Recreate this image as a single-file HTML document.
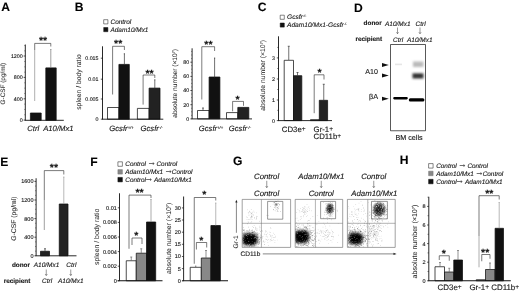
<!DOCTYPE html>
<html><head><meta charset="utf-8"><title>Figure</title>
<style>html,body{margin:0;padding:0;background:#fff;overflow:hidden}svg{display:block;filter:blur(0.45px)}text{stroke:#222;stroke-width:0.12px;text-rendering:geometricPrecision}text[transform]{stroke-width:0.05px;fill:#2a2a2a}</style></head>
<body>
<svg width="520" height="293" viewBox="0 0 520 293" stroke-linejoin="round" font-family='"Liberation Sans", sans-serif'>
<rect width="520" height="293" fill="#fff"/>
<text x="1.3" y="10.7" font-size="12.1" text-anchor="start" font-weight="bold" font-style="normal" fill="#000">A</text>
<text x="5.4" y="83.7" font-size="6.4" text-anchor="middle" font-weight="normal" font-style="normal" fill="#111" transform="rotate(-90 5.4 83.7)">G-CSF (pg/ml)</text>
<line x1="25.3" y1="44.5" x2="25.3" y2="120.3" stroke="#111" stroke-width="0.9"/>
<line x1="23.6" y1="120.1" x2="25.3" y2="120.1" stroke="#111" stroke-width="0.7"/>
<text x="22.7" y="122.01" font-size="5.3" text-anchor="end" font-weight="normal" font-style="normal" fill="#111">0</text>
<line x1="23.6" y1="98.8" x2="25.3" y2="98.8" stroke="#111" stroke-width="0.7"/>
<text x="22.7" y="100.71" font-size="5.3" text-anchor="end" font-weight="normal" font-style="normal" fill="#111">400</text>
<line x1="23.6" y1="77.4" x2="25.3" y2="77.4" stroke="#111" stroke-width="0.7"/>
<text x="22.7" y="79.31" font-size="5.3" text-anchor="end" font-weight="normal" font-style="normal" fill="#111">800</text>
<line x1="23.6" y1="56" x2="25.3" y2="56" stroke="#111" stroke-width="0.7"/>
<text x="22.7" y="57.91" font-size="5.3" text-anchor="end" font-weight="normal" font-style="normal" fill="#111">1200</text>
<line x1="24.2" y1="114.77" x2="25.3" y2="114.77" stroke="#333" stroke-width="0.5"/>
<line x1="24.2" y1="109.45" x2="25.3" y2="109.45" stroke="#333" stroke-width="0.5"/>
<line x1="24.2" y1="104.12" x2="25.3" y2="104.12" stroke="#333" stroke-width="0.5"/>
<line x1="24.2" y1="93.47" x2="25.3" y2="93.47" stroke="#333" stroke-width="0.5"/>
<line x1="24.2" y1="88.15" x2="25.3" y2="88.15" stroke="#333" stroke-width="0.5"/>
<line x1="24.2" y1="82.82" x2="25.3" y2="82.82" stroke="#333" stroke-width="0.5"/>
<line x1="24.2" y1="72.17" x2="25.3" y2="72.17" stroke="#333" stroke-width="0.5"/>
<line x1="24.2" y1="66.85" x2="25.3" y2="66.85" stroke="#333" stroke-width="0.5"/>
<line x1="24.2" y1="61.52" x2="25.3" y2="61.52" stroke="#333" stroke-width="0.5"/>
<line x1="24.2" y1="50.87" x2="25.3" y2="50.87" stroke="#333" stroke-width="0.5"/>
<line x1="24.2" y1="45.55" x2="25.3" y2="45.55" stroke="#333" stroke-width="0.5"/>
<rect x="30.4" y="113" width="10.800000000000004" height="7.299999999999997" fill="#111" stroke="#111" stroke-width="0.75"/>
<rect x="45.8" y="67.9" width="10.400000000000006" height="52.39999999999999" fill="#111" stroke="#111" stroke-width="0.75"/>
<line x1="50.8" y1="49.5" x2="50.8" y2="67.6" stroke="#777" stroke-width="0.7"/>
<line x1="50.199999999999996" y1="49.5" x2="51.4" y2="49.5" stroke="#777" stroke-width="0.7"/>
<polyline points="34.7,50 34.7,43.4 50.8,43.4 50.8,46.5" fill="none" stroke="#222" stroke-width="0.6"/>
<line x1="34.7" y1="50" x2="34.7" y2="101" stroke="#999" stroke-width="0.8"/>
<text x="43" y="43.55" font-size="10.5" text-anchor="middle" font-weight="bold" font-style="normal" fill="#111">**</text>
<line x1="24.8" y1="120.3" x2="63.8" y2="120.3" stroke="#111" stroke-width="0.9"/>
<text x="33.2" y="130.6" font-size="7.7" text-anchor="middle" font-weight="normal" font-style="italic" fill="#111">Ctrl</text>
<text x="58.4" y="130.6" font-size="7.7" text-anchor="middle" font-weight="normal" font-style="italic" fill="#111">A10/Mx1</text>
<text x="74.8" y="11.4" font-size="12.1" text-anchor="start" font-weight="bold" font-style="normal" fill="#000">B</text>
<rect x="103.7" y="19.7" width="4.2" height="4.2" fill="#fff" stroke="#111" stroke-width="0.5"/>
<text x="110.5" y="24" font-size="6.45" text-anchor="start" font-weight="normal" font-style="italic" fill="#111">Control</text>
<rect x="103.7" y="27.5" width="4.2" height="4.2" fill="#111" stroke="#111" stroke-width="0.5"/>
<text x="110.5" y="32" font-size="6.45" text-anchor="start" font-weight="normal" font-style="italic" fill="#111">Adam10/Mx1</text>
<text x="81.4" y="82" font-size="6.8" text-anchor="middle" font-weight="normal" font-style="normal" fill="#111" transform="rotate(-90 81.4 82)">spleen / body ratio</text>
<line x1="102.5" y1="46.3" x2="102.5" y2="119.2" stroke="#111" stroke-width="0.9"/>
<line x1="100.8" y1="119.2" x2="102.5" y2="119.2" stroke="#111" stroke-width="0.7"/>
<text x="98.5" y="121.11" font-size="5.3" text-anchor="end" font-weight="normal" font-style="normal" fill="#111">0</text>
<line x1="100.8" y1="99" x2="102.5" y2="99" stroke="#111" stroke-width="0.7"/>
<text x="98.5" y="100.91" font-size="5.3" text-anchor="end" font-weight="normal" font-style="normal" fill="#111">0.005</text>
<line x1="100.8" y1="79.2" x2="102.5" y2="79.2" stroke="#111" stroke-width="0.7"/>
<text x="98.5" y="81.11" font-size="5.3" text-anchor="end" font-weight="normal" font-style="normal" fill="#111">0.01</text>
<line x1="100.8" y1="58.2" x2="102.5" y2="58.2" stroke="#111" stroke-width="0.7"/>
<text x="98.5" y="60.11" font-size="5.3" text-anchor="end" font-weight="normal" font-style="normal" fill="#111">0.015</text>
<rect x="107.5" y="107.5" width="11.400000000000006" height="11.700000000000003" fill="#fff" stroke="#111" stroke-width="0.75"/>
<rect x="118.9" y="64.4" width="10.400000000000006" height="54.8" fill="#111" stroke="#111" stroke-width="0.75"/>
<line x1="124.4" y1="53.75" x2="124.4" y2="64.5" stroke="#333" stroke-width="0.7"/>
<line x1="123.80000000000001" y1="53.75" x2="125.0" y2="53.75" stroke="#333" stroke-width="0.7"/>
<polyline points="112.6,94.5 112.6,46.3 124.4,46.3 124.4,50" fill="none" stroke="#222" stroke-width="0.6"/>
<text x="118.2" y="47.25" font-size="10.5" text-anchor="middle" font-weight="bold" font-style="normal" fill="#111">**</text>
<rect x="137.4" y="108.4" width="11.699999999999989" height="10.799999999999997" fill="#fff" stroke="#111" stroke-width="0.75"/>
<rect x="149.1" y="88.1" width="10.900000000000006" height="31.10000000000001" fill="#222" stroke="#111" stroke-width="0.75"/>
<line x1="154.8" y1="79.8" x2="154.8" y2="88.25" stroke="#333" stroke-width="0.7"/>
<line x1="154.20000000000002" y1="79.8" x2="155.4" y2="79.8" stroke="#333" stroke-width="0.7"/>
<polyline points="143.1,104.6 143.1,75 154.8,75 154.8,78" fill="none" stroke="#222" stroke-width="0.6"/>
<text x="149.5" y="76.55" font-size="10.5" text-anchor="middle" font-weight="bold" font-style="normal" fill="#111">**</text>
<line x1="102" y1="119.2" x2="163.3" y2="119.2" stroke="#111" stroke-width="0.9"/>
<text x="109.3" y="131.3" font-size="7.7" font-style="italic" text-anchor="start" fill="#111">Gcsfr<tspan font-size="4.16" dy="-2.77">+/+</tspan></text>
<text x="140.5" y="131.3" font-size="7.7" font-style="italic" text-anchor="start" fill="#111">Gcsfr<tspan font-size="4.16" dy="-2.77">-/-</tspan></text>
<text x="177.3" y="83.3" font-size="6.6" text-anchor="middle" fill="#111" transform="rotate(-90 177.3 83.3)">absolute number (×10<tspan font-size="3.8" dy="-2">7</tspan><tspan dy="2">)</tspan></text>
<line x1="192.1" y1="48.3" x2="192.1" y2="118.9" stroke="#111" stroke-width="0.9"/>
<line x1="190.4" y1="118.9" x2="192.1" y2="118.9" stroke="#111" stroke-width="0.7"/>
<text x="189.2" y="120.81" font-size="5.3" text-anchor="end" font-weight="normal" font-style="normal" fill="#111">0</text>
<line x1="190.4" y1="104.7" x2="192.1" y2="104.7" stroke="#111" stroke-width="0.7"/>
<text x="189.2" y="106.61" font-size="5.3" text-anchor="end" font-weight="normal" font-style="normal" fill="#111">20</text>
<line x1="190.4" y1="90.5" x2="192.1" y2="90.5" stroke="#111" stroke-width="0.7"/>
<text x="189.2" y="92.41" font-size="5.3" text-anchor="end" font-weight="normal" font-style="normal" fill="#111">40</text>
<line x1="190.4" y1="76.4" x2="192.1" y2="76.4" stroke="#111" stroke-width="0.7"/>
<text x="189.2" y="78.31" font-size="5.3" text-anchor="end" font-weight="normal" font-style="normal" fill="#111">60</text>
<line x1="190.4" y1="62.2" x2="192.1" y2="62.2" stroke="#111" stroke-width="0.7"/>
<text x="189.2" y="64.11" font-size="5.3" text-anchor="end" font-weight="normal" font-style="normal" fill="#111">80</text>
<line x1="191.0" y1="115.35" x2="192.1" y2="115.35" stroke="#333" stroke-width="0.5"/>
<line x1="191.0" y1="111.8" x2="192.1" y2="111.8" stroke="#333" stroke-width="0.5"/>
<line x1="191.0" y1="108.25" x2="192.1" y2="108.25" stroke="#333" stroke-width="0.5"/>
<line x1="191.0" y1="101.15" x2="192.1" y2="101.15" stroke="#333" stroke-width="0.5"/>
<line x1="191.0" y1="97.6" x2="192.1" y2="97.6" stroke="#333" stroke-width="0.5"/>
<line x1="191.0" y1="94.05" x2="192.1" y2="94.05" stroke="#333" stroke-width="0.5"/>
<line x1="191.0" y1="86.95" x2="192.1" y2="86.95" stroke="#333" stroke-width="0.5"/>
<line x1="191.0" y1="83.4" x2="192.1" y2="83.4" stroke="#333" stroke-width="0.5"/>
<line x1="191.0" y1="79.85" x2="192.1" y2="79.85" stroke="#333" stroke-width="0.5"/>
<line x1="191.0" y1="72.75" x2="192.1" y2="72.75" stroke="#333" stroke-width="0.5"/>
<line x1="191.0" y1="69.2" x2="192.1" y2="69.2" stroke="#333" stroke-width="0.5"/>
<line x1="191.0" y1="65.65" x2="192.1" y2="65.65" stroke="#333" stroke-width="0.5"/>
<line x1="191.0" y1="58.55" x2="192.1" y2="58.55" stroke="#333" stroke-width="0.5"/>
<line x1="191.0" y1="55.0" x2="192.1" y2="55.0" stroke="#333" stroke-width="0.5"/>
<line x1="191.0" y1="51.45" x2="192.1" y2="51.45" stroke="#333" stroke-width="0.5"/>
<rect x="197.5" y="110.5" width="11.599999999999994" height="8.400000000000006" fill="#fff" stroke="#111" stroke-width="0.75"/>
<line x1="203" y1="108" x2="203" y2="110.5" stroke="#333" stroke-width="0.7"/>
<line x1="202.0" y1="108" x2="204.0" y2="108" stroke="#333" stroke-width="0.7"/>
<rect x="209.1" y="77" width="10.800000000000011" height="41.900000000000006" fill="#111" stroke="#111" stroke-width="0.75"/>
<line x1="214.6" y1="58" x2="214.6" y2="77.5" stroke="#333" stroke-width="0.7"/>
<line x1="214.0" y1="58" x2="215.2" y2="58" stroke="#333" stroke-width="0.7"/>
<polyline points="201.8,99.5 201.8,46.7 214.6,46.7 214.6,51" fill="none" stroke="#222" stroke-width="0.6"/>
<text x="208.4" y="48.25" font-size="10.5" text-anchor="middle" font-weight="bold" font-style="normal" fill="#111">**</text>
<rect x="226.5" y="112.6" width="11.300000000000011" height="6.300000000000011" fill="#fff" stroke="#111" stroke-width="0.75"/>
<rect x="237.8" y="107.4" width="11.0" height="11.5" fill="#222" stroke="#111" stroke-width="0.75"/>
<polyline points="232.6,111.3 232.6,101.4 243.5,101.4 243.5,105.8" fill="none" stroke="#222" stroke-width="0.6"/>
<text x="237.5" y="103.05" font-size="10.5" text-anchor="middle" font-weight="bold" font-style="normal" fill="#111">*</text>
<line x1="191.6" y1="118.9" x2="252" y2="118.9" stroke="#111" stroke-width="0.9"/>
<text x="198.75" y="131.3" font-size="7.7" font-style="italic" text-anchor="start" fill="#111">Gcsfr<tspan font-size="4.16" dy="-2.77">+/+</tspan></text>
<text x="228.75" y="131.3" font-size="7.7" font-style="italic" text-anchor="start" fill="#111">Gcsfr<tspan font-size="4.16" dy="-2.77">-/-</tspan></text>
<text x="257.8" y="11.3" font-size="12.1" text-anchor="start" font-weight="bold" font-style="normal" fill="#000">C</text>
<rect x="280.2" y="15.2" width="4.1" height="4.1" fill="#fff" stroke="#111" stroke-width="0.5"/>
<text x="287" y="19.4" font-size="6.6" font-style="italic" text-anchor="start" fill="#111">Gcsfr<tspan font-size="3.56" dy="-2.38">-/-</tspan></text>
<rect x="280.2" y="23" width="4.1" height="4.1" fill="#111" stroke="#111" stroke-width="0.5"/>
<text x="287" y="27.4" font-size="6.6" font-style="italic" fill="#111">Adam10/Mx1-Gcsfr<tspan font-size="3.4" dy="-2.5">-/-</tspan></text>
<text x="265.2" y="75.3" font-size="6.8" text-anchor="middle" fill="#111" transform="rotate(-90 265.2 75.3)">absolute number (×10<tspan font-size="3.8" dy="-2">7</tspan><tspan dy="2">)</tspan></text>
<line x1="278.5" y1="36.3" x2="278.5" y2="120.6" stroke="#111" stroke-width="0.9"/>
<line x1="276.8" y1="120.6" x2="278.5" y2="120.6" stroke="#111" stroke-width="0.7"/>
<text x="274.9" y="122.51" font-size="5.3" text-anchor="end" font-weight="normal" font-style="normal" fill="#111">0</text>
<line x1="276.8" y1="100" x2="278.5" y2="100" stroke="#111" stroke-width="0.7"/>
<text x="274.9" y="101.91" font-size="5.3" text-anchor="end" font-weight="normal" font-style="normal" fill="#111">1</text>
<line x1="276.8" y1="79" x2="278.5" y2="79" stroke="#111" stroke-width="0.7"/>
<text x="274.9" y="80.91" font-size="5.3" text-anchor="end" font-weight="normal" font-style="normal" fill="#111">2</text>
<line x1="276.8" y1="57.9" x2="278.5" y2="57.9" stroke="#111" stroke-width="0.7"/>
<text x="274.9" y="59.81" font-size="5.3" text-anchor="end" font-weight="normal" font-style="normal" fill="#111">3</text>
<line x1="277.2" y1="110.3" x2="278.5" y2="110.3" stroke="#111" stroke-width="0.5"/>
<line x1="277.2" y1="89.5" x2="278.5" y2="89.5" stroke="#111" stroke-width="0.5"/>
<line x1="277.2" y1="68.5" x2="278.5" y2="68.5" stroke="#111" stroke-width="0.5"/>
<line x1="277.2" y1="47.4" x2="278.5" y2="47.4" stroke="#111" stroke-width="0.5"/>
<rect x="284.2" y="60.3" width="9.300000000000011" height="60.3" fill="#fff" stroke="#111" stroke-width="0.75"/>
<line x1="288.75" y1="46.25" x2="288.75" y2="60" stroke="#333" stroke-width="0.7"/>
<line x1="287.75" y1="46.25" x2="289.75" y2="46.25" stroke="#333" stroke-width="0.7"/>
<rect x="293.5" y="75.7" width="8.300000000000011" height="44.89999999999999" fill="#222" stroke="#111" stroke-width="0.75"/>
<line x1="297.5" y1="72.5" x2="297.5" y2="75.5" stroke="#333" stroke-width="0.7"/>
<line x1="296.5" y1="72.5" x2="298.5" y2="72.5" stroke="#333" stroke-width="0.7"/>
<rect x="310.5" y="119.6" width="8.800000000000011" height="1.0" fill="#fff" stroke="#111" stroke-width="0.75"/>
<rect x="319.3" y="100.3" width="8.300000000000011" height="20.299999999999997" fill="#222" stroke="#111" stroke-width="0.75"/>
<line x1="323.75" y1="84.25" x2="323.75" y2="100.5" stroke="#333" stroke-width="0.7"/>
<line x1="322.75" y1="84.25" x2="324.75" y2="84.25" stroke="#333" stroke-width="0.7"/>
<polyline points="314.2,113.2 314.2,74.8 324,74.8 324,79.5" fill="none" stroke="#222" stroke-width="0.6"/>
<text x="319.6" y="76.05" font-size="10.5" text-anchor="middle" font-weight="bold" font-style="normal" fill="#111">*</text>
<line x1="278" y1="120.6" x2="332" y2="120.6" stroke="#111" stroke-width="0.9"/>
<text x="281.8" y="132" font-size="7.8" text-anchor="start" font-weight="normal" font-style="normal" fill="#111">CD3e<tspan font-size="6.6" dy="-1.3">+</tspan></text>
<text x="313.6" y="132" font-size="7.8" text-anchor="start" font-weight="normal" font-style="normal" fill="#111">Gr-1<tspan font-size="6.6" dy="-1.3">+</tspan></text>
<text x="313.6" y="138.8" font-size="7.8" text-anchor="start" font-weight="normal" font-style="normal" fill="#111">CD11b<tspan font-size="6.6" dy="-1.3">+</tspan></text>
<text x="354" y="11.5" font-size="12.1" text-anchor="start" font-weight="bold" font-style="normal" fill="#000">D</text>
<text x="363.6" y="25.4" font-size="6.4" text-anchor="start" font-weight="bold" font-style="normal" fill="#111">donor</text>
<text x="355.4" y="41.3" font-size="6.4" text-anchor="start" font-weight="bold" font-style="normal" fill="#111">recipient</text>
<text x="385" y="25.5" font-size="6.5" text-anchor="start" font-weight="normal" font-style="italic" fill="#111">A10/Mx1</text>
<text x="415.5" y="25.5" font-size="6.5" text-anchor="start" font-weight="normal" font-style="italic" fill="#111">Ctrl</text>
<line x1="397.5" y1="27.5" x2="397.5" y2="33.7" stroke="#333" stroke-width="0.5"/>
<polyline points="396.4,32.300000000000004 397.5,33.7 398.6,32.300000000000004" fill="none" stroke="#333" stroke-width="0.5"/>
<line x1="420" y1="27.5" x2="420" y2="33.7" stroke="#333" stroke-width="0.5"/>
<polyline points="418.9,32.300000000000004 420,33.7 421.1,32.300000000000004" fill="none" stroke="#333" stroke-width="0.5"/>
<text x="393" y="41.5" font-size="6.5" text-anchor="start" font-weight="normal" font-style="italic" fill="#111">Ctrl</text>
<text x="407" y="41.5" font-size="6.5" text-anchor="start" font-weight="normal" font-style="italic" fill="#111">A10/Mx1</text>
<rect x="390.5" y="44.5" width="35" height="86.25" fill="#fff" stroke="#111" stroke-width="0.7"/>
<polygon points="382,62.900000000000006 388.8,64.9 382,66.9" fill="#111"/>
<polygon points="382,73.5 388.8,75.5 382,77.5" fill="#111"/>
<polygon points="382,96.7 388.8,98.7 382,100.7" fill="#111"/>
<text x="365.3" y="73.8" font-size="7.1" text-anchor="start" font-weight="normal" font-style="normal" fill="#111">A10</text>
<text x="369" y="99.3" font-size="7.3" text-anchor="start" font-weight="normal" font-style="normal" fill="#111">βA</text>
<text x="395.5" y="140" font-size="7.2" text-anchor="start" font-weight="normal" font-style="normal" fill="#111">BM cells</text>
<defs><filter id="b1" x="-20%" y="-50%" width="140%" height="200%"><feGaussianBlur stdDeviation="0.9"/></filter><filter id="b2" x="-20%" y="-80%" width="140%" height="260%"><feGaussianBlur stdDeviation="0.5"/></filter></defs>
<rect x="395" y="63.6" width="7" height="1.6" fill="#e6e6e6" filter="url(#b2)"/>
<rect x="413" y="61.5" width="10.5" height="5.5" fill="#bbb" filter="url(#b1)"/>
<rect x="412.5" y="73.3" width="11" height="5.2" fill="#333" filter="url(#b1)"/>
<rect x="393.2" y="97.1" width="14.6" height="2.3" rx="1.1" fill="#000" filter="url(#b2)"/>
<rect x="408.8" y="98.2" width="15.6" height="3.2" rx="1.5" fill="#000" filter="url(#b2)"/>
<text x="0.2" y="165.6" font-size="12.1" text-anchor="start" font-weight="bold" font-style="normal" fill="#000">E</text>
<text x="15.7" y="218.6" font-size="6.8" text-anchor="middle" font-weight="normal" font-style="normal" fill="#111" transform="rotate(-90 15.7 218.6)">G-CSF (pg/ml)</text>
<line x1="36.1" y1="178.25" x2="36.1" y2="255.8" stroke="#111" stroke-width="0.9"/>
<line x1="34.4" y1="255.8" x2="36.1" y2="255.8" stroke="#111" stroke-width="0.7"/>
<text x="33.5" y="257.78" font-size="5.5" text-anchor="end" font-weight="normal" font-style="normal" fill="#111">0</text>
<line x1="34.4" y1="237.2" x2="36.1" y2="237.2" stroke="#111" stroke-width="0.7"/>
<text x="33.5" y="239.18" font-size="5.5" text-anchor="end" font-weight="normal" font-style="normal" fill="#111">400</text>
<line x1="34.4" y1="218.6" x2="36.1" y2="218.6" stroke="#111" stroke-width="0.7"/>
<text x="33.5" y="220.58" font-size="5.5" text-anchor="end" font-weight="normal" font-style="normal" fill="#111">800</text>
<line x1="34.4" y1="200" x2="36.1" y2="200" stroke="#111" stroke-width="0.7"/>
<text x="33.5" y="201.98" font-size="5.5" text-anchor="end" font-weight="normal" font-style="normal" fill="#111">1200</text>
<line x1="34.4" y1="181.4" x2="36.1" y2="181.4" stroke="#111" stroke-width="0.7"/>
<text x="33.5" y="183.38" font-size="5.5" text-anchor="end" font-weight="normal" font-style="normal" fill="#111">1600</text>
<line x1="35.0" y1="251.15" x2="36.1" y2="251.15" stroke="#333" stroke-width="0.5"/>
<line x1="35.0" y1="246.5" x2="36.1" y2="246.5" stroke="#333" stroke-width="0.5"/>
<line x1="35.0" y1="241.85" x2="36.1" y2="241.85" stroke="#333" stroke-width="0.5"/>
<line x1="35.0" y1="232.55" x2="36.1" y2="232.55" stroke="#333" stroke-width="0.5"/>
<line x1="35.0" y1="227.9" x2="36.1" y2="227.9" stroke="#333" stroke-width="0.5"/>
<line x1="35.0" y1="223.25" x2="36.1" y2="223.25" stroke="#333" stroke-width="0.5"/>
<line x1="35.0" y1="213.95" x2="36.1" y2="213.95" stroke="#333" stroke-width="0.5"/>
<line x1="35.0" y1="209.3" x2="36.1" y2="209.3" stroke="#333" stroke-width="0.5"/>
<line x1="35.0" y1="204.65" x2="36.1" y2="204.65" stroke="#333" stroke-width="0.5"/>
<line x1="35.0" y1="195.35" x2="36.1" y2="195.35" stroke="#333" stroke-width="0.5"/>
<line x1="35.0" y1="190.7" x2="36.1" y2="190.7" stroke="#333" stroke-width="0.5"/>
<line x1="35.0" y1="186.05" x2="36.1" y2="186.05" stroke="#333" stroke-width="0.5"/>
<rect x="40.5" y="251.25" width="9.0" height="4.550000000000011" fill="#222" stroke="#111" stroke-width="0.75"/>
<line x1="45" y1="248.75" x2="45" y2="251.25" stroke="#333" stroke-width="0.7"/>
<line x1="44.0" y1="248.75" x2="46.0" y2="248.75" stroke="#333" stroke-width="0.7"/>
<rect x="59.25" y="204" width="8.75" height="51.80000000000001" fill="#222" stroke="#111" stroke-width="0.75"/>
<line x1="63.8" y1="177" x2="63.8" y2="204" stroke="#999" stroke-width="0.7"/>
<line x1="63.199999999999996" y1="177" x2="64.39999999999999" y2="177" stroke="#999" stroke-width="0.7"/>
<polyline points="44.3,200 44.3,170.6 63.8,170.6 63.8,174.5" fill="none" stroke="#222" stroke-width="0.6"/>
<line x1="44.3" y1="200" x2="44.3" y2="230" stroke="#888" stroke-width="0.8"/>
<text x="53.9" y="170.95" font-size="10.5" text-anchor="middle" font-weight="bold" font-style="normal" fill="#111">**</text>
<line x1="35.6" y1="255.8" x2="76.5" y2="255.8" stroke="#111" stroke-width="0.9"/>
<text x="11.9" y="267.2" font-size="6.4" text-anchor="start" font-weight="bold" font-style="normal" fill="#111">donor</text>
<text x="3.7" y="283" font-size="6.4" text-anchor="start" font-weight="bold" font-style="normal" fill="#111">recipient</text>
<text x="33.75" y="267.3" font-size="6.5" text-anchor="start" font-weight="normal" font-style="italic" fill="#111">A10/Mx1</text>
<text x="66.25" y="267.3" font-size="6.5" text-anchor="start" font-weight="normal" font-style="italic" fill="#111">Ctrl</text>
<line x1="46.25" y1="269.5" x2="46.25" y2="275.5" stroke="#333" stroke-width="0.5"/>
<polyline points="45.15,274.1 46.25,275.5 47.35,274.1" fill="none" stroke="#333" stroke-width="0.5"/>
<line x1="70.75" y1="269.5" x2="70.75" y2="275.5" stroke="#333" stroke-width="0.5"/>
<polyline points="69.65,274.1 70.75,275.5 71.85,274.1" fill="none" stroke="#333" stroke-width="0.5"/>
<text x="42" y="283.1" font-size="6.5" text-anchor="start" font-weight="normal" font-style="italic" fill="#111">Ctrl</text>
<text x="58" y="283.1" font-size="6.5" text-anchor="start" font-weight="normal" font-style="italic" fill="#111">A10/Mx1</text>
<text x="90.3" y="165.6" font-size="12.1" text-anchor="start" font-weight="bold" font-style="normal" fill="#000">F</text>
<rect x="117.89999999999999" y="161.79999999999998" width="4.5" height="4.5" fill="#fff" stroke="#111" stroke-width="0.5"/>
<rect x="117.89999999999999" y="169.6" width="4.5" height="4.5" fill="#888" stroke="#777" stroke-width="0.5"/>
<rect x="117.89999999999999" y="177.4" width="4.5" height="4.5" fill="#111" stroke="#111" stroke-width="0.5"/>
<text y="166.2" font-size="6.4" font-style="italic" fill="#111"><tspan x="125.3" y="166.2">Control</tspan><tspan x="147.2" dy="-1.1" stroke-width="0.25" fill="#444" stroke="#444" font-size="8.8" font-style="normal">→</tspan><tspan x="156.5" y="166.2">Control</tspan></text>
<text y="174" font-size="6.4" font-style="italic" fill="#111"><tspan x="125.3" y="174">Adam10/Mx1</tspan><tspan x="164.2" dy="-1.1" stroke-width="0.25" fill="#444" stroke="#444" font-size="8.8" font-style="normal">→</tspan><tspan x="171.8" y="174">Control</tspan></text>
<text y="181.8" font-size="6.4" font-style="italic" fill="#111"><tspan x="125.3" y="181.8">Control</tspan><tspan x="144.4" dy="-1.1" stroke-width="0.25" fill="#444" stroke="#444" font-size="8.8" font-style="normal">→</tspan><tspan x="154.1" y="181.8">Adam10/Mx1</tspan></text>
<text x="98.7" y="236.8" font-size="6.9" text-anchor="middle" font-weight="normal" font-style="normal" fill="#111" transform="rotate(-90 98.7 236.8)">spleen / body ratio</text>
<line x1="119.5" y1="193.25" x2="119.5" y2="280.8" stroke="#111" stroke-width="0.9"/>
<line x1="117.8" y1="280.8" x2="119.5" y2="280.8" stroke="#111" stroke-width="0.7"/>
<text x="116.8" y="282.78" font-size="5.5" text-anchor="end" font-weight="normal" font-style="normal" fill="#111">0</text>
<line x1="117.8" y1="266.2" x2="119.5" y2="266.2" stroke="#111" stroke-width="0.7"/>
<text x="116.8" y="268.18" font-size="5.5" text-anchor="end" font-weight="normal" font-style="normal" fill="#111">0.002</text>
<line x1="117.8" y1="251.6" x2="119.5" y2="251.6" stroke="#111" stroke-width="0.7"/>
<text x="116.8" y="253.58" font-size="5.5" text-anchor="end" font-weight="normal" font-style="normal" fill="#111">0.004</text>
<line x1="117.8" y1="237" x2="119.5" y2="237" stroke="#111" stroke-width="0.7"/>
<text x="116.8" y="238.98" font-size="5.5" text-anchor="end" font-weight="normal" font-style="normal" fill="#111">0.006</text>
<line x1="117.8" y1="222.4" x2="119.5" y2="222.4" stroke="#111" stroke-width="0.7"/>
<text x="116.8" y="224.38" font-size="5.5" text-anchor="end" font-weight="normal" font-style="normal" fill="#111">0.008</text>
<line x1="117.8" y1="207.8" x2="119.5" y2="207.8" stroke="#111" stroke-width="0.7"/>
<text x="116.8" y="209.78" font-size="5.5" text-anchor="end" font-weight="normal" font-style="normal" fill="#111">0.01</text>
<rect x="126.25" y="260.75" width="10.0" height="20.05000000000001" fill="#fff" stroke="#111" stroke-width="0.75"/>
<line x1="131.25" y1="257" x2="131.25" y2="260.75" stroke="#666" stroke-width="0.7"/>
<line x1="130.25" y1="257" x2="132.25" y2="257" stroke="#666" stroke-width="0.7"/>
<rect x="136.25" y="253.2" width="10.25" height="27.600000000000023" fill="#888" stroke="#111" stroke-width="0.75"/>
<line x1="141.25" y1="248.75" x2="141.25" y2="253" stroke="#666" stroke-width="0.7"/>
<line x1="140.25" y1="248.75" x2="142.25" y2="248.75" stroke="#666" stroke-width="0.7"/>
<rect x="146.5" y="222" width="9.199999999999989" height="58.80000000000001" fill="#111" stroke="#111" stroke-width="0.75"/>
<line x1="151" y1="199.5" x2="151" y2="222" stroke="#888" stroke-width="0.7"/>
<line x1="150.4" y1="199.5" x2="151.6" y2="199.5" stroke="#888" stroke-width="0.7"/>
<polyline points="129,248.75 129,195.1 151,195.1 151,198" fill="none" stroke="#222" stroke-width="0.6"/>
<text x="139.5" y="196.25" font-size="10.5" text-anchor="middle" font-weight="bold" font-style="normal" fill="#111">**</text>
<polyline points="132,245 132,238 142,238 142,244" fill="none" stroke="#222" stroke-width="0.6"/>
<text x="136.25" y="239.0" font-size="10.5" text-anchor="middle" font-weight="bold" font-style="normal" fill="#111">*</text>
<line x1="117.6" y1="280.8" x2="162.5" y2="280.8" stroke="#111" stroke-width="1.1"/>
<text x="170.6" y="238.4" font-size="6.85" text-anchor="middle" fill="#111" transform="rotate(-90 170.6 238.4)">absolute number (×10<tspan font-size="3.9" dy="-2">7</tspan><tspan dy="2">)</tspan></text>
<line x1="183.6" y1="196.5" x2="183.6" y2="280.8" stroke="#111" stroke-width="0.9"/>
<line x1="181.9" y1="280.8" x2="183.6" y2="280.8" stroke="#111" stroke-width="0.7"/>
<text x="180.8" y="282.78" font-size="5.5" text-anchor="end" font-weight="normal" font-style="normal" fill="#111">0</text>
<line x1="181.9" y1="268.6" x2="183.6" y2="268.6" stroke="#111" stroke-width="0.7"/>
<text x="180.8" y="270.58" font-size="5.5" text-anchor="end" font-weight="normal" font-style="normal" fill="#111">5</text>
<line x1="181.9" y1="256.5" x2="183.6" y2="256.5" stroke="#111" stroke-width="0.7"/>
<text x="180.8" y="258.48" font-size="5.5" text-anchor="end" font-weight="normal" font-style="normal" fill="#111">10</text>
<line x1="181.9" y1="244.3" x2="183.6" y2="244.3" stroke="#111" stroke-width="0.7"/>
<text x="180.8" y="246.28" font-size="5.5" text-anchor="end" font-weight="normal" font-style="normal" fill="#111">15</text>
<line x1="181.9" y1="232.2" x2="183.6" y2="232.2" stroke="#111" stroke-width="0.7"/>
<text x="180.8" y="234.18" font-size="5.5" text-anchor="end" font-weight="normal" font-style="normal" fill="#111">20</text>
<line x1="181.9" y1="220" x2="183.6" y2="220" stroke="#111" stroke-width="0.7"/>
<text x="180.8" y="221.98" font-size="5.5" text-anchor="end" font-weight="normal" font-style="normal" fill="#111">25</text>
<line x1="181.9" y1="207.9" x2="183.6" y2="207.9" stroke="#111" stroke-width="0.7"/>
<text x="180.8" y="209.88" font-size="5.5" text-anchor="end" font-weight="normal" font-style="normal" fill="#111">30</text>
<rect x="190.2" y="267.3" width="11.100000000000023" height="13.5" fill="#fff" stroke="#111" stroke-width="0.75"/>
<line x1="195.7" y1="266" x2="195.7" y2="267.3" stroke="#666" stroke-width="0.7"/>
<line x1="195.1" y1="266" x2="196.29999999999998" y2="266" stroke="#666" stroke-width="0.7"/>
<rect x="201.3" y="258" width="9.599999999999994" height="22.80000000000001" fill="#888" stroke="#111" stroke-width="0.75"/>
<line x1="206" y1="250.5" x2="206" y2="258" stroke="#666" stroke-width="0.7"/>
<line x1="205.0" y1="250.5" x2="207.0" y2="250.5" stroke="#666" stroke-width="0.7"/>
<rect x="210.9" y="225.5" width="9.5" height="55.30000000000001" fill="#111" stroke="#111" stroke-width="0.75"/>
<line x1="215.75" y1="203" x2="215.75" y2="225.5" stroke="#999" stroke-width="0.7"/>
<line x1="215.15" y1="203" x2="216.35" y2="203" stroke="#999" stroke-width="0.7"/>
<polyline points="194.25,263.75 194.25,197.5 215.75,197.5 215.75,200.5" fill="none" stroke="#222" stroke-width="0.6"/>
<text x="204.3" y="198.0" font-size="10.5" text-anchor="middle" font-weight="bold" font-style="normal" fill="#111">*</text>
<polyline points="196.4,249.5 196.4,242.5 206.7,242.5 206.7,247.5" fill="none" stroke="#222" stroke-width="0.6"/>
<text x="201.25" y="244.0" font-size="10.5" text-anchor="middle" font-weight="bold" font-style="normal" fill="#111">*</text>
<line x1="182.3" y1="280.7" x2="228" y2="280.7" stroke="#111" stroke-width="1.1"/>
<text x="233" y="165.2" font-size="12.1" text-anchor="start" font-weight="bold" font-style="normal" fill="#000">G</text>
<line x1="236.4" y1="232.8" x2="236.4" y2="201" stroke="#222" stroke-width="0.55"/>
<polygon points="235.3,202.6 236.4,199.7 237.5,202.6" fill="#222"/>
<text x="237.8" y="241.8" font-size="6.6" text-anchor="middle" font-weight="normal" font-style="normal" fill="#111" transform="rotate(-90 237.8 241.8)">Gr-1</text>
<text x="240.5" y="256.3" font-size="6.55" text-anchor="start" font-weight="normal" font-style="normal" fill="#111">CD11b</text>
<line x1="262.8" y1="253.9" x2="394" y2="253.9" stroke="#222" stroke-width="0.55"/>
<polygon points="393.5,252.8 396.6,253.9 393.5,255" fill="#222"/>
<defs>
<filter id="bb" x="-40%" y="-40%" width="180%" height="180%"><feGaussianBlur stdDeviation="1.6" result="b"/><feTurbulence type="fractalNoise" baseFrequency="0.85" numOctaves="2" seed="3" result="n"/><feColorMatrix in="n" type="matrix" values="0 0 0 0 0  0 0 0 0 0  0 0 0 0 0  0 0 0 -2.2 2.2" result="a"/><feComposite in="b" in2="a" operator="in"/></filter>
<filter id="mo" x="-20%" y="-20%" width="140%" height="140%"><feTurbulence type="fractalNoise" baseFrequency="0.8" numOctaves="2" seed="8" result="n"/><feColorMatrix in="n" type="matrix" values="0 0 0 0 0  0 0 0 0 0  0 0 0 0 0  0 0 0 -2.6 2.3" result="a"/><feComposite in="SourceGraphic" in2="a" operator="in"/></filter>
<radialGradient id="blob"><stop offset="0" stop-color="#000" stop-opacity="1"/><stop offset="0.45" stop-color="#000" stop-opacity="0.95"/><stop offset="0.75" stop-color="#000" stop-opacity="0.45"/><stop offset="1" stop-color="#000" stop-opacity="0"/></radialGradient>
<radialGradient id="soft"><stop offset="0" stop-color="#000" stop-opacity="0.95"/><stop offset="0.5" stop-color="#000" stop-opacity="0.6"/><stop offset="1" stop-color="#000" stop-opacity="0"/></radialGradient>
<radialGradient id="faint2"><stop offset="0" stop-color="#000" stop-opacity="0.6"/><stop offset="1" stop-color="#000" stop-opacity="0"/></radialGradient>
<radialGradient id="mott"><stop offset="0" stop-color="#000" stop-opacity="0.85"/><stop offset="0.6" stop-color="#000" stop-opacity="0.6"/><stop offset="1" stop-color="#000" stop-opacity="0"/></radialGradient>
</defs>
<clipPath id="cp1"><rect x="242.2" y="199.4" width="48.400000000000034" height="48.0"/></clipPath>
<g clip-path="url(#cp1)">
<circle cx="248.4" cy="241.6" r="0.35" fill="#000" fill-opacity="0.5"/>
<circle cx="248.6" cy="237.9" r="0.35" fill="#000" fill-opacity="0.5"/>
<circle cx="244.7" cy="238.3" r="0.35" fill="#000" fill-opacity="0.5"/>
<circle cx="255.9" cy="241.2" r="0.35" fill="#000" fill-opacity="0.5"/>
<circle cx="255.5" cy="240.4" r="0.35" fill="#000" fill-opacity="0.5"/>
<circle cx="252.0" cy="240.1" r="0.35" fill="#000" fill-opacity="0.5"/>
<circle cx="252.6" cy="241.5" r="0.35" fill="#000" fill-opacity="0.5"/>
<circle cx="244.9" cy="237.2" r="0.35" fill="#000" fill-opacity="0.5"/>
<circle cx="251.5" cy="239.1" r="0.35" fill="#000" fill-opacity="0.5"/>
<circle cx="252.7" cy="236.4" r="0.35" fill="#000" fill-opacity="0.5"/>
<circle cx="251.5" cy="241.1" r="0.35" fill="#000" fill-opacity="0.5"/>
<circle cx="252.9" cy="244.7" r="0.35" fill="#000" fill-opacity="0.5"/>
<circle cx="246.4" cy="236.0" r="0.35" fill="#000" fill-opacity="0.5"/>
<circle cx="247.9" cy="238.8" r="0.35" fill="#000" fill-opacity="0.5"/>
<circle cx="253.3" cy="240.4" r="0.35" fill="#000" fill-opacity="0.5"/>
<circle cx="247.3" cy="235.0" r="0.35" fill="#000" fill-opacity="0.5"/>
<circle cx="246.9" cy="244.8" r="0.35" fill="#000" fill-opacity="0.5"/>
<circle cx="245.4" cy="240.4" r="0.35" fill="#000" fill-opacity="0.5"/>
<circle cx="252.1" cy="232.6" r="0.35" fill="#000" fill-opacity="0.5"/>
<circle cx="250.1" cy="245.2" r="0.35" fill="#000" fill-opacity="0.5"/>
<circle cx="249.2" cy="235.6" r="0.35" fill="#000" fill-opacity="0.5"/>
<circle cx="252.5" cy="239.0" r="0.35" fill="#000" fill-opacity="0.5"/>
<circle cx="253.5" cy="243.6" r="0.35" fill="#000" fill-opacity="0.5"/>
<circle cx="257.7" cy="240.9" r="0.35" fill="#000" fill-opacity="0.5"/>
<circle cx="250.5" cy="233.5" r="0.35" fill="#000" fill-opacity="0.5"/>
<circle cx="253.2" cy="236.5" r="0.35" fill="#000" fill-opacity="0.5"/>
<circle cx="247.3" cy="233.6" r="0.35" fill="#000" fill-opacity="0.5"/>
<circle cx="244.5" cy="236.9" r="0.35" fill="#000" fill-opacity="0.5"/>
<circle cx="256.9" cy="230.2" r="0.35" fill="#000" fill-opacity="0.5"/>
<circle cx="257.7" cy="241.9" r="0.35" fill="#000" fill-opacity="0.5"/>
<circle cx="251.8" cy="236.0" r="0.35" fill="#000" fill-opacity="0.5"/>
<circle cx="243.6" cy="243.7" r="0.35" fill="#000" fill-opacity="0.5"/>
<circle cx="255.9" cy="240.0" r="0.35" fill="#000" fill-opacity="0.5"/>
<circle cx="251.2" cy="241.3" r="0.35" fill="#000" fill-opacity="0.5"/>
<circle cx="258.6" cy="242.1" r="0.35" fill="#000" fill-opacity="0.5"/>
<circle cx="252.7" cy="241.8" r="0.35" fill="#000" fill-opacity="0.5"/>
<circle cx="255.1" cy="241.7" r="0.35" fill="#000" fill-opacity="0.5"/>
<circle cx="254.4" cy="231.1" r="0.35" fill="#000" fill-opacity="0.5"/>
<circle cx="248.8" cy="243.9" r="0.35" fill="#000" fill-opacity="0.5"/>
<circle cx="252.8" cy="238.6" r="0.35" fill="#000" fill-opacity="0.5"/>
<circle cx="251.6" cy="242.2" r="0.35" fill="#000" fill-opacity="0.5"/>
<circle cx="250.5" cy="244.5" r="0.35" fill="#000" fill-opacity="0.5"/>
<circle cx="246.2" cy="237.4" r="0.35" fill="#000" fill-opacity="0.5"/>
<circle cx="255.5" cy="239.4" r="0.35" fill="#000" fill-opacity="0.5"/>
<circle cx="245.0" cy="243.6" r="0.35" fill="#000" fill-opacity="0.5"/>
<circle cx="257.9" cy="237.3" r="0.35" fill="#000" fill-opacity="0.5"/>
<circle cx="249.0" cy="238.0" r="0.35" fill="#000" fill-opacity="0.5"/>
<circle cx="257.5" cy="234.7" r="0.35" fill="#000" fill-opacity="0.5"/>
<circle cx="256.7" cy="233.6" r="0.35" fill="#000" fill-opacity="0.5"/>
<circle cx="245.5" cy="242.1" r="0.35" fill="#000" fill-opacity="0.5"/>
<circle cx="256.0" cy="243.2" r="0.35" fill="#000" fill-opacity="0.5"/>
<circle cx="251.7" cy="239.9" r="0.35" fill="#000" fill-opacity="0.5"/>
<circle cx="250.6" cy="241.9" r="0.35" fill="#000" fill-opacity="0.5"/>
<circle cx="248.8" cy="240.5" r="0.35" fill="#000" fill-opacity="0.5"/>
<circle cx="252.9" cy="239.3" r="0.35" fill="#000" fill-opacity="0.5"/>
<circle cx="254.0" cy="241.8" r="0.35" fill="#000" fill-opacity="0.5"/>
<circle cx="260.9" cy="240.8" r="0.35" fill="#000" fill-opacity="0.5"/>
<circle cx="247.4" cy="237.6" r="0.35" fill="#000" fill-opacity="0.5"/>
<circle cx="249.7" cy="243.5" r="0.35" fill="#000" fill-opacity="0.5"/>
<circle cx="247.9" cy="241.0" r="0.35" fill="#000" fill-opacity="0.5"/>
<circle cx="259.9" cy="227.8" r="0.35" fill="#000" fill-opacity="0.5"/>
<circle cx="243.6" cy="240.4" r="0.35" fill="#000" fill-opacity="0.5"/>
<circle cx="252.0" cy="240.4" r="0.35" fill="#000" fill-opacity="0.5"/>
<circle cx="247.4" cy="242.2" r="0.35" fill="#000" fill-opacity="0.5"/>
<circle cx="251.4" cy="237.0" r="0.35" fill="#000" fill-opacity="0.5"/>
<circle cx="263.2" cy="240.9" r="0.35" fill="#000" fill-opacity="0.5"/>
<circle cx="246.8" cy="238.9" r="0.35" fill="#000" fill-opacity="0.5"/>
<circle cx="248.6" cy="239.0" r="0.35" fill="#000" fill-opacity="0.5"/>
<circle cx="255.3" cy="234.0" r="0.35" fill="#000" fill-opacity="0.5"/>
<circle cx="249.4" cy="243.6" r="0.35" fill="#000" fill-opacity="0.5"/>
<circle cx="254.5" cy="246.0" r="0.35" fill="#000" fill-opacity="0.5"/>
<circle cx="247.9" cy="242.1" r="0.35" fill="#000" fill-opacity="0.5"/>
<circle cx="255.8" cy="227.2" r="0.35" fill="#000" fill-opacity="0.5"/>
<circle cx="255.8" cy="232.8" r="0.35" fill="#000" fill-opacity="0.5"/>
<circle cx="253.6" cy="232.6" r="0.35" fill="#000" fill-opacity="0.5"/>
<circle cx="250.8" cy="244.7" r="0.35" fill="#000" fill-opacity="0.5"/>
<circle cx="249.0" cy="240.2" r="0.35" fill="#000" fill-opacity="0.5"/>
<circle cx="254.2" cy="239.9" r="0.35" fill="#000" fill-opacity="0.5"/>
<circle cx="249.3" cy="246.2" r="0.35" fill="#000" fill-opacity="0.5"/>
<circle cx="255.6" cy="238.0" r="0.35" fill="#000" fill-opacity="0.5"/>
<circle cx="264.9" cy="234.1" r="0.35" fill="#000" fill-opacity="0.5"/>
<circle cx="254.8" cy="238.1" r="0.35" fill="#000" fill-opacity="0.5"/>
<circle cx="250.5" cy="242.5" r="0.35" fill="#000" fill-opacity="0.5"/>
<circle cx="251.0" cy="242.2" r="0.35" fill="#000" fill-opacity="0.5"/>
<circle cx="253.2" cy="235.0" r="0.35" fill="#000" fill-opacity="0.5"/>
<circle cx="244.2" cy="232.7" r="0.35" fill="#000" fill-opacity="0.5"/>
<circle cx="256.8" cy="242.7" r="0.35" fill="#000" fill-opacity="0.5"/>
<circle cx="257.9" cy="235.1" r="0.35" fill="#000" fill-opacity="0.5"/>
<circle cx="249.8" cy="234.2" r="0.35" fill="#000" fill-opacity="0.5"/>
<circle cx="254.0" cy="246.5" r="0.35" fill="#000" fill-opacity="0.5"/>
<circle cx="244.9" cy="246.3" r="0.35" fill="#000" fill-opacity="0.5"/>
<circle cx="255.2" cy="238.5" r="0.35" fill="#000" fill-opacity="0.5"/>
<circle cx="249.3" cy="236.6" r="0.35" fill="#000" fill-opacity="0.5"/>
<circle cx="252.0" cy="241.1" r="0.35" fill="#000" fill-opacity="0.5"/>
<circle cx="258.0" cy="234.7" r="0.35" fill="#000" fill-opacity="0.5"/>
<circle cx="256.0" cy="246.0" r="0.35" fill="#000" fill-opacity="0.5"/>
<circle cx="257.8" cy="238.5" r="0.35" fill="#000" fill-opacity="0.5"/>
<circle cx="245.7" cy="243.9" r="0.35" fill="#000" fill-opacity="0.5"/>
<circle cx="250.4" cy="239.9" r="0.35" fill="#000" fill-opacity="0.5"/>
<circle cx="257.6" cy="238.1" r="0.35" fill="#000" fill-opacity="0.5"/>
<circle cx="251.5" cy="236.5" r="0.35" fill="#000" fill-opacity="0.5"/>
<circle cx="249.7" cy="243.0" r="0.35" fill="#000" fill-opacity="0.5"/>
<circle cx="250.2" cy="245.3" r="0.35" fill="#000" fill-opacity="0.5"/>
<circle cx="249.5" cy="244.0" r="0.35" fill="#000" fill-opacity="0.5"/>
<circle cx="258.0" cy="246.5" r="0.35" fill="#000" fill-opacity="0.5"/>
<circle cx="246.1" cy="243.3" r="0.35" fill="#000" fill-opacity="0.5"/>
<circle cx="243.0" cy="239.2" r="0.35" fill="#000" fill-opacity="0.5"/>
<circle cx="248.7" cy="239.2" r="0.35" fill="#000" fill-opacity="0.5"/>
<circle cx="246.5" cy="240.4" r="0.35" fill="#000" fill-opacity="0.5"/>
<circle cx="259.7" cy="239.5" r="0.35" fill="#000" fill-opacity="0.5"/>
<circle cx="252.7" cy="243.8" r="0.35" fill="#000" fill-opacity="0.5"/>
<circle cx="248.7" cy="233.6" r="0.35" fill="#000" fill-opacity="0.5"/>
<circle cx="246.7" cy="244.1" r="0.35" fill="#000" fill-opacity="0.5"/>
<circle cx="255.3" cy="242.9" r="0.35" fill="#000" fill-opacity="0.5"/>
<circle cx="249.8" cy="242.9" r="0.35" fill="#000" fill-opacity="0.5"/>
<circle cx="250.7" cy="234.0" r="0.35" fill="#000" fill-opacity="0.5"/>
<circle cx="254.9" cy="236.8" r="0.35" fill="#000" fill-opacity="0.5"/>
<circle cx="244.8" cy="235.8" r="0.35" fill="#000" fill-opacity="0.5"/>
<circle cx="243.3" cy="240.9" r="0.35" fill="#000" fill-opacity="0.5"/>
<circle cx="246.3" cy="230.6" r="0.35" fill="#000" fill-opacity="0.5"/>
<circle cx="253.8" cy="238.1" r="0.35" fill="#000" fill-opacity="0.5"/>
<circle cx="251.4" cy="237.2" r="0.35" fill="#000" fill-opacity="0.5"/>
<circle cx="254.1" cy="242.7" r="0.35" fill="#000" fill-opacity="0.5"/>
<circle cx="253.5" cy="240.8" r="0.35" fill="#000" fill-opacity="0.5"/>
<circle cx="257.1" cy="242.3" r="0.35" fill="#000" fill-opacity="0.5"/>
<circle cx="252.3" cy="229.9" r="0.35" fill="#000" fill-opacity="0.5"/>
<circle cx="254.7" cy="245.2" r="0.35" fill="#000" fill-opacity="0.5"/>
<circle cx="248.2" cy="237.2" r="0.35" fill="#000" fill-opacity="0.5"/>
<circle cx="260.5" cy="231.4" r="0.35" fill="#000" fill-opacity="0.5"/>
<circle cx="244.7" cy="242.4" r="0.35" fill="#000" fill-opacity="0.5"/>
<circle cx="260.2" cy="238.8" r="0.35" fill="#000" fill-opacity="0.5"/>
<circle cx="252.9" cy="243.4" r="0.35" fill="#000" fill-opacity="0.5"/>
<circle cx="244.8" cy="238.9" r="0.35" fill="#000" fill-opacity="0.5"/>
<circle cx="251.4" cy="243.0" r="0.35" fill="#000" fill-opacity="0.5"/>
<circle cx="249.6" cy="238.4" r="0.35" fill="#000" fill-opacity="0.5"/>
<circle cx="244.2" cy="237.7" r="0.35" fill="#000" fill-opacity="0.5"/>
<circle cx="254.7" cy="239.8" r="0.35" fill="#000" fill-opacity="0.5"/>
<circle cx="245.1" cy="235.5" r="0.35" fill="#000" fill-opacity="0.5"/>
<circle cx="264.5" cy="244.4" r="0.35" fill="#000" fill-opacity="0.5"/>
<circle cx="253.3" cy="227.6" r="0.35" fill="#000" fill-opacity="0.5"/>
<circle cx="253.2" cy="241.5" r="0.35" fill="#000" fill-opacity="0.5"/>
<circle cx="259.1" cy="241.2" r="0.35" fill="#000" fill-opacity="0.5"/>
<circle cx="249.4" cy="241.7" r="0.35" fill="#000" fill-opacity="0.5"/>
<circle cx="251.6" cy="236.1" r="0.35" fill="#000" fill-opacity="0.5"/>
<circle cx="251.4" cy="240.1" r="0.35" fill="#000" fill-opacity="0.5"/>
<circle cx="247.6" cy="234.9" r="0.35" fill="#000" fill-opacity="0.5"/>
<circle cx="261.5" cy="244.0" r="0.35" fill="#000" fill-opacity="0.5"/>
<circle cx="243.2" cy="233.2" r="0.35" fill="#000" fill-opacity="0.5"/>
<circle cx="259.2" cy="243.8" r="0.35" fill="#000" fill-opacity="0.5"/>
<circle cx="259.8" cy="242.9" r="0.35" fill="#000" fill-opacity="0.5"/>
<circle cx="245.0" cy="240.5" r="0.35" fill="#000" fill-opacity="0.5"/>
<circle cx="249.5" cy="241.7" r="0.35" fill="#000" fill-opacity="0.5"/>
<circle cx="245.8" cy="238.7" r="0.35" fill="#000" fill-opacity="0.5"/>
<circle cx="252.3" cy="241.0" r="0.35" fill="#000" fill-opacity="0.5"/>
<circle cx="253.3" cy="240.2" r="0.35" fill="#000" fill-opacity="0.5"/>
<circle cx="248.0" cy="242.9" r="0.35" fill="#000" fill-opacity="0.5"/>
<circle cx="250.1" cy="235.6" r="0.35" fill="#000" fill-opacity="0.5"/>
<circle cx="246.4" cy="239.3" r="0.35" fill="#000" fill-opacity="0.5"/>
<circle cx="249.2" cy="240.0" r="0.35" fill="#000" fill-opacity="0.5"/>
<circle cx="249.8" cy="240.1" r="0.35" fill="#000" fill-opacity="0.5"/>
<circle cx="249.1" cy="233.6" r="0.35" fill="#000" fill-opacity="0.5"/>
<circle cx="252.1" cy="244.0" r="0.35" fill="#000" fill-opacity="0.5"/>
<circle cx="252.2" cy="238.4" r="0.35" fill="#000" fill-opacity="0.5"/>
<circle cx="252.3" cy="235.0" r="0.35" fill="#000" fill-opacity="0.5"/>
<circle cx="244.7" cy="242.6" r="0.35" fill="#000" fill-opacity="0.5"/>
<circle cx="243.8" cy="227.5" r="0.35" fill="#000" fill-opacity="0.5"/>
<circle cx="244.1" cy="246.4" r="0.35" fill="#000" fill-opacity="0.5"/>
<circle cx="247.7" cy="233.1" r="0.35" fill="#000" fill-opacity="0.5"/>
<circle cx="245.6" cy="241.6" r="0.35" fill="#000" fill-opacity="0.5"/>
<circle cx="252.5" cy="240.1" r="0.35" fill="#000" fill-opacity="0.5"/>
<circle cx="258.0" cy="242.5" r="0.35" fill="#000" fill-opacity="0.5"/>
<circle cx="249.7" cy="242.0" r="0.35" fill="#000" fill-opacity="0.5"/>
<circle cx="258.9" cy="243.7" r="0.35" fill="#000" fill-opacity="0.5"/>
<circle cx="255.4" cy="234.4" r="0.35" fill="#000" fill-opacity="0.5"/>
<circle cx="249.0" cy="242.6" r="0.35" fill="#000" fill-opacity="0.5"/>
<circle cx="248.2" cy="244.1" r="0.35" fill="#000" fill-opacity="0.5"/>
<circle cx="253.1" cy="243.4" r="0.35" fill="#000" fill-opacity="0.5"/>
<circle cx="256.6" cy="238.3" r="0.35" fill="#000" fill-opacity="0.5"/>
<circle cx="247.9" cy="243.2" r="0.35" fill="#000" fill-opacity="0.5"/>
<circle cx="255.2" cy="239.3" r="0.35" fill="#000" fill-opacity="0.5"/>
<circle cx="243.4" cy="240.1" r="0.35" fill="#000" fill-opacity="0.5"/>
<circle cx="251.8" cy="244.4" r="0.35" fill="#000" fill-opacity="0.5"/>
<circle cx="254.1" cy="239.4" r="0.35" fill="#000" fill-opacity="0.5"/>
<circle cx="254.5" cy="241.7" r="0.35" fill="#000" fill-opacity="0.5"/>
<circle cx="250.9" cy="239.5" r="0.35" fill="#000" fill-opacity="0.5"/>
<circle cx="248.5" cy="242.4" r="0.35" fill="#000" fill-opacity="0.5"/>
<circle cx="244.0" cy="236.5" r="0.35" fill="#000" fill-opacity="0.5"/>
<circle cx="249.8" cy="232.7" r="0.35" fill="#000" fill-opacity="0.5"/>
<circle cx="247.4" cy="230.3" r="0.35" fill="#000" fill-opacity="0.5"/>
<circle cx="246.0" cy="241.9" r="0.35" fill="#000" fill-opacity="0.5"/>
<circle cx="252.9" cy="239.1" r="0.35" fill="#000" fill-opacity="0.5"/>
<circle cx="248.5" cy="232.9" r="0.35" fill="#000" fill-opacity="0.5"/>
<circle cx="259.9" cy="241.6" r="0.35" fill="#000" fill-opacity="0.5"/>
<circle cx="255.8" cy="235.3" r="0.35" fill="#000" fill-opacity="0.5"/>
<circle cx="248.8" cy="231.1" r="0.35" fill="#000" fill-opacity="0.5"/>
<circle cx="254.1" cy="243.5" r="0.35" fill="#000" fill-opacity="0.5"/>
<circle cx="253.3" cy="231.4" r="0.35" fill="#000" fill-opacity="0.5"/>
<circle cx="246.3" cy="233.0" r="0.35" fill="#000" fill-opacity="0.5"/>
<circle cx="250.0" cy="240.4" r="0.35" fill="#000" fill-opacity="0.5"/>
<circle cx="253.3" cy="242.5" r="0.35" fill="#000" fill-opacity="0.5"/>
<circle cx="258.1" cy="244.5" r="0.35" fill="#000" fill-opacity="0.5"/>
<circle cx="244.0" cy="234.5" r="0.35" fill="#000" fill-opacity="0.5"/>
<circle cx="249.4" cy="239.3" r="0.35" fill="#000" fill-opacity="0.5"/>
<circle cx="252.5" cy="232.2" r="0.35" fill="#000" fill-opacity="0.5"/>
<circle cx="243.0" cy="239.2" r="0.35" fill="#000" fill-opacity="0.5"/>
<circle cx="248.7" cy="237.9" r="0.35" fill="#000" fill-opacity="0.5"/>
<circle cx="249.5" cy="235.9" r="0.35" fill="#000" fill-opacity="0.5"/>
<circle cx="253.7" cy="240.9" r="0.35" fill="#000" fill-opacity="0.5"/>
<circle cx="249.3" cy="236.3" r="0.35" fill="#000" fill-opacity="0.5"/>
<circle cx="248.8" cy="227.1" r="0.35" fill="#000" fill-opacity="0.5"/>
<circle cx="244.4" cy="239.5" r="0.35" fill="#000" fill-opacity="0.5"/>
<circle cx="250.6" cy="233.1" r="0.35" fill="#000" fill-opacity="0.5"/>
<circle cx="248.4" cy="237.9" r="0.35" fill="#000" fill-opacity="0.5"/>
<circle cx="252.3" cy="242.1" r="0.35" fill="#000" fill-opacity="0.5"/>
<circle cx="249.6" cy="235.5" r="0.35" fill="#000" fill-opacity="0.5"/>
<circle cx="249.0" cy="239.0" r="0.35" fill="#000" fill-opacity="0.5"/>
<circle cx="253.8" cy="240.6" r="0.35" fill="#000" fill-opacity="0.5"/>
<circle cx="245.8" cy="233.2" r="0.35" fill="#000" fill-opacity="0.5"/>
<circle cx="247.7" cy="236.0" r="0.35" fill="#000" fill-opacity="0.5"/>
<circle cx="243.7" cy="238.8" r="0.35" fill="#000" fill-opacity="0.5"/>
<circle cx="247.1" cy="239.8" r="0.35" fill="#000" fill-opacity="0.5"/>
<circle cx="252.7" cy="237.4" r="0.35" fill="#000" fill-opacity="0.5"/>
<circle cx="262.6" cy="237.9" r="0.35" fill="#000" fill-opacity="0.5"/>
<circle cx="255.9" cy="239.8" r="0.35" fill="#000" fill-opacity="0.5"/>
<circle cx="255.9" cy="228.6" r="0.35" fill="#000" fill-opacity="0.5"/>
<circle cx="245.7" cy="240.4" r="0.35" fill="#000" fill-opacity="0.5"/>
<circle cx="251.6" cy="245.1" r="0.35" fill="#000" fill-opacity="0.5"/>
<circle cx="254.0" cy="243.6" r="0.35" fill="#000" fill-opacity="0.5"/>
<circle cx="252.6" cy="238.6" r="0.35" fill="#000" fill-opacity="0.5"/>
<circle cx="252.6" cy="234.4" r="0.35" fill="#000" fill-opacity="0.5"/>
<circle cx="256.3" cy="234.7" r="0.35" fill="#000" fill-opacity="0.5"/>
<circle cx="248.6" cy="239.4" r="0.35" fill="#000" fill-opacity="0.5"/>
<circle cx="256.2" cy="239.4" r="0.35" fill="#000" fill-opacity="0.5"/>
<circle cx="245.4" cy="240.5" r="0.35" fill="#000" fill-opacity="0.5"/>
<circle cx="253.0" cy="242.5" r="0.35" fill="#000" fill-opacity="0.5"/>
<circle cx="259.0" cy="239.4" r="0.35" fill="#000" fill-opacity="0.5"/>
<circle cx="251.3" cy="237.4" r="0.35" fill="#000" fill-opacity="0.5"/>
<circle cx="257.6" cy="236.1" r="0.35" fill="#000" fill-opacity="0.5"/>
<circle cx="253.5" cy="237.1" r="0.35" fill="#000" fill-opacity="0.5"/>
<circle cx="246.0" cy="242.5" r="0.35" fill="#000" fill-opacity="0.5"/>
<circle cx="257.1" cy="239.3" r="0.35" fill="#000" fill-opacity="0.5"/>
<circle cx="246.1" cy="243.0" r="0.35" fill="#000" fill-opacity="0.5"/>
<circle cx="249.5" cy="240.7" r="0.35" fill="#000" fill-opacity="0.5"/>
<circle cx="258.2" cy="244.4" r="0.35" fill="#000" fill-opacity="0.5"/>
<circle cx="249.8" cy="242.8" r="0.35" fill="#000" fill-opacity="0.5"/>
<circle cx="246.2" cy="239.1" r="0.35" fill="#000" fill-opacity="0.5"/>
<circle cx="257.3" cy="233.8" r="0.35" fill="#000" fill-opacity="0.5"/>
<circle cx="256.3" cy="237.2" r="0.35" fill="#000" fill-opacity="0.5"/>
<circle cx="249.5" cy="237.9" r="0.35" fill="#000" fill-opacity="0.5"/>
<circle cx="249.1" cy="234.4" r="0.35" fill="#000" fill-opacity="0.5"/>
<circle cx="249.9" cy="232.8" r="0.35" fill="#000" fill-opacity="0.5"/>
<circle cx="249.4" cy="240.7" r="0.35" fill="#000" fill-opacity="0.5"/>
<circle cx="252.4" cy="238.3" r="0.35" fill="#000" fill-opacity="0.5"/>
<circle cx="244.8" cy="240.0" r="0.35" fill="#000" fill-opacity="0.5"/>
<circle cx="247.1" cy="246.3" r="0.35" fill="#000" fill-opacity="0.5"/>
<circle cx="254.0" cy="238.8" r="0.35" fill="#000" fill-opacity="0.5"/>
<circle cx="247.2" cy="236.1" r="0.35" fill="#000" fill-opacity="0.5"/>
<circle cx="244.6" cy="237.7" r="0.35" fill="#000" fill-opacity="0.5"/>
<circle cx="251.4" cy="241.6" r="0.35" fill="#000" fill-opacity="0.5"/>
<circle cx="245.9" cy="239.4" r="0.35" fill="#000" fill-opacity="0.5"/>
<circle cx="265.2" cy="230.9" r="0.35" fill="#000" fill-opacity="0.5"/>
<circle cx="246.9" cy="240.1" r="0.35" fill="#000" fill-opacity="0.5"/>
<circle cx="250.6" cy="241.1" r="0.35" fill="#000" fill-opacity="0.5"/>
<circle cx="248.5" cy="240.9" r="0.35" fill="#000" fill-opacity="0.5"/>
<circle cx="250.1" cy="242.8" r="0.35" fill="#000" fill-opacity="0.5"/>
<circle cx="249.8" cy="234.7" r="0.35" fill="#000" fill-opacity="0.5"/>
<circle cx="244.1" cy="242.1" r="0.35" fill="#000" fill-opacity="0.5"/>
<circle cx="246.2" cy="242.2" r="0.35" fill="#000" fill-opacity="0.5"/>
<circle cx="253.9" cy="240.7" r="0.35" fill="#000" fill-opacity="0.5"/>
<circle cx="252.6" cy="238.8" r="0.35" fill="#000" fill-opacity="0.5"/>
<circle cx="252.3" cy="236.9" r="0.35" fill="#000" fill-opacity="0.5"/>
<circle cx="249.3" cy="242.7" r="0.35" fill="#000" fill-opacity="0.5"/>
<circle cx="245.0" cy="242.2" r="0.35" fill="#000" fill-opacity="0.5"/>
<circle cx="260.0" cy="236.8" r="0.35" fill="#000" fill-opacity="0.5"/>
<circle cx="250.6" cy="238.6" r="0.35" fill="#000" fill-opacity="0.5"/>
<circle cx="258.3" cy="240.7" r="0.35" fill="#000" fill-opacity="0.5"/>
<circle cx="254.7" cy="236.2" r="0.35" fill="#000" fill-opacity="0.5"/>
<circle cx="249.7" cy="239.3" r="0.35" fill="#000" fill-opacity="0.5"/>
<circle cx="254.7" cy="231.4" r="0.35" fill="#000" fill-opacity="0.5"/>
<circle cx="253.9" cy="238.7" r="0.35" fill="#000" fill-opacity="0.5"/>
<circle cx="252.3" cy="240.9" r="0.35" fill="#000" fill-opacity="0.5"/>
<circle cx="258.0" cy="236.7" r="0.35" fill="#000" fill-opacity="0.5"/>
<circle cx="244.2" cy="233.2" r="0.35" fill="#000" fill-opacity="0.5"/>
<circle cx="243.1" cy="240.8" r="0.35" fill="#000" fill-opacity="0.5"/>
<circle cx="259.1" cy="241.2" r="0.35" fill="#000" fill-opacity="0.5"/>
<circle cx="246.9" cy="236.3" r="0.35" fill="#000" fill-opacity="0.5"/>
<circle cx="252.7" cy="241.8" r="0.35" fill="#000" fill-opacity="0.5"/>
<circle cx="244.2" cy="234.0" r="0.35" fill="#000" fill-opacity="0.5"/>
<circle cx="251.4" cy="240.4" r="0.35" fill="#000" fill-opacity="0.5"/>
<circle cx="246.8" cy="241.4" r="0.35" fill="#000" fill-opacity="0.5"/>
<circle cx="249.2" cy="238.9" r="0.35" fill="#000" fill-opacity="0.5"/>
<circle cx="247.9" cy="244.0" r="0.35" fill="#000" fill-opacity="0.5"/>
<circle cx="257.4" cy="237.6" r="0.35" fill="#000" fill-opacity="0.5"/>
<circle cx="254.5" cy="235.9" r="0.35" fill="#000" fill-opacity="0.5"/>
<circle cx="250.2" cy="242.7" r="0.35" fill="#000" fill-opacity="0.5"/>
<circle cx="258.1" cy="237.6" r="0.35" fill="#000" fill-opacity="0.5"/>
<circle cx="249.4" cy="240.2" r="0.35" fill="#000" fill-opacity="0.5"/>
<circle cx="246.1" cy="241.0" r="0.35" fill="#000" fill-opacity="0.5"/>
<circle cx="243.6" cy="230.4" r="0.35" fill="#000" fill-opacity="0.5"/>
<circle cx="250.0" cy="240.5" r="0.35" fill="#000" fill-opacity="0.5"/>
<circle cx="246.8" cy="243.3" r="0.35" fill="#000" fill-opacity="0.5"/>
<circle cx="248.3" cy="236.6" r="0.35" fill="#000" fill-opacity="0.5"/>
<circle cx="252.4" cy="232.2" r="0.35" fill="#000" fill-opacity="0.5"/>
<circle cx="246.1" cy="239.2" r="0.35" fill="#000" fill-opacity="0.5"/>
<circle cx="254.5" cy="238.6" r="0.35" fill="#000" fill-opacity="0.5"/>
<circle cx="251.5" cy="236.4" r="0.35" fill="#000" fill-opacity="0.5"/>
<circle cx="251.5" cy="246.8" r="0.35" fill="#000" fill-opacity="0.5"/>
<circle cx="246.3" cy="239.4" r="0.35" fill="#000" fill-opacity="0.5"/>
<circle cx="250.8" cy="243.9" r="0.35" fill="#000" fill-opacity="0.5"/>
<circle cx="243.0" cy="229.8" r="0.35" fill="#000" fill-opacity="0.5"/>
<circle cx="253.1" cy="242.9" r="0.35" fill="#000" fill-opacity="0.5"/>
<circle cx="250.9" cy="240.4" r="0.35" fill="#000" fill-opacity="0.5"/>
<circle cx="254.9" cy="241.0" r="0.35" fill="#000" fill-opacity="0.5"/>
<circle cx="259.0" cy="233.7" r="0.35" fill="#000" fill-opacity="0.5"/>
<circle cx="247.7" cy="223.8" r="0.35" fill="#000" fill-opacity="0.5"/>
<circle cx="254.3" cy="237.6" r="0.35" fill="#000" fill-opacity="0.5"/>
<circle cx="249.8" cy="238.2" r="0.35" fill="#000" fill-opacity="0.5"/>
<circle cx="247.1" cy="235.5" r="0.35" fill="#000" fill-opacity="0.5"/>
<circle cx="246.3" cy="242.2" r="0.35" fill="#000" fill-opacity="0.5"/>
<circle cx="250.0" cy="239.6" r="0.35" fill="#000" fill-opacity="0.5"/>
<circle cx="248.8" cy="243.4" r="0.35" fill="#000" fill-opacity="0.5"/>
<circle cx="252.5" cy="238.7" r="0.35" fill="#000" fill-opacity="0.5"/>
<circle cx="253.5" cy="238.6" r="0.35" fill="#000" fill-opacity="0.5"/>
<circle cx="243.5" cy="245.8" r="0.35" fill="#000" fill-opacity="0.5"/>
<circle cx="252.4" cy="235.0" r="0.35" fill="#000" fill-opacity="0.5"/>
<circle cx="255.7" cy="240.9" r="0.35" fill="#000" fill-opacity="0.5"/>
<circle cx="251.6" cy="243.3" r="0.35" fill="#000" fill-opacity="0.5"/>
<circle cx="250.9" cy="238.6" r="0.35" fill="#000" fill-opacity="0.5"/>
<circle cx="250.0" cy="238.0" r="0.35" fill="#000" fill-opacity="0.5"/>
<circle cx="251.7" cy="239.7" r="0.35" fill="#000" fill-opacity="0.5"/>
<circle cx="253.5" cy="237.6" r="0.35" fill="#000" fill-opacity="0.5"/>
<circle cx="249.6" cy="229.7" r="0.35" fill="#000" fill-opacity="0.5"/>
<circle cx="247.5" cy="242.3" r="0.35" fill="#000" fill-opacity="0.5"/>
<circle cx="257.2" cy="237.7" r="0.35" fill="#000" fill-opacity="0.5"/>
<circle cx="249.1" cy="246.4" r="0.35" fill="#000" fill-opacity="0.5"/>
<circle cx="248.0" cy="242.6" r="0.35" fill="#000" fill-opacity="0.5"/>
<circle cx="259.0" cy="239.5" r="0.35" fill="#000" fill-opacity="0.5"/>
<circle cx="256.5" cy="236.1" r="0.35" fill="#000" fill-opacity="0.5"/>
<circle cx="250.9" cy="239.0" r="0.35" fill="#000" fill-opacity="0.5"/>
<circle cx="250.4" cy="244.4" r="0.35" fill="#000" fill-opacity="0.5"/>
<circle cx="262.9" cy="236.3" r="0.35" fill="#000" fill-opacity="0.5"/>
<circle cx="246.6" cy="241.5" r="0.35" fill="#000" fill-opacity="0.5"/>
<circle cx="244.0" cy="241.5" r="0.35" fill="#000" fill-opacity="0.5"/>
<circle cx="252.9" cy="238.1" r="0.35" fill="#000" fill-opacity="0.5"/>
<circle cx="252.7" cy="232.3" r="0.35" fill="#000" fill-opacity="0.5"/>
<circle cx="254.0" cy="232.3" r="0.35" fill="#000" fill-opacity="0.5"/>
<circle cx="246.0" cy="236.8" r="0.35" fill="#000" fill-opacity="0.5"/>
<circle cx="247.6" cy="243.2" r="0.35" fill="#000" fill-opacity="0.5"/>
<circle cx="250.2" cy="237.5" r="0.35" fill="#000" fill-opacity="0.5"/>
<circle cx="252.8" cy="246.4" r="0.35" fill="#000" fill-opacity="0.5"/>
<circle cx="249.8" cy="240.9" r="0.35" fill="#000" fill-opacity="0.5"/>
<circle cx="256.6" cy="240.5" r="0.35" fill="#000" fill-opacity="0.5"/>
<circle cx="261.9" cy="230.4" r="0.35" fill="#000" fill-opacity="0.5"/>
<circle cx="249.6" cy="241.2" r="0.35" fill="#000" fill-opacity="0.5"/>
<circle cx="255.1" cy="242.3" r="0.35" fill="#000" fill-opacity="0.5"/>
<circle cx="248.3" cy="234.6" r="0.35" fill="#000" fill-opacity="0.5"/>
<circle cx="250.4" cy="244.0" r="0.35" fill="#000" fill-opacity="0.5"/>
<circle cx="243.8" cy="234.7" r="0.35" fill="#000" fill-opacity="0.5"/>
<circle cx="249.7" cy="230.6" r="0.35" fill="#000" fill-opacity="0.5"/>
<circle cx="248.4" cy="237.3" r="0.35" fill="#000" fill-opacity="0.5"/>
<circle cx="252.3" cy="236.1" r="0.35" fill="#000" fill-opacity="0.5"/>
<circle cx="244.9" cy="237.5" r="0.35" fill="#000" fill-opacity="0.5"/>
<circle cx="249.5" cy="236.3" r="0.35" fill="#000" fill-opacity="0.5"/>
<circle cx="249.9" cy="242.7" r="0.35" fill="#000" fill-opacity="0.5"/>
<circle cx="243.3" cy="232.9" r="0.35" fill="#000" fill-opacity="0.35"/>
<circle cx="243.8" cy="236.0" r="0.35" fill="#000" fill-opacity="0.35"/>
<circle cx="254.1" cy="225.3" r="0.35" fill="#000" fill-opacity="0.35"/>
<circle cx="253.6" cy="236.1" r="0.35" fill="#000" fill-opacity="0.35"/>
<circle cx="259.7" cy="221.2" r="0.35" fill="#000" fill-opacity="0.35"/>
<circle cx="256.5" cy="238.0" r="0.35" fill="#000" fill-opacity="0.35"/>
<circle cx="253.7" cy="239.9" r="0.35" fill="#000" fill-opacity="0.35"/>
<circle cx="260.6" cy="234.5" r="0.35" fill="#000" fill-opacity="0.35"/>
<circle cx="257.0" cy="233.0" r="0.35" fill="#000" fill-opacity="0.35"/>
<circle cx="255.8" cy="229.7" r="0.35" fill="#000" fill-opacity="0.35"/>
<circle cx="253.5" cy="235.0" r="0.35" fill="#000" fill-opacity="0.35"/>
<circle cx="251.4" cy="243.9" r="0.35" fill="#000" fill-opacity="0.35"/>
<circle cx="253.3" cy="240.5" r="0.35" fill="#000" fill-opacity="0.35"/>
<circle cx="246.6" cy="231.8" r="0.35" fill="#000" fill-opacity="0.35"/>
<circle cx="257.1" cy="236.8" r="0.35" fill="#000" fill-opacity="0.35"/>
<circle cx="247.5" cy="231.6" r="0.35" fill="#000" fill-opacity="0.35"/>
<circle cx="247.7" cy="241.4" r="0.35" fill="#000" fill-opacity="0.35"/>
<circle cx="252.7" cy="226.5" r="0.35" fill="#000" fill-opacity="0.35"/>
<circle cx="253.3" cy="237.8" r="0.35" fill="#000" fill-opacity="0.35"/>
<circle cx="247.5" cy="233.6" r="0.35" fill="#000" fill-opacity="0.35"/>
<circle cx="244.1" cy="239.8" r="0.35" fill="#000" fill-opacity="0.35"/>
<circle cx="245.7" cy="246.0" r="0.35" fill="#000" fill-opacity="0.35"/>
<circle cx="244.5" cy="242.9" r="0.35" fill="#000" fill-opacity="0.35"/>
<circle cx="268.1" cy="215.7" r="0.35" fill="#000" fill-opacity="0.35"/>
<circle cx="246.2" cy="240.4" r="0.35" fill="#000" fill-opacity="0.35"/>
<circle cx="249.0" cy="230.9" r="0.35" fill="#000" fill-opacity="0.35"/>
<circle cx="267.6" cy="236.9" r="0.35" fill="#000" fill-opacity="0.35"/>
<circle cx="245.0" cy="237.5" r="0.35" fill="#000" fill-opacity="0.35"/>
<circle cx="260.2" cy="237.3" r="0.35" fill="#000" fill-opacity="0.35"/>
<circle cx="259.6" cy="242.3" r="0.35" fill="#000" fill-opacity="0.35"/>
<circle cx="243.1" cy="243.3" r="0.35" fill="#000" fill-opacity="0.35"/>
<circle cx="253.9" cy="241.5" r="0.35" fill="#000" fill-opacity="0.35"/>
<circle cx="257.2" cy="242.2" r="0.35" fill="#000" fill-opacity="0.35"/>
<circle cx="257.1" cy="216.4" r="0.35" fill="#000" fill-opacity="0.35"/>
<circle cx="251.2" cy="240.3" r="0.35" fill="#000" fill-opacity="0.35"/>
<circle cx="270.9" cy="228.6" r="0.35" fill="#000" fill-opacity="0.35"/>
<circle cx="247.1" cy="236.6" r="0.35" fill="#000" fill-opacity="0.35"/>
<circle cx="257.1" cy="232.7" r="0.35" fill="#000" fill-opacity="0.35"/>
<circle cx="259.3" cy="229.9" r="0.35" fill="#000" fill-opacity="0.35"/>
<circle cx="252.0" cy="232.0" r="0.35" fill="#000" fill-opacity="0.35"/>
<circle cx="251.1" cy="230.7" r="0.35" fill="#000" fill-opacity="0.35"/>
<circle cx="252.3" cy="231.8" r="0.35" fill="#000" fill-opacity="0.35"/>
<circle cx="251.5" cy="244.3" r="0.35" fill="#000" fill-opacity="0.35"/>
<circle cx="254.2" cy="240.6" r="0.35" fill="#000" fill-opacity="0.35"/>
<circle cx="247.0" cy="219.2" r="0.35" fill="#000" fill-opacity="0.35"/>
<circle cx="260.1" cy="239.0" r="0.35" fill="#000" fill-opacity="0.35"/>
<circle cx="249.9" cy="234.0" r="0.35" fill="#000" fill-opacity="0.35"/>
<circle cx="252.0" cy="232.9" r="0.35" fill="#000" fill-opacity="0.35"/>
<circle cx="244.9" cy="231.3" r="0.35" fill="#000" fill-opacity="0.35"/>
<circle cx="261.1" cy="237.9" r="0.35" fill="#000" fill-opacity="0.35"/>
<circle cx="243.8" cy="236.7" r="0.35" fill="#000" fill-opacity="0.35"/>
<circle cx="251.0" cy="222.3" r="0.35" fill="#000" fill-opacity="0.35"/>
<circle cx="244.8" cy="237.6" r="0.35" fill="#000" fill-opacity="0.35"/>
<circle cx="245.9" cy="236.9" r="0.35" fill="#000" fill-opacity="0.35"/>
<circle cx="255.9" cy="242.5" r="0.35" fill="#000" fill-opacity="0.35"/>
<circle cx="257.3" cy="241.1" r="0.35" fill="#000" fill-opacity="0.35"/>
<circle cx="247.4" cy="236.2" r="0.35" fill="#000" fill-opacity="0.35"/>
<circle cx="247.6" cy="233.8" r="0.35" fill="#000" fill-opacity="0.35"/>
<circle cx="248.3" cy="222.3" r="0.35" fill="#000" fill-opacity="0.35"/>
<circle cx="247.1" cy="236.1" r="0.35" fill="#000" fill-opacity="0.35"/>
<circle cx="254.1" cy="235.0" r="0.35" fill="#000" fill-opacity="0.35"/>
<circle cx="266.9" cy="215.2" r="0.35" fill="#000" fill-opacity="0.35"/>
<circle cx="248.1" cy="221.5" r="0.35" fill="#000" fill-opacity="0.35"/>
<circle cx="254.1" cy="233.9" r="0.35" fill="#000" fill-opacity="0.35"/>
<circle cx="254.4" cy="218.1" r="0.35" fill="#000" fill-opacity="0.35"/>
<circle cx="256.8" cy="239.3" r="0.35" fill="#000" fill-opacity="0.35"/>
<circle cx="250.0" cy="231.5" r="0.35" fill="#000" fill-opacity="0.35"/>
<circle cx="255.1" cy="232.4" r="0.35" fill="#000" fill-opacity="0.35"/>
<circle cx="251.6" cy="232.2" r="0.35" fill="#000" fill-opacity="0.35"/>
<circle cx="251.5" cy="242.4" r="0.35" fill="#000" fill-opacity="0.35"/>
<circle cx="254.9" cy="237.5" r="0.35" fill="#000" fill-opacity="0.35"/>
<circle cx="257.4" cy="242.9" r="0.35" fill="#000" fill-opacity="0.35"/>
<circle cx="244.7" cy="230.5" r="0.35" fill="#000" fill-opacity="0.35"/>
<circle cx="257.1" cy="228.9" r="0.35" fill="#000" fill-opacity="0.35"/>
<circle cx="244.1" cy="230.4" r="0.35" fill="#000" fill-opacity="0.35"/>
<circle cx="251.7" cy="230.2" r="0.35" fill="#000" fill-opacity="0.35"/>
<circle cx="260.6" cy="235.7" r="0.35" fill="#000" fill-opacity="0.35"/>
<circle cx="245.0" cy="238.1" r="0.35" fill="#000" fill-opacity="0.35"/>
<circle cx="249.7" cy="233.8" r="0.35" fill="#000" fill-opacity="0.35"/>
<circle cx="252.5" cy="230.7" r="0.35" fill="#000" fill-opacity="0.35"/>
<circle cx="249.6" cy="236.7" r="0.35" fill="#000" fill-opacity="0.35"/>
<circle cx="254.4" cy="237.3" r="0.35" fill="#000" fill-opacity="0.35"/>
<circle cx="243.3" cy="230.6" r="0.35" fill="#000" fill-opacity="0.35"/>
<circle cx="253.8" cy="240.6" r="0.35" fill="#000" fill-opacity="0.35"/>
<circle cx="248.8" cy="234.9" r="0.35" fill="#000" fill-opacity="0.35"/>
<circle cx="257.5" cy="236.4" r="0.35" fill="#000" fill-opacity="0.35"/>
<circle cx="255.9" cy="241.0" r="0.35" fill="#000" fill-opacity="0.35"/>
<circle cx="251.6" cy="246.9" r="0.35" fill="#000" fill-opacity="0.35"/>
<circle cx="245.1" cy="233.4" r="0.35" fill="#000" fill-opacity="0.35"/>
<circle cx="243.1" cy="229.8" r="0.35" fill="#000" fill-opacity="0.35"/>
<circle cx="250.0" cy="240.9" r="0.35" fill="#000" fill-opacity="0.35"/>
<circle cx="259.5" cy="242.8" r="0.35" fill="#000" fill-opacity="0.35"/>
<circle cx="259.7" cy="226.1" r="0.35" fill="#000" fill-opacity="0.35"/>
<circle cx="244.5" cy="240.0" r="0.35" fill="#000" fill-opacity="0.35"/>
<circle cx="261.6" cy="237.1" r="0.35" fill="#000" fill-opacity="0.35"/>
<circle cx="242.7" cy="233.4" r="0.35" fill="#000" fill-opacity="0.35"/>
<circle cx="244.4" cy="229.3" r="0.35" fill="#000" fill-opacity="0.35"/>
<circle cx="262.2" cy="231.2" r="0.35" fill="#000" fill-opacity="0.35"/>
<circle cx="259.6" cy="239.0" r="0.35" fill="#000" fill-opacity="0.35"/>
<circle cx="244.8" cy="239.6" r="0.35" fill="#000" fill-opacity="0.35"/>
<circle cx="263.2" cy="241.3" r="0.35" fill="#000" fill-opacity="0.35"/>
<circle cx="260.2" cy="237.1" r="0.35" fill="#000" fill-opacity="0.35"/>
<circle cx="254.1" cy="234.7" r="0.35" fill="#000" fill-opacity="0.35"/>
<circle cx="253.3" cy="246.8" r="0.35" fill="#000" fill-opacity="0.35"/>
<rect x="242.3" y="233.4" width="15.0" height="11.8" rx="4.5" fill="#000" filter="url(#bb)"/>
<circle cx="252.0" cy="214.5" r="0.35" fill="#000" fill-opacity="0.3"/>
<circle cx="250.6" cy="218.0" r="0.35" fill="#000" fill-opacity="0.3"/>
<circle cx="256.6" cy="217.6" r="0.35" fill="#000" fill-opacity="0.3"/>
<circle cx="252.2" cy="212.0" r="0.35" fill="#000" fill-opacity="0.3"/>
<circle cx="256.4" cy="216.2" r="0.35" fill="#000" fill-opacity="0.3"/>
<circle cx="251.3" cy="213.1" r="0.35" fill="#000" fill-opacity="0.3"/>
<circle cx="251.3" cy="213.2" r="0.35" fill="#000" fill-opacity="0.3"/>
<circle cx="251.6" cy="217.2" r="0.35" fill="#000" fill-opacity="0.3"/>
<circle cx="251.5" cy="216.7" r="0.35" fill="#000" fill-opacity="0.3"/>
<circle cx="249.2" cy="219.7" r="0.35" fill="#000" fill-opacity="0.3"/>
<circle cx="249.7" cy="211.3" r="0.35" fill="#000" fill-opacity="0.3"/>
<circle cx="250.9" cy="214.0" r="0.35" fill="#000" fill-opacity="0.3"/>
<circle cx="248.8" cy="215.1" r="0.35" fill="#000" fill-opacity="0.3"/>
<circle cx="252.2" cy="212.9" r="0.35" fill="#000" fill-opacity="0.3"/>
<circle cx="251.0" cy="219.7" r="0.35" fill="#000" fill-opacity="0.3"/>
<circle cx="253.2" cy="215.6" r="0.35" fill="#000" fill-opacity="0.3"/>
<circle cx="251.7" cy="215.7" r="0.35" fill="#000" fill-opacity="0.3"/>
<circle cx="251.3" cy="217.9" r="0.35" fill="#000" fill-opacity="0.3"/>
<circle cx="251.2" cy="209.7" r="0.35" fill="#000" fill-opacity="0.3"/>
<circle cx="251.3" cy="213.7" r="0.35" fill="#000" fill-opacity="0.3"/>
<circle cx="253.1" cy="214.4" r="0.35" fill="#000" fill-opacity="0.3"/>
<circle cx="251.8" cy="221.7" r="0.35" fill="#000" fill-opacity="0.3"/>
<circle cx="248.7" cy="213.1" r="0.35" fill="#000" fill-opacity="0.3"/>
<circle cx="247.7" cy="209.8" r="0.35" fill="#000" fill-opacity="0.3"/>
<circle cx="246.5" cy="216.9" r="0.35" fill="#000" fill-opacity="0.3"/>
<circle cx="249.7" cy="211.1" r="0.35" fill="#000" fill-opacity="0.3"/>
<circle cx="247.5" cy="217.6" r="0.35" fill="#000" fill-opacity="0.3"/>
<circle cx="249.4" cy="215.0" r="0.35" fill="#000" fill-opacity="0.3"/>
<circle cx="252.3" cy="219.5" r="0.35" fill="#000" fill-opacity="0.3"/>
<circle cx="256.4" cy="218.7" r="0.35" fill="#000" fill-opacity="0.3"/>
<circle cx="251.8" cy="216.5" r="0.35" fill="#000" fill-opacity="0.3"/>
<circle cx="256.1" cy="219.7" r="0.35" fill="#000" fill-opacity="0.3"/>
<circle cx="250.6" cy="217.2" r="0.35" fill="#000" fill-opacity="0.3"/>
<circle cx="252.1" cy="216.1" r="0.35" fill="#000" fill-opacity="0.3"/>
<circle cx="250.1" cy="212.6" r="0.35" fill="#000" fill-opacity="0.3"/>
<circle cx="250.0" cy="212.0" r="0.35" fill="#000" fill-opacity="0.3"/>
<circle cx="254.6" cy="217.4" r="0.35" fill="#000" fill-opacity="0.3"/>
<circle cx="248.3" cy="219.6" r="0.35" fill="#000" fill-opacity="0.3"/>
<circle cx="253.7" cy="211.0" r="0.35" fill="#000" fill-opacity="0.3"/>
<circle cx="256.2" cy="218.1" r="0.35" fill="#000" fill-opacity="0.3"/>
<circle cx="256.8" cy="212.8" r="0.35" fill="#000" fill-opacity="0.3"/>
<circle cx="252.8" cy="217.1" r="0.35" fill="#000" fill-opacity="0.3"/>
<circle cx="251.9" cy="216.4" r="0.35" fill="#000" fill-opacity="0.3"/>
<circle cx="254.1" cy="212.1" r="0.35" fill="#000" fill-opacity="0.3"/>
<circle cx="248.2" cy="212.4" r="0.35" fill="#000" fill-opacity="0.3"/>
<circle cx="266.7" cy="234.9" r="0.35" fill="#000" fill-opacity="0.3"/>
<circle cx="271.3" cy="237.9" r="0.35" fill="#000" fill-opacity="0.3"/>
<circle cx="269.7" cy="234.6" r="0.35" fill="#000" fill-opacity="0.3"/>
<circle cx="267.3" cy="240.3" r="0.35" fill="#000" fill-opacity="0.3"/>
<circle cx="273.3" cy="237.4" r="0.35" fill="#000" fill-opacity="0.3"/>
<circle cx="267.9" cy="242.4" r="0.35" fill="#000" fill-opacity="0.3"/>
<circle cx="266.5" cy="239.3" r="0.35" fill="#000" fill-opacity="0.3"/>
<circle cx="275.3" cy="236.1" r="0.35" fill="#000" fill-opacity="0.3"/>
<circle cx="273.6" cy="233.1" r="0.35" fill="#000" fill-opacity="0.3"/>
<circle cx="274.6" cy="237.7" r="0.35" fill="#000" fill-opacity="0.3"/>
<circle cx="261.6" cy="239.3" r="0.35" fill="#000" fill-opacity="0.3"/>
<circle cx="265.0" cy="241.5" r="0.35" fill="#000" fill-opacity="0.3"/>
<circle cx="266.1" cy="236.4" r="0.35" fill="#000" fill-opacity="0.3"/>
<circle cx="270.9" cy="235.8" r="0.35" fill="#000" fill-opacity="0.3"/>
<circle cx="270.8" cy="235.1" r="0.35" fill="#000" fill-opacity="0.3"/>
<circle cx="272.9" cy="237.0" r="0.35" fill="#000" fill-opacity="0.3"/>
<circle cx="270.6" cy="227.4" r="0.35" fill="#000" fill-opacity="0.3"/>
<circle cx="275.3" cy="237.1" r="0.35" fill="#000" fill-opacity="0.3"/>
<circle cx="260.6" cy="237.3" r="0.35" fill="#000" fill-opacity="0.3"/>
<circle cx="271.8" cy="240.7" r="0.35" fill="#000" fill-opacity="0.3"/>
<circle cx="264.1" cy="242.4" r="0.35" fill="#000" fill-opacity="0.3"/>
<circle cx="268.7" cy="245.4" r="0.35" fill="#000" fill-opacity="0.3"/>
<circle cx="268.8" cy="239.4" r="0.35" fill="#000" fill-opacity="0.3"/>
<circle cx="267.7" cy="233.1" r="0.35" fill="#000" fill-opacity="0.3"/>
<circle cx="275.0" cy="240.2" r="0.35" fill="#000" fill-opacity="0.3"/>
<circle cx="277.2" cy="240.0" r="0.35" fill="#000" fill-opacity="0.3"/>
<circle cx="266.6" cy="231.2" r="0.35" fill="#000" fill-opacity="0.3"/>
<circle cx="266.2" cy="234.6" r="0.35" fill="#000" fill-opacity="0.3"/>
<circle cx="265.4" cy="239.0" r="0.35" fill="#000" fill-opacity="0.3"/>
<circle cx="271.1" cy="236.1" r="0.35" fill="#000" fill-opacity="0.3"/>
<circle cx="270.4" cy="236.5" r="0.35" fill="#000" fill-opacity="0.3"/>
<circle cx="270.6" cy="239.6" r="0.35" fill="#000" fill-opacity="0.3"/>
<circle cx="274.3" cy="234.6" r="0.35" fill="#000" fill-opacity="0.3"/>
<circle cx="262.0" cy="242.0" r="0.35" fill="#000" fill-opacity="0.3"/>
<circle cx="270.1" cy="240.9" r="0.35" fill="#000" fill-opacity="0.3"/>
<circle cx="261.3" cy="235.8" r="0.35" fill="#000" fill-opacity="0.3"/>
<circle cx="269.6" cy="232.0" r="0.35" fill="#000" fill-opacity="0.3"/>
<circle cx="266.9" cy="239.5" r="0.35" fill="#000" fill-opacity="0.3"/>
<circle cx="274.9" cy="242.6" r="0.35" fill="#000" fill-opacity="0.3"/>
<circle cx="265.2" cy="232.1" r="0.35" fill="#000" fill-opacity="0.3"/>
<circle cx="272.1" cy="240.3" r="0.35" fill="#000" fill-opacity="0.3"/>
<circle cx="270.5" cy="232.4" r="0.35" fill="#000" fill-opacity="0.3"/>
<circle cx="273.4" cy="239.8" r="0.35" fill="#000" fill-opacity="0.3"/>
<circle cx="272.3" cy="235.3" r="0.35" fill="#000" fill-opacity="0.3"/>
<circle cx="271.0" cy="239.8" r="0.35" fill="#000" fill-opacity="0.3"/>
<circle cx="276.9" cy="207.5" r="0.35" fill="#000" fill-opacity="0.45"/>
<circle cx="276.2" cy="209.2" r="0.35" fill="#000" fill-opacity="0.45"/>
<circle cx="275.0" cy="205.3" r="0.35" fill="#000" fill-opacity="0.45"/>
<circle cx="275.6" cy="207.9" r="0.35" fill="#000" fill-opacity="0.45"/>
<circle cx="279.4" cy="204.6" r="0.35" fill="#000" fill-opacity="0.45"/>
<circle cx="280.3" cy="211.7" r="0.35" fill="#000" fill-opacity="0.45"/>
<circle cx="277.8" cy="207.9" r="0.35" fill="#000" fill-opacity="0.45"/>
<circle cx="279.7" cy="204.9" r="0.35" fill="#000" fill-opacity="0.45"/>
<circle cx="276.0" cy="201.3" r="0.35" fill="#000" fill-opacity="0.45"/>
<circle cx="277.1" cy="211.0" r="0.35" fill="#000" fill-opacity="0.45"/>
<circle cx="277.3" cy="207.3" r="0.35" fill="#000" fill-opacity="0.45"/>
<circle cx="275.8" cy="206.3" r="0.35" fill="#000" fill-opacity="0.45"/>
<circle cx="273.3" cy="209.8" r="0.35" fill="#000" fill-opacity="0.45"/>
<circle cx="275.4" cy="201.2" r="0.35" fill="#000" fill-opacity="0.45"/>
<circle cx="274.7" cy="202.3" r="0.35" fill="#000" fill-opacity="0.45"/>
<circle cx="277.9" cy="209.8" r="0.35" fill="#000" fill-opacity="0.45"/>
<circle cx="273.5" cy="209.3" r="0.35" fill="#000" fill-opacity="0.45"/>
<circle cx="278.0" cy="203.3" r="0.35" fill="#000" fill-opacity="0.45"/>
<circle cx="273.2" cy="202.6" r="0.35" fill="#000" fill-opacity="0.45"/>
<circle cx="274.9" cy="207.0" r="0.35" fill="#000" fill-opacity="0.45"/>
<circle cx="278.0" cy="200.8" r="0.35" fill="#000" fill-opacity="0.45"/>
<circle cx="274.8" cy="202.2" r="0.35" fill="#000" fill-opacity="0.45"/>
<circle cx="275.1" cy="210.8" r="0.35" fill="#000" fill-opacity="0.45"/>
<circle cx="277.9" cy="208.0" r="0.35" fill="#000" fill-opacity="0.45"/>
<circle cx="275.2" cy="203.4" r="0.35" fill="#000" fill-opacity="0.45"/>
<circle cx="274.2" cy="207.6" r="0.35" fill="#000" fill-opacity="0.45"/>
<circle cx="274.7" cy="202.8" r="0.35" fill="#000" fill-opacity="0.45"/>
<circle cx="277.4" cy="210.9" r="0.35" fill="#000" fill-opacity="0.45"/>
<circle cx="276.5" cy="201.7" r="0.35" fill="#000" fill-opacity="0.45"/>
<circle cx="270.8" cy="206.3" r="0.35" fill="#000" fill-opacity="0.45"/>
<circle cx="278.6" cy="206.8" r="0.35" fill="#000" fill-opacity="0.45"/>
<circle cx="278.1" cy="211.5" r="0.35" fill="#000" fill-opacity="0.45"/>
<circle cx="278.5" cy="203.8" r="0.35" fill="#000" fill-opacity="0.45"/>
<circle cx="278.3" cy="208.7" r="0.35" fill="#000" fill-opacity="0.45"/>
<circle cx="273.1" cy="204.0" r="0.35" fill="#000" fill-opacity="0.45"/>
<ellipse cx="276.2" cy="204.6" rx="2.2" ry="2.2" fill="url(#faint2)" filter="url(#mo)"/>
</g>
<rect x="242.2" y="199.4" width="48.400000000000034" height="48.0" fill="none" stroke="#555" stroke-width="0.55"/>
<line x1="261.4" y1="199.4" x2="261.4" y2="247.4" stroke="#666" stroke-width="0.5"/>
<line x1="242.2" y1="223.3" x2="290.6" y2="223.3" stroke="#666" stroke-width="0.5"/>
<rect x="267.6" y="201.4" width="15.199999999999989" height="17.799999999999983" fill="none" stroke="#444" stroke-width="0.55"/>
<text x="266.6" y="178.6" font-size="7.8" text-anchor="middle" font-weight="normal" font-style="italic" fill="#111">Control</text>
<line x1="266.75" y1="180.8" x2="266.75" y2="187.6" stroke="#333" stroke-width="0.5"/>
<polyline points="265.65,186.2 266.75,187.6 267.85,186.2" fill="none" stroke="#333" stroke-width="0.5"/>
<text x="266.6" y="195.9" font-size="7.8" text-anchor="middle" font-weight="normal" font-style="italic" fill="#111">Control</text>
<clipPath id="cp2"><rect x="295.2" y="199.4" width="47.5" height="48.0"/></clipPath>
<g clip-path="url(#cp2)">
<circle cx="305.0" cy="231.4" r="0.35" fill="#000" fill-opacity="0.5"/>
<circle cx="303.8" cy="244.1" r="0.35" fill="#000" fill-opacity="0.5"/>
<circle cx="313.6" cy="246.7" r="0.35" fill="#000" fill-opacity="0.5"/>
<circle cx="300.4" cy="238.0" r="0.35" fill="#000" fill-opacity="0.5"/>
<circle cx="300.7" cy="241.7" r="0.35" fill="#000" fill-opacity="0.5"/>
<circle cx="307.6" cy="237.1" r="0.35" fill="#000" fill-opacity="0.5"/>
<circle cx="298.9" cy="239.8" r="0.35" fill="#000" fill-opacity="0.5"/>
<circle cx="303.1" cy="244.8" r="0.35" fill="#000" fill-opacity="0.5"/>
<circle cx="308.2" cy="234.4" r="0.35" fill="#000" fill-opacity="0.5"/>
<circle cx="303.6" cy="245.5" r="0.35" fill="#000" fill-opacity="0.5"/>
<circle cx="298.5" cy="238.9" r="0.35" fill="#000" fill-opacity="0.5"/>
<circle cx="308.5" cy="243.0" r="0.35" fill="#000" fill-opacity="0.5"/>
<circle cx="304.6" cy="230.1" r="0.35" fill="#000" fill-opacity="0.5"/>
<circle cx="296.6" cy="242.4" r="0.35" fill="#000" fill-opacity="0.5"/>
<circle cx="306.1" cy="228.3" r="0.35" fill="#000" fill-opacity="0.5"/>
<circle cx="296.9" cy="237.5" r="0.35" fill="#000" fill-opacity="0.5"/>
<circle cx="298.7" cy="235.9" r="0.35" fill="#000" fill-opacity="0.5"/>
<circle cx="304.3" cy="232.7" r="0.35" fill="#000" fill-opacity="0.5"/>
<circle cx="304.3" cy="233.5" r="0.35" fill="#000" fill-opacity="0.5"/>
<circle cx="298.4" cy="239.4" r="0.35" fill="#000" fill-opacity="0.5"/>
<circle cx="298.3" cy="238.1" r="0.35" fill="#000" fill-opacity="0.5"/>
<circle cx="310.9" cy="236.8" r="0.35" fill="#000" fill-opacity="0.5"/>
<circle cx="300.8" cy="240.4" r="0.35" fill="#000" fill-opacity="0.5"/>
<circle cx="299.5" cy="242.1" r="0.35" fill="#000" fill-opacity="0.5"/>
<circle cx="298.6" cy="232.7" r="0.35" fill="#000" fill-opacity="0.5"/>
<circle cx="311.9" cy="232.4" r="0.35" fill="#000" fill-opacity="0.5"/>
<circle cx="311.8" cy="240.0" r="0.35" fill="#000" fill-opacity="0.5"/>
<circle cx="310.0" cy="231.8" r="0.35" fill="#000" fill-opacity="0.5"/>
<circle cx="308.6" cy="244.0" r="0.35" fill="#000" fill-opacity="0.5"/>
<circle cx="300.9" cy="236.1" r="0.35" fill="#000" fill-opacity="0.5"/>
<circle cx="315.8" cy="237.6" r="0.35" fill="#000" fill-opacity="0.5"/>
<circle cx="299.1" cy="233.6" r="0.35" fill="#000" fill-opacity="0.5"/>
<circle cx="304.2" cy="238.4" r="0.35" fill="#000" fill-opacity="0.5"/>
<circle cx="302.6" cy="245.3" r="0.35" fill="#000" fill-opacity="0.5"/>
<circle cx="299.7" cy="239.1" r="0.35" fill="#000" fill-opacity="0.5"/>
<circle cx="310.1" cy="231.7" r="0.35" fill="#000" fill-opacity="0.5"/>
<circle cx="307.6" cy="245.9" r="0.35" fill="#000" fill-opacity="0.5"/>
<circle cx="304.2" cy="227.4" r="0.35" fill="#000" fill-opacity="0.5"/>
<circle cx="304.5" cy="244.0" r="0.35" fill="#000" fill-opacity="0.5"/>
<circle cx="297.3" cy="235.4" r="0.35" fill="#000" fill-opacity="0.5"/>
<circle cx="301.9" cy="239.4" r="0.35" fill="#000" fill-opacity="0.5"/>
<circle cx="299.6" cy="236.8" r="0.35" fill="#000" fill-opacity="0.5"/>
<circle cx="298.4" cy="237.3" r="0.35" fill="#000" fill-opacity="0.5"/>
<circle cx="312.7" cy="237.1" r="0.35" fill="#000" fill-opacity="0.5"/>
<circle cx="296.0" cy="228.4" r="0.35" fill="#000" fill-opacity="0.5"/>
<circle cx="297.3" cy="240.4" r="0.35" fill="#000" fill-opacity="0.5"/>
<circle cx="303.8" cy="236.2" r="0.35" fill="#000" fill-opacity="0.5"/>
<circle cx="296.2" cy="231.3" r="0.35" fill="#000" fill-opacity="0.5"/>
<circle cx="309.4" cy="237.9" r="0.35" fill="#000" fill-opacity="0.5"/>
<circle cx="296.1" cy="226.1" r="0.35" fill="#000" fill-opacity="0.5"/>
<circle cx="302.8" cy="235.9" r="0.35" fill="#000" fill-opacity="0.5"/>
<circle cx="300.0" cy="229.8" r="0.35" fill="#000" fill-opacity="0.5"/>
<circle cx="297.2" cy="240.9" r="0.35" fill="#000" fill-opacity="0.5"/>
<circle cx="303.1" cy="241.9" r="0.35" fill="#000" fill-opacity="0.5"/>
<circle cx="303.8" cy="233.0" r="0.35" fill="#000" fill-opacity="0.5"/>
<circle cx="304.4" cy="232.2" r="0.35" fill="#000" fill-opacity="0.5"/>
<circle cx="297.0" cy="236.6" r="0.35" fill="#000" fill-opacity="0.5"/>
<circle cx="295.8" cy="229.4" r="0.35" fill="#000" fill-opacity="0.5"/>
<circle cx="299.1" cy="240.5" r="0.35" fill="#000" fill-opacity="0.5"/>
<circle cx="299.3" cy="243.0" r="0.35" fill="#000" fill-opacity="0.5"/>
<circle cx="310.6" cy="238.7" r="0.35" fill="#000" fill-opacity="0.5"/>
<circle cx="307.1" cy="232.6" r="0.35" fill="#000" fill-opacity="0.5"/>
<circle cx="306.3" cy="238.0" r="0.35" fill="#000" fill-opacity="0.5"/>
<circle cx="305.4" cy="236.8" r="0.35" fill="#000" fill-opacity="0.5"/>
<circle cx="308.6" cy="233.5" r="0.35" fill="#000" fill-opacity="0.5"/>
<circle cx="296.0" cy="229.3" r="0.35" fill="#000" fill-opacity="0.5"/>
<circle cx="308.3" cy="233.0" r="0.35" fill="#000" fill-opacity="0.5"/>
<circle cx="299.0" cy="230.3" r="0.35" fill="#000" fill-opacity="0.5"/>
<circle cx="299.9" cy="233.6" r="0.35" fill="#000" fill-opacity="0.5"/>
<circle cx="298.4" cy="231.9" r="0.35" fill="#000" fill-opacity="0.5"/>
<circle cx="301.8" cy="234.4" r="0.35" fill="#000" fill-opacity="0.5"/>
<circle cx="302.3" cy="237.9" r="0.35" fill="#000" fill-opacity="0.5"/>
<circle cx="303.6" cy="225.8" r="0.35" fill="#000" fill-opacity="0.5"/>
<circle cx="298.5" cy="232.7" r="0.35" fill="#000" fill-opacity="0.5"/>
<circle cx="306.1" cy="228.8" r="0.35" fill="#000" fill-opacity="0.5"/>
<circle cx="297.5" cy="235.2" r="0.35" fill="#000" fill-opacity="0.5"/>
<circle cx="299.7" cy="241.7" r="0.35" fill="#000" fill-opacity="0.5"/>
<circle cx="299.0" cy="241.5" r="0.35" fill="#000" fill-opacity="0.5"/>
<circle cx="308.7" cy="238.9" r="0.35" fill="#000" fill-opacity="0.5"/>
<circle cx="304.4" cy="237.3" r="0.35" fill="#000" fill-opacity="0.5"/>
<circle cx="304.4" cy="230.6" r="0.35" fill="#000" fill-opacity="0.5"/>
<circle cx="307.1" cy="234.0" r="0.35" fill="#000" fill-opacity="0.5"/>
<circle cx="307.3" cy="237.1" r="0.35" fill="#000" fill-opacity="0.5"/>
<circle cx="308.1" cy="236.0" r="0.35" fill="#000" fill-opacity="0.5"/>
<circle cx="299.3" cy="237.9" r="0.35" fill="#000" fill-opacity="0.5"/>
<circle cx="299.1" cy="234.0" r="0.35" fill="#000" fill-opacity="0.5"/>
<circle cx="302.2" cy="237.4" r="0.35" fill="#000" fill-opacity="0.5"/>
<circle cx="310.4" cy="236.9" r="0.35" fill="#000" fill-opacity="0.5"/>
<circle cx="312.5" cy="245.7" r="0.35" fill="#000" fill-opacity="0.5"/>
<circle cx="311.6" cy="242.0" r="0.35" fill="#000" fill-opacity="0.5"/>
<circle cx="302.4" cy="237.4" r="0.35" fill="#000" fill-opacity="0.5"/>
<circle cx="300.8" cy="233.0" r="0.35" fill="#000" fill-opacity="0.5"/>
<circle cx="301.2" cy="233.5" r="0.35" fill="#000" fill-opacity="0.5"/>
<circle cx="311.1" cy="239.4" r="0.35" fill="#000" fill-opacity="0.5"/>
<circle cx="299.0" cy="227.1" r="0.35" fill="#000" fill-opacity="0.5"/>
<circle cx="301.3" cy="234.6" r="0.35" fill="#000" fill-opacity="0.5"/>
<circle cx="301.4" cy="236.0" r="0.35" fill="#000" fill-opacity="0.5"/>
<circle cx="310.0" cy="237.4" r="0.35" fill="#000" fill-opacity="0.5"/>
<circle cx="302.6" cy="234.8" r="0.35" fill="#000" fill-opacity="0.5"/>
<circle cx="298.1" cy="244.2" r="0.35" fill="#000" fill-opacity="0.5"/>
<circle cx="307.4" cy="245.3" r="0.35" fill="#000" fill-opacity="0.5"/>
<circle cx="299.6" cy="236.9" r="0.35" fill="#000" fill-opacity="0.5"/>
<circle cx="296.5" cy="241.5" r="0.35" fill="#000" fill-opacity="0.5"/>
<circle cx="308.0" cy="243.8" r="0.35" fill="#000" fill-opacity="0.5"/>
<circle cx="296.1" cy="242.1" r="0.35" fill="#000" fill-opacity="0.5"/>
<circle cx="297.5" cy="232.9" r="0.35" fill="#000" fill-opacity="0.5"/>
<circle cx="311.2" cy="233.7" r="0.35" fill="#000" fill-opacity="0.5"/>
<circle cx="297.2" cy="235.0" r="0.35" fill="#000" fill-opacity="0.5"/>
<circle cx="316.1" cy="241.7" r="0.35" fill="#000" fill-opacity="0.5"/>
<circle cx="298.5" cy="227.7" r="0.35" fill="#000" fill-opacity="0.5"/>
<circle cx="297.7" cy="242.6" r="0.35" fill="#000" fill-opacity="0.5"/>
<circle cx="312.4" cy="235.4" r="0.35" fill="#000" fill-opacity="0.5"/>
<circle cx="297.6" cy="234.2" r="0.35" fill="#000" fill-opacity="0.5"/>
<circle cx="303.3" cy="232.9" r="0.35" fill="#000" fill-opacity="0.5"/>
<circle cx="306.1" cy="236.7" r="0.35" fill="#000" fill-opacity="0.5"/>
<circle cx="306.5" cy="227.1" r="0.35" fill="#000" fill-opacity="0.5"/>
<circle cx="312.2" cy="239.2" r="0.35" fill="#000" fill-opacity="0.5"/>
<circle cx="306.0" cy="227.4" r="0.35" fill="#000" fill-opacity="0.5"/>
<circle cx="297.4" cy="235.0" r="0.35" fill="#000" fill-opacity="0.5"/>
<circle cx="307.8" cy="229.4" r="0.35" fill="#000" fill-opacity="0.5"/>
<circle cx="296.5" cy="226.6" r="0.35" fill="#000" fill-opacity="0.5"/>
<circle cx="300.2" cy="238.4" r="0.35" fill="#000" fill-opacity="0.5"/>
<circle cx="304.6" cy="244.6" r="0.35" fill="#000" fill-opacity="0.5"/>
<circle cx="305.5" cy="235.2" r="0.35" fill="#000" fill-opacity="0.5"/>
<circle cx="297.7" cy="237.4" r="0.35" fill="#000" fill-opacity="0.5"/>
<circle cx="301.3" cy="245.0" r="0.35" fill="#000" fill-opacity="0.5"/>
<circle cx="303.3" cy="231.3" r="0.35" fill="#000" fill-opacity="0.5"/>
<circle cx="310.6" cy="241.4" r="0.35" fill="#000" fill-opacity="0.5"/>
<circle cx="302.2" cy="233.1" r="0.35" fill="#000" fill-opacity="0.5"/>
<circle cx="306.9" cy="232.7" r="0.35" fill="#000" fill-opacity="0.5"/>
<circle cx="303.0" cy="239.7" r="0.35" fill="#000" fill-opacity="0.5"/>
<circle cx="305.4" cy="243.7" r="0.35" fill="#000" fill-opacity="0.5"/>
<circle cx="296.7" cy="241.6" r="0.35" fill="#000" fill-opacity="0.5"/>
<circle cx="295.9" cy="240.2" r="0.35" fill="#000" fill-opacity="0.5"/>
<circle cx="302.6" cy="237.9" r="0.35" fill="#000" fill-opacity="0.5"/>
<circle cx="307.2" cy="236.6" r="0.35" fill="#000" fill-opacity="0.5"/>
<circle cx="308.1" cy="241.1" r="0.35" fill="#000" fill-opacity="0.5"/>
<circle cx="302.4" cy="233.9" r="0.35" fill="#000" fill-opacity="0.5"/>
<circle cx="297.2" cy="234.1" r="0.35" fill="#000" fill-opacity="0.5"/>
<circle cx="300.4" cy="236.6" r="0.35" fill="#000" fill-opacity="0.5"/>
<circle cx="318.9" cy="239.9" r="0.35" fill="#000" fill-opacity="0.5"/>
<circle cx="306.1" cy="232.4" r="0.35" fill="#000" fill-opacity="0.5"/>
<circle cx="297.5" cy="235.1" r="0.35" fill="#000" fill-opacity="0.5"/>
<circle cx="302.7" cy="231.5" r="0.35" fill="#000" fill-opacity="0.5"/>
<circle cx="310.9" cy="233.9" r="0.35" fill="#000" fill-opacity="0.5"/>
<circle cx="307.9" cy="225.0" r="0.35" fill="#000" fill-opacity="0.5"/>
<circle cx="301.6" cy="238.1" r="0.35" fill="#000" fill-opacity="0.5"/>
<circle cx="302.7" cy="239.7" r="0.35" fill="#000" fill-opacity="0.5"/>
<circle cx="303.2" cy="237.5" r="0.35" fill="#000" fill-opacity="0.5"/>
<circle cx="303.4" cy="235.7" r="0.35" fill="#000" fill-opacity="0.5"/>
<circle cx="296.8" cy="233.8" r="0.35" fill="#000" fill-opacity="0.5"/>
<circle cx="312.3" cy="245.4" r="0.35" fill="#000" fill-opacity="0.5"/>
<circle cx="301.3" cy="243.1" r="0.35" fill="#000" fill-opacity="0.5"/>
<circle cx="298.8" cy="232.3" r="0.35" fill="#000" fill-opacity="0.5"/>
<circle cx="298.4" cy="237.6" r="0.35" fill="#000" fill-opacity="0.5"/>
<circle cx="319.1" cy="233.4" r="0.35" fill="#000" fill-opacity="0.5"/>
<circle cx="301.9" cy="238.1" r="0.35" fill="#000" fill-opacity="0.5"/>
<circle cx="301.4" cy="241.4" r="0.35" fill="#000" fill-opacity="0.5"/>
<circle cx="311.9" cy="230.5" r="0.35" fill="#000" fill-opacity="0.5"/>
<circle cx="302.5" cy="235.4" r="0.35" fill="#000" fill-opacity="0.5"/>
<circle cx="303.7" cy="229.0" r="0.35" fill="#000" fill-opacity="0.5"/>
<circle cx="304.6" cy="237.7" r="0.35" fill="#000" fill-opacity="0.5"/>
<circle cx="302.0" cy="224.9" r="0.35" fill="#000" fill-opacity="0.5"/>
<circle cx="299.4" cy="232.9" r="0.35" fill="#000" fill-opacity="0.5"/>
<circle cx="305.6" cy="239.4" r="0.35" fill="#000" fill-opacity="0.5"/>
<circle cx="301.5" cy="239.3" r="0.35" fill="#000" fill-opacity="0.5"/>
<circle cx="298.1" cy="237.1" r="0.35" fill="#000" fill-opacity="0.5"/>
<circle cx="301.8" cy="239.5" r="0.35" fill="#000" fill-opacity="0.5"/>
<circle cx="301.2" cy="236.0" r="0.35" fill="#000" fill-opacity="0.5"/>
<circle cx="300.8" cy="233.5" r="0.35" fill="#000" fill-opacity="0.5"/>
<circle cx="314.6" cy="239.3" r="0.35" fill="#000" fill-opacity="0.5"/>
<circle cx="309.7" cy="228.9" r="0.35" fill="#000" fill-opacity="0.5"/>
<circle cx="305.6" cy="240.9" r="0.35" fill="#000" fill-opacity="0.5"/>
<circle cx="312.5" cy="243.3" r="0.35" fill="#000" fill-opacity="0.5"/>
<circle cx="306.1" cy="230.8" r="0.35" fill="#000" fill-opacity="0.5"/>
<circle cx="296.6" cy="238.0" r="0.35" fill="#000" fill-opacity="0.5"/>
<circle cx="304.5" cy="231.6" r="0.35" fill="#000" fill-opacity="0.5"/>
<circle cx="299.4" cy="234.7" r="0.35" fill="#000" fill-opacity="0.5"/>
<circle cx="302.0" cy="238.4" r="0.35" fill="#000" fill-opacity="0.5"/>
<circle cx="299.9" cy="230.5" r="0.35" fill="#000" fill-opacity="0.5"/>
<circle cx="308.8" cy="244.7" r="0.35" fill="#000" fill-opacity="0.5"/>
<circle cx="301.0" cy="241.8" r="0.35" fill="#000" fill-opacity="0.5"/>
<circle cx="304.2" cy="240.0" r="0.35" fill="#000" fill-opacity="0.5"/>
<circle cx="304.4" cy="232.9" r="0.35" fill="#000" fill-opacity="0.5"/>
<circle cx="304.9" cy="241.8" r="0.35" fill="#000" fill-opacity="0.5"/>
<circle cx="296.4" cy="246.5" r="0.35" fill="#000" fill-opacity="0.5"/>
<circle cx="313.7" cy="245.8" r="0.35" fill="#000" fill-opacity="0.5"/>
<circle cx="313.1" cy="240.4" r="0.35" fill="#000" fill-opacity="0.5"/>
<circle cx="299.6" cy="233.7" r="0.35" fill="#000" fill-opacity="0.5"/>
<circle cx="296.9" cy="237.3" r="0.35" fill="#000" fill-opacity="0.5"/>
<circle cx="301.4" cy="240.1" r="0.35" fill="#000" fill-opacity="0.5"/>
<circle cx="314.8" cy="236.6" r="0.35" fill="#000" fill-opacity="0.5"/>
<circle cx="305.5" cy="239.1" r="0.35" fill="#000" fill-opacity="0.5"/>
<circle cx="303.2" cy="235.7" r="0.35" fill="#000" fill-opacity="0.5"/>
<circle cx="300.9" cy="232.6" r="0.35" fill="#000" fill-opacity="0.5"/>
<circle cx="302.6" cy="236.6" r="0.35" fill="#000" fill-opacity="0.5"/>
<circle cx="303.5" cy="232.4" r="0.35" fill="#000" fill-opacity="0.5"/>
<circle cx="301.8" cy="236.9" r="0.35" fill="#000" fill-opacity="0.5"/>
<circle cx="305.1" cy="231.4" r="0.35" fill="#000" fill-opacity="0.5"/>
<circle cx="304.0" cy="241.6" r="0.35" fill="#000" fill-opacity="0.5"/>
<circle cx="305.1" cy="234.9" r="0.35" fill="#000" fill-opacity="0.5"/>
<circle cx="298.8" cy="235.5" r="0.35" fill="#000" fill-opacity="0.5"/>
<circle cx="305.8" cy="244.5" r="0.35" fill="#000" fill-opacity="0.5"/>
<circle cx="300.7" cy="233.5" r="0.35" fill="#000" fill-opacity="0.5"/>
<circle cx="303.8" cy="237.7" r="0.35" fill="#000" fill-opacity="0.5"/>
<circle cx="296.3" cy="233.0" r="0.35" fill="#000" fill-opacity="0.5"/>
<circle cx="301.0" cy="240.1" r="0.35" fill="#000" fill-opacity="0.5"/>
<circle cx="304.5" cy="230.6" r="0.35" fill="#000" fill-opacity="0.5"/>
<circle cx="302.2" cy="238.5" r="0.35" fill="#000" fill-opacity="0.5"/>
<circle cx="301.0" cy="231.6" r="0.35" fill="#000" fill-opacity="0.5"/>
<circle cx="301.3" cy="235.0" r="0.35" fill="#000" fill-opacity="0.5"/>
<circle cx="303.5" cy="232.5" r="0.35" fill="#000" fill-opacity="0.5"/>
<circle cx="307.9" cy="228.3" r="0.35" fill="#000" fill-opacity="0.5"/>
<circle cx="300.6" cy="236.7" r="0.35" fill="#000" fill-opacity="0.5"/>
<circle cx="307.2" cy="233.7" r="0.35" fill="#000" fill-opacity="0.5"/>
<circle cx="304.8" cy="233.9" r="0.35" fill="#000" fill-opacity="0.5"/>
<circle cx="305.9" cy="245.4" r="0.35" fill="#000" fill-opacity="0.5"/>
<circle cx="299.3" cy="238.9" r="0.35" fill="#000" fill-opacity="0.5"/>
<circle cx="296.2" cy="241.6" r="0.35" fill="#000" fill-opacity="0.5"/>
<circle cx="308.6" cy="236.9" r="0.35" fill="#000" fill-opacity="0.5"/>
<circle cx="308.3" cy="242.1" r="0.35" fill="#000" fill-opacity="0.5"/>
<circle cx="306.3" cy="227.5" r="0.35" fill="#000" fill-opacity="0.5"/>
<circle cx="297.7" cy="243.8" r="0.35" fill="#000" fill-opacity="0.5"/>
<circle cx="312.5" cy="240.5" r="0.35" fill="#000" fill-opacity="0.5"/>
<circle cx="308.1" cy="235.0" r="0.35" fill="#000" fill-opacity="0.5"/>
<circle cx="300.4" cy="236.5" r="0.35" fill="#000" fill-opacity="0.5"/>
<circle cx="305.6" cy="236.0" r="0.35" fill="#000" fill-opacity="0.5"/>
<circle cx="302.7" cy="238.8" r="0.35" fill="#000" fill-opacity="0.5"/>
<circle cx="301.6" cy="245.9" r="0.35" fill="#000" fill-opacity="0.5"/>
<circle cx="304.2" cy="237.1" r="0.35" fill="#000" fill-opacity="0.5"/>
<circle cx="300.4" cy="233.6" r="0.35" fill="#000" fill-opacity="0.5"/>
<circle cx="309.4" cy="237.5" r="0.35" fill="#000" fill-opacity="0.5"/>
<circle cx="300.8" cy="234.5" r="0.35" fill="#000" fill-opacity="0.5"/>
<circle cx="307.9" cy="230.9" r="0.35" fill="#000" fill-opacity="0.5"/>
<circle cx="304.5" cy="237.4" r="0.35" fill="#000" fill-opacity="0.5"/>
<circle cx="301.1" cy="239.2" r="0.35" fill="#000" fill-opacity="0.5"/>
<circle cx="299.0" cy="238.2" r="0.35" fill="#000" fill-opacity="0.5"/>
<circle cx="306.2" cy="241.9" r="0.35" fill="#000" fill-opacity="0.5"/>
<circle cx="301.5" cy="233.7" r="0.35" fill="#000" fill-opacity="0.5"/>
<circle cx="307.9" cy="226.2" r="0.35" fill="#000" fill-opacity="0.5"/>
<circle cx="297.0" cy="240.1" r="0.35" fill="#000" fill-opacity="0.5"/>
<circle cx="305.4" cy="231.5" r="0.35" fill="#000" fill-opacity="0.5"/>
<circle cx="302.5" cy="232.2" r="0.35" fill="#000" fill-opacity="0.5"/>
<circle cx="301.9" cy="241.2" r="0.35" fill="#000" fill-opacity="0.5"/>
<circle cx="305.9" cy="226.3" r="0.35" fill="#000" fill-opacity="0.5"/>
<circle cx="306.1" cy="227.8" r="0.35" fill="#000" fill-opacity="0.5"/>
<circle cx="308.2" cy="238.7" r="0.35" fill="#000" fill-opacity="0.5"/>
<circle cx="314.7" cy="233.6" r="0.35" fill="#000" fill-opacity="0.5"/>
<circle cx="301.6" cy="241.9" r="0.35" fill="#000" fill-opacity="0.5"/>
<circle cx="297.9" cy="233.2" r="0.35" fill="#000" fill-opacity="0.5"/>
<circle cx="299.4" cy="236.3" r="0.35" fill="#000" fill-opacity="0.5"/>
<circle cx="304.8" cy="237.1" r="0.35" fill="#000" fill-opacity="0.5"/>
<circle cx="311.5" cy="235.1" r="0.35" fill="#000" fill-opacity="0.5"/>
<circle cx="309.2" cy="234.0" r="0.35" fill="#000" fill-opacity="0.5"/>
<circle cx="306.0" cy="227.0" r="0.35" fill="#000" fill-opacity="0.5"/>
<circle cx="302.7" cy="235.8" r="0.35" fill="#000" fill-opacity="0.5"/>
<circle cx="298.7" cy="233.6" r="0.35" fill="#000" fill-opacity="0.5"/>
<circle cx="299.6" cy="233.1" r="0.35" fill="#000" fill-opacity="0.5"/>
<circle cx="298.4" cy="234.1" r="0.35" fill="#000" fill-opacity="0.5"/>
<circle cx="306.2" cy="235.4" r="0.35" fill="#000" fill-opacity="0.5"/>
<circle cx="298.7" cy="243.5" r="0.35" fill="#000" fill-opacity="0.5"/>
<circle cx="307.3" cy="241.3" r="0.35" fill="#000" fill-opacity="0.5"/>
<circle cx="308.3" cy="235.1" r="0.35" fill="#000" fill-opacity="0.5"/>
<circle cx="300.8" cy="242.3" r="0.35" fill="#000" fill-opacity="0.5"/>
<circle cx="298.4" cy="236.1" r="0.35" fill="#000" fill-opacity="0.5"/>
<circle cx="303.8" cy="238.6" r="0.35" fill="#000" fill-opacity="0.5"/>
<circle cx="300.0" cy="241.6" r="0.35" fill="#000" fill-opacity="0.5"/>
<circle cx="300.6" cy="240.3" r="0.35" fill="#000" fill-opacity="0.5"/>
<circle cx="307.8" cy="240.0" r="0.35" fill="#000" fill-opacity="0.5"/>
<circle cx="305.9" cy="230.9" r="0.35" fill="#000" fill-opacity="0.5"/>
<circle cx="304.4" cy="244.2" r="0.35" fill="#000" fill-opacity="0.5"/>
<circle cx="296.6" cy="233.0" r="0.35" fill="#000" fill-opacity="0.5"/>
<circle cx="300.0" cy="240.2" r="0.35" fill="#000" fill-opacity="0.5"/>
<circle cx="302.8" cy="242.6" r="0.35" fill="#000" fill-opacity="0.5"/>
<circle cx="295.9" cy="241.1" r="0.35" fill="#000" fill-opacity="0.5"/>
<circle cx="307.0" cy="237.0" r="0.35" fill="#000" fill-opacity="0.5"/>
<circle cx="304.4" cy="233.9" r="0.35" fill="#000" fill-opacity="0.5"/>
<circle cx="298.8" cy="245.0" r="0.35" fill="#000" fill-opacity="0.5"/>
<circle cx="302.8" cy="238.3" r="0.35" fill="#000" fill-opacity="0.5"/>
<circle cx="305.9" cy="232.8" r="0.35" fill="#000" fill-opacity="0.5"/>
<circle cx="306.9" cy="238.6" r="0.35" fill="#000" fill-opacity="0.5"/>
<circle cx="304.8" cy="239.0" r="0.35" fill="#000" fill-opacity="0.5"/>
<circle cx="310.8" cy="234.6" r="0.35" fill="#000" fill-opacity="0.5"/>
<circle cx="304.6" cy="240.4" r="0.35" fill="#000" fill-opacity="0.5"/>
<circle cx="296.4" cy="242.7" r="0.35" fill="#000" fill-opacity="0.5"/>
<circle cx="304.6" cy="231.3" r="0.35" fill="#000" fill-opacity="0.5"/>
<circle cx="300.9" cy="228.5" r="0.35" fill="#000" fill-opacity="0.5"/>
<circle cx="302.0" cy="231.0" r="0.35" fill="#000" fill-opacity="0.5"/>
<circle cx="303.6" cy="229.0" r="0.35" fill="#000" fill-opacity="0.5"/>
<circle cx="304.2" cy="235.4" r="0.35" fill="#000" fill-opacity="0.5"/>
<circle cx="302.0" cy="236.4" r="0.35" fill="#000" fill-opacity="0.5"/>
<circle cx="302.4" cy="230.1" r="0.35" fill="#000" fill-opacity="0.5"/>
<circle cx="296.2" cy="234.4" r="0.35" fill="#000" fill-opacity="0.5"/>
<circle cx="304.1" cy="226.8" r="0.35" fill="#000" fill-opacity="0.5"/>
<circle cx="297.2" cy="233.6" r="0.35" fill="#000" fill-opacity="0.5"/>
<circle cx="300.8" cy="232.6" r="0.35" fill="#000" fill-opacity="0.5"/>
<circle cx="295.9" cy="240.7" r="0.35" fill="#000" fill-opacity="0.5"/>
<circle cx="297.8" cy="239.6" r="0.35" fill="#000" fill-opacity="0.5"/>
<circle cx="304.2" cy="227.2" r="0.35" fill="#000" fill-opacity="0.5"/>
<circle cx="303.6" cy="240.6" r="0.35" fill="#000" fill-opacity="0.5"/>
<circle cx="306.3" cy="241.9" r="0.35" fill="#000" fill-opacity="0.5"/>
<circle cx="299.4" cy="235.6" r="0.35" fill="#000" fill-opacity="0.5"/>
<circle cx="306.1" cy="234.6" r="0.35" fill="#000" fill-opacity="0.5"/>
<circle cx="307.7" cy="228.8" r="0.35" fill="#000" fill-opacity="0.5"/>
<circle cx="305.4" cy="235.8" r="0.35" fill="#000" fill-opacity="0.5"/>
<circle cx="303.4" cy="236.8" r="0.35" fill="#000" fill-opacity="0.5"/>
<circle cx="310.4" cy="232.6" r="0.35" fill="#000" fill-opacity="0.5"/>
<circle cx="299.3" cy="232.1" r="0.35" fill="#000" fill-opacity="0.5"/>
<circle cx="296.7" cy="241.9" r="0.35" fill="#000" fill-opacity="0.5"/>
<circle cx="298.4" cy="231.2" r="0.35" fill="#000" fill-opacity="0.5"/>
<circle cx="306.2" cy="239.5" r="0.35" fill="#000" fill-opacity="0.5"/>
<circle cx="308.1" cy="235.4" r="0.35" fill="#000" fill-opacity="0.5"/>
<circle cx="306.9" cy="236.6" r="0.35" fill="#000" fill-opacity="0.5"/>
<circle cx="304.0" cy="240.5" r="0.35" fill="#000" fill-opacity="0.5"/>
<circle cx="312.3" cy="235.4" r="0.35" fill="#000" fill-opacity="0.5"/>
<circle cx="298.8" cy="236.5" r="0.35" fill="#000" fill-opacity="0.5"/>
<circle cx="308.6" cy="232.0" r="0.35" fill="#000" fill-opacity="0.5"/>
<circle cx="309.2" cy="223.0" r="0.35" fill="#000" fill-opacity="0.5"/>
<circle cx="306.2" cy="233.3" r="0.35" fill="#000" fill-opacity="0.5"/>
<circle cx="304.3" cy="240.1" r="0.35" fill="#000" fill-opacity="0.5"/>
<circle cx="303.0" cy="239.6" r="0.35" fill="#000" fill-opacity="0.5"/>
<circle cx="296.2" cy="231.7" r="0.35" fill="#000" fill-opacity="0.5"/>
<circle cx="300.5" cy="235.6" r="0.35" fill="#000" fill-opacity="0.5"/>
<circle cx="298.5" cy="243.9" r="0.35" fill="#000" fill-opacity="0.5"/>
<circle cx="306.5" cy="236.8" r="0.35" fill="#000" fill-opacity="0.5"/>
<circle cx="305.8" cy="231.1" r="0.35" fill="#000" fill-opacity="0.5"/>
<circle cx="299.7" cy="233.8" r="0.35" fill="#000" fill-opacity="0.5"/>
<circle cx="300.8" cy="243.9" r="0.35" fill="#000" fill-opacity="0.5"/>
<circle cx="296.3" cy="234.4" r="0.35" fill="#000" fill-opacity="0.5"/>
<circle cx="304.0" cy="238.7" r="0.35" fill="#000" fill-opacity="0.5"/>
<circle cx="301.8" cy="234.3" r="0.35" fill="#000" fill-opacity="0.5"/>
<circle cx="304.5" cy="238.5" r="0.35" fill="#000" fill-opacity="0.5"/>
<circle cx="302.5" cy="237.0" r="0.35" fill="#000" fill-opacity="0.5"/>
<circle cx="302.3" cy="232.3" r="0.35" fill="#000" fill-opacity="0.5"/>
<circle cx="300.4" cy="232.1" r="0.35" fill="#000" fill-opacity="0.5"/>
<circle cx="303.8" cy="240.1" r="0.35" fill="#000" fill-opacity="0.5"/>
<circle cx="311.8" cy="243.0" r="0.35" fill="#000" fill-opacity="0.5"/>
<circle cx="296.9" cy="234.4" r="0.35" fill="#000" fill-opacity="0.5"/>
<circle cx="296.2" cy="238.2" r="0.35" fill="#000" fill-opacity="0.5"/>
<circle cx="313.1" cy="240.2" r="0.35" fill="#000" fill-opacity="0.5"/>
<circle cx="301.6" cy="238.2" r="0.35" fill="#000" fill-opacity="0.5"/>
<circle cx="311.9" cy="232.6" r="0.35" fill="#000" fill-opacity="0.5"/>
<circle cx="296.7" cy="246.5" r="0.35" fill="#000" fill-opacity="0.5"/>
<circle cx="303.6" cy="232.8" r="0.35" fill="#000" fill-opacity="0.5"/>
<circle cx="301.9" cy="241.7" r="0.35" fill="#000" fill-opacity="0.5"/>
<circle cx="300.8" cy="233.2" r="0.35" fill="#000" fill-opacity="0.5"/>
<circle cx="297.3" cy="246.2" r="0.35" fill="#000" fill-opacity="0.5"/>
<circle cx="301.7" cy="239.8" r="0.35" fill="#000" fill-opacity="0.5"/>
<circle cx="299.3" cy="239.2" r="0.35" fill="#000" fill-opacity="0.5"/>
<circle cx="306.3" cy="236.0" r="0.35" fill="#000" fill-opacity="0.5"/>
<circle cx="298.9" cy="235.8" r="0.35" fill="#000" fill-opacity="0.5"/>
<circle cx="296.0" cy="235.7" r="0.35" fill="#000" fill-opacity="0.5"/>
<circle cx="299.8" cy="237.8" r="0.35" fill="#000" fill-opacity="0.5"/>
<circle cx="309.3" cy="243.2" r="0.35" fill="#000" fill-opacity="0.5"/>
<circle cx="299.0" cy="239.7" r="0.35" fill="#000" fill-opacity="0.5"/>
<circle cx="303.3" cy="240.5" r="0.35" fill="#000" fill-opacity="0.5"/>
<circle cx="301.7" cy="238.0" r="0.35" fill="#000" fill-opacity="0.5"/>
<circle cx="298.9" cy="232.8" r="0.35" fill="#000" fill-opacity="0.5"/>
<circle cx="306.7" cy="243.2" r="0.35" fill="#000" fill-opacity="0.5"/>
<circle cx="305.4" cy="238.9" r="0.35" fill="#000" fill-opacity="0.5"/>
<circle cx="303.1" cy="234.4" r="0.35" fill="#000" fill-opacity="0.5"/>
<circle cx="302.8" cy="233.9" r="0.35" fill="#000" fill-opacity="0.5"/>
<circle cx="296.0" cy="243.1" r="0.35" fill="#000" fill-opacity="0.5"/>
<circle cx="297.4" cy="236.6" r="0.35" fill="#000" fill-opacity="0.5"/>
<circle cx="298.7" cy="237.5" r="0.35" fill="#000" fill-opacity="0.5"/>
<circle cx="300.4" cy="233.0" r="0.35" fill="#000" fill-opacity="0.5"/>
<circle cx="307.8" cy="232.8" r="0.35" fill="#000" fill-opacity="0.5"/>
<circle cx="298.7" cy="239.5" r="0.35" fill="#000" fill-opacity="0.5"/>
<circle cx="298.5" cy="234.5" r="0.35" fill="#000" fill-opacity="0.5"/>
<circle cx="303.7" cy="234.9" r="0.35" fill="#000" fill-opacity="0.5"/>
<circle cx="300.3" cy="245.2" r="0.35" fill="#000" fill-opacity="0.5"/>
<circle cx="297.0" cy="234.9" r="0.35" fill="#000" fill-opacity="0.5"/>
<circle cx="299.7" cy="238.1" r="0.35" fill="#000" fill-opacity="0.5"/>
<circle cx="306.6" cy="245.4" r="0.35" fill="#000" fill-opacity="0.5"/>
<circle cx="297.9" cy="243.3" r="0.35" fill="#000" fill-opacity="0.5"/>
<circle cx="307.4" cy="240.8" r="0.35" fill="#000" fill-opacity="0.5"/>
<circle cx="297.2" cy="241.2" r="0.35" fill="#000" fill-opacity="0.5"/>
<circle cx="301.0" cy="238.5" r="0.35" fill="#000" fill-opacity="0.5"/>
<circle cx="300.0" cy="240.0" r="0.35" fill="#000" fill-opacity="0.5"/>
<circle cx="308.1" cy="242.4" r="0.35" fill="#000" fill-opacity="0.5"/>
<circle cx="300.4" cy="241.7" r="0.35" fill="#000" fill-opacity="0.5"/>
<circle cx="310.0" cy="232.0" r="0.35" fill="#000" fill-opacity="0.5"/>
<circle cx="310.1" cy="230.0" r="0.35" fill="#000" fill-opacity="0.5"/>
<circle cx="304.7" cy="239.7" r="0.35" fill="#000" fill-opacity="0.5"/>
<circle cx="310.2" cy="238.1" r="0.35" fill="#000" fill-opacity="0.5"/>
<circle cx="298.8" cy="232.7" r="0.35" fill="#000" fill-opacity="0.5"/>
<circle cx="300.2" cy="233.1" r="0.35" fill="#000" fill-opacity="0.5"/>
<circle cx="304.7" cy="232.9" r="0.35" fill="#000" fill-opacity="0.5"/>
<circle cx="297.8" cy="229.6" r="0.35" fill="#000" fill-opacity="0.35"/>
<circle cx="316.0" cy="246.9" r="0.35" fill="#000" fill-opacity="0.35"/>
<circle cx="300.2" cy="219.6" r="0.35" fill="#000" fill-opacity="0.35"/>
<circle cx="304.0" cy="234.3" r="0.35" fill="#000" fill-opacity="0.35"/>
<circle cx="304.6" cy="238.8" r="0.35" fill="#000" fill-opacity="0.35"/>
<circle cx="298.8" cy="242.0" r="0.35" fill="#000" fill-opacity="0.35"/>
<circle cx="308.9" cy="235.6" r="0.35" fill="#000" fill-opacity="0.35"/>
<circle cx="298.1" cy="229.4" r="0.35" fill="#000" fill-opacity="0.35"/>
<circle cx="307.6" cy="223.8" r="0.35" fill="#000" fill-opacity="0.35"/>
<circle cx="300.2" cy="227.0" r="0.35" fill="#000" fill-opacity="0.35"/>
<circle cx="301.4" cy="234.0" r="0.35" fill="#000" fill-opacity="0.35"/>
<circle cx="309.2" cy="220.3" r="0.35" fill="#000" fill-opacity="0.35"/>
<circle cx="301.0" cy="236.3" r="0.35" fill="#000" fill-opacity="0.35"/>
<circle cx="308.8" cy="223.9" r="0.35" fill="#000" fill-opacity="0.35"/>
<circle cx="307.8" cy="235.7" r="0.35" fill="#000" fill-opacity="0.35"/>
<circle cx="313.4" cy="243.9" r="0.35" fill="#000" fill-opacity="0.35"/>
<circle cx="301.6" cy="229.9" r="0.35" fill="#000" fill-opacity="0.35"/>
<circle cx="298.6" cy="225.2" r="0.35" fill="#000" fill-opacity="0.35"/>
<circle cx="301.3" cy="216.8" r="0.35" fill="#000" fill-opacity="0.35"/>
<circle cx="300.9" cy="237.5" r="0.35" fill="#000" fill-opacity="0.35"/>
<circle cx="310.2" cy="230.6" r="0.35" fill="#000" fill-opacity="0.35"/>
<circle cx="313.7" cy="227.8" r="0.35" fill="#000" fill-opacity="0.35"/>
<circle cx="300.4" cy="216.8" r="0.35" fill="#000" fill-opacity="0.35"/>
<circle cx="314.3" cy="238.4" r="0.35" fill="#000" fill-opacity="0.35"/>
<circle cx="305.7" cy="231.6" r="0.35" fill="#000" fill-opacity="0.35"/>
<circle cx="301.8" cy="231.0" r="0.35" fill="#000" fill-opacity="0.35"/>
<circle cx="297.0" cy="218.1" r="0.35" fill="#000" fill-opacity="0.35"/>
<circle cx="300.8" cy="245.0" r="0.35" fill="#000" fill-opacity="0.35"/>
<circle cx="313.8" cy="231.3" r="0.35" fill="#000" fill-opacity="0.35"/>
<circle cx="309.2" cy="236.8" r="0.35" fill="#000" fill-opacity="0.35"/>
<circle cx="296.6" cy="236.9" r="0.35" fill="#000" fill-opacity="0.35"/>
<circle cx="299.8" cy="238.2" r="0.35" fill="#000" fill-opacity="0.35"/>
<circle cx="298.1" cy="220.8" r="0.35" fill="#000" fill-opacity="0.35"/>
<circle cx="302.1" cy="240.4" r="0.35" fill="#000" fill-opacity="0.35"/>
<circle cx="309.0" cy="230.4" r="0.35" fill="#000" fill-opacity="0.35"/>
<circle cx="308.6" cy="242.7" r="0.35" fill="#000" fill-opacity="0.35"/>
<circle cx="307.9" cy="245.4" r="0.35" fill="#000" fill-opacity="0.35"/>
<circle cx="303.3" cy="216.8" r="0.35" fill="#000" fill-opacity="0.35"/>
<circle cx="307.0" cy="238.6" r="0.35" fill="#000" fill-opacity="0.35"/>
<circle cx="297.8" cy="238.4" r="0.35" fill="#000" fill-opacity="0.35"/>
<circle cx="308.2" cy="236.4" r="0.35" fill="#000" fill-opacity="0.35"/>
<circle cx="297.6" cy="235.1" r="0.35" fill="#000" fill-opacity="0.35"/>
<circle cx="297.2" cy="242.7" r="0.35" fill="#000" fill-opacity="0.35"/>
<circle cx="298.2" cy="237.8" r="0.35" fill="#000" fill-opacity="0.35"/>
<circle cx="302.8" cy="234.3" r="0.35" fill="#000" fill-opacity="0.35"/>
<circle cx="316.1" cy="233.0" r="0.35" fill="#000" fill-opacity="0.35"/>
<circle cx="313.5" cy="240.9" r="0.35" fill="#000" fill-opacity="0.35"/>
<circle cx="312.7" cy="232.3" r="0.35" fill="#000" fill-opacity="0.35"/>
<circle cx="309.4" cy="240.3" r="0.35" fill="#000" fill-opacity="0.35"/>
<circle cx="296.4" cy="236.0" r="0.35" fill="#000" fill-opacity="0.35"/>
<circle cx="300.5" cy="233.4" r="0.35" fill="#000" fill-opacity="0.35"/>
<circle cx="312.5" cy="227.4" r="0.35" fill="#000" fill-opacity="0.35"/>
<circle cx="297.8" cy="228.1" r="0.35" fill="#000" fill-opacity="0.35"/>
<circle cx="301.7" cy="238.6" r="0.35" fill="#000" fill-opacity="0.35"/>
<circle cx="316.4" cy="236.4" r="0.35" fill="#000" fill-opacity="0.35"/>
<circle cx="305.5" cy="227.3" r="0.35" fill="#000" fill-opacity="0.35"/>
<circle cx="306.5" cy="245.5" r="0.35" fill="#000" fill-opacity="0.35"/>
<circle cx="312.9" cy="216.7" r="0.35" fill="#000" fill-opacity="0.35"/>
<circle cx="308.5" cy="220.7" r="0.35" fill="#000" fill-opacity="0.35"/>
<circle cx="299.0" cy="238.8" r="0.35" fill="#000" fill-opacity="0.35"/>
<circle cx="305.1" cy="226.7" r="0.35" fill="#000" fill-opacity="0.35"/>
<circle cx="301.8" cy="236.3" r="0.35" fill="#000" fill-opacity="0.35"/>
<circle cx="307.4" cy="221.0" r="0.35" fill="#000" fill-opacity="0.35"/>
<circle cx="318.9" cy="221.5" r="0.35" fill="#000" fill-opacity="0.35"/>
<circle cx="305.6" cy="240.0" r="0.35" fill="#000" fill-opacity="0.35"/>
<circle cx="298.5" cy="231.9" r="0.35" fill="#000" fill-opacity="0.35"/>
<circle cx="299.6" cy="228.7" r="0.35" fill="#000" fill-opacity="0.35"/>
<circle cx="303.7" cy="235.1" r="0.35" fill="#000" fill-opacity="0.35"/>
<circle cx="296.3" cy="235.9" r="0.35" fill="#000" fill-opacity="0.35"/>
<circle cx="301.5" cy="233.0" r="0.35" fill="#000" fill-opacity="0.35"/>
<circle cx="310.8" cy="218.8" r="0.35" fill="#000" fill-opacity="0.35"/>
<circle cx="303.7" cy="224.5" r="0.35" fill="#000" fill-opacity="0.35"/>
<circle cx="298.9" cy="246.7" r="0.35" fill="#000" fill-opacity="0.35"/>
<circle cx="296.7" cy="241.9" r="0.35" fill="#000" fill-opacity="0.35"/>
<circle cx="305.9" cy="230.6" r="0.35" fill="#000" fill-opacity="0.35"/>
<circle cx="298.9" cy="243.0" r="0.35" fill="#000" fill-opacity="0.35"/>
<circle cx="302.8" cy="237.3" r="0.35" fill="#000" fill-opacity="0.35"/>
<circle cx="297.3" cy="242.6" r="0.35" fill="#000" fill-opacity="0.35"/>
<circle cx="320.3" cy="230.2" r="0.35" fill="#000" fill-opacity="0.35"/>
<circle cx="317.2" cy="215.5" r="0.35" fill="#000" fill-opacity="0.35"/>
<circle cx="313.4" cy="230.7" r="0.35" fill="#000" fill-opacity="0.35"/>
<circle cx="302.7" cy="230.8" r="0.35" fill="#000" fill-opacity="0.35"/>
<circle cx="296.3" cy="222.7" r="0.35" fill="#000" fill-opacity="0.35"/>
<circle cx="298.3" cy="244.9" r="0.35" fill="#000" fill-opacity="0.35"/>
<circle cx="311.1" cy="230.7" r="0.35" fill="#000" fill-opacity="0.35"/>
<circle cx="297.2" cy="227.6" r="0.35" fill="#000" fill-opacity="0.35"/>
<circle cx="307.1" cy="234.7" r="0.35" fill="#000" fill-opacity="0.35"/>
<circle cx="297.5" cy="224.9" r="0.35" fill="#000" fill-opacity="0.35"/>
<circle cx="312.6" cy="240.4" r="0.35" fill="#000" fill-opacity="0.35"/>
<circle cx="305.7" cy="237.4" r="0.35" fill="#000" fill-opacity="0.35"/>
<circle cx="310.0" cy="226.5" r="0.35" fill="#000" fill-opacity="0.35"/>
<circle cx="314.8" cy="245.3" r="0.35" fill="#000" fill-opacity="0.35"/>
<circle cx="301.5" cy="237.7" r="0.35" fill="#000" fill-opacity="0.35"/>
<circle cx="303.3" cy="245.3" r="0.35" fill="#000" fill-opacity="0.35"/>
<circle cx="309.5" cy="240.7" r="0.35" fill="#000" fill-opacity="0.35"/>
<circle cx="298.6" cy="231.8" r="0.35" fill="#000" fill-opacity="0.35"/>
<circle cx="298.8" cy="235.6" r="0.35" fill="#000" fill-opacity="0.35"/>
<circle cx="301.8" cy="229.3" r="0.35" fill="#000" fill-opacity="0.35"/>
<circle cx="315.5" cy="232.9" r="0.35" fill="#000" fill-opacity="0.35"/>
<circle cx="314.7" cy="243.8" r="0.35" fill="#000" fill-opacity="0.35"/>
<circle cx="297.4" cy="237.2" r="0.35" fill="#000" fill-opacity="0.35"/>
<circle cx="312.4" cy="230.8" r="0.35" fill="#000" fill-opacity="0.35"/>
<circle cx="302.3" cy="228.9" r="0.35" fill="#000" fill-opacity="0.35"/>
<circle cx="302.1" cy="230.6" r="0.35" fill="#000" fill-opacity="0.35"/>
<circle cx="302.3" cy="242.4" r="0.35" fill="#000" fill-opacity="0.35"/>
<circle cx="313.2" cy="234.9" r="0.35" fill="#000" fill-opacity="0.35"/>
<circle cx="303.3" cy="241.1" r="0.35" fill="#000" fill-opacity="0.35"/>
<circle cx="299.2" cy="224.6" r="0.35" fill="#000" fill-opacity="0.35"/>
<circle cx="310.9" cy="225.6" r="0.35" fill="#000" fill-opacity="0.35"/>
<circle cx="309.4" cy="225.4" r="0.35" fill="#000" fill-opacity="0.35"/>
<circle cx="316.9" cy="224.7" r="0.35" fill="#000" fill-opacity="0.35"/>
<circle cx="308.7" cy="246.7" r="0.35" fill="#000" fill-opacity="0.35"/>
<circle cx="307.6" cy="239.8" r="0.35" fill="#000" fill-opacity="0.35"/>
<circle cx="299.9" cy="211.9" r="0.35" fill="#000" fill-opacity="0.35"/>
<circle cx="301.1" cy="231.1" r="0.35" fill="#000" fill-opacity="0.35"/>
<circle cx="298.4" cy="231.2" r="0.35" fill="#000" fill-opacity="0.35"/>
<circle cx="298.6" cy="227.5" r="0.35" fill="#000" fill-opacity="0.35"/>
<circle cx="304.9" cy="242.9" r="0.35" fill="#000" fill-opacity="0.35"/>
<circle cx="307.6" cy="223.6" r="0.35" fill="#000" fill-opacity="0.35"/>
<circle cx="303.0" cy="234.9" r="0.35" fill="#000" fill-opacity="0.35"/>
<circle cx="313.6" cy="244.0" r="0.35" fill="#000" fill-opacity="0.35"/>
<circle cx="306.0" cy="244.2" r="0.35" fill="#000" fill-opacity="0.35"/>
<circle cx="298.0" cy="237.1" r="0.35" fill="#000" fill-opacity="0.35"/>
<circle cx="309.3" cy="225.8" r="0.35" fill="#000" fill-opacity="0.35"/>
<circle cx="295.7" cy="218.5" r="0.35" fill="#000" fill-opacity="0.35"/>
<circle cx="303.0" cy="233.2" r="0.35" fill="#000" fill-opacity="0.35"/>
<rect x="294.3" y="230.5" width="14.7" height="12.4" rx="4.5" fill="#000" filter="url(#bb)"/>
<circle cx="304.4" cy="211.9" r="0.35" fill="#000" fill-opacity="0.3"/>
<circle cx="299.2" cy="210.4" r="0.35" fill="#000" fill-opacity="0.3"/>
<circle cx="305.6" cy="209.7" r="0.35" fill="#000" fill-opacity="0.3"/>
<circle cx="307.6" cy="215.5" r="0.35" fill="#000" fill-opacity="0.3"/>
<circle cx="304.0" cy="207.8" r="0.35" fill="#000" fill-opacity="0.3"/>
<circle cx="303.6" cy="210.8" r="0.35" fill="#000" fill-opacity="0.3"/>
<circle cx="307.0" cy="208.0" r="0.35" fill="#000" fill-opacity="0.3"/>
<circle cx="308.2" cy="207.5" r="0.35" fill="#000" fill-opacity="0.3"/>
<circle cx="307.7" cy="211.7" r="0.35" fill="#000" fill-opacity="0.3"/>
<circle cx="306.6" cy="216.7" r="0.35" fill="#000" fill-opacity="0.3"/>
<circle cx="304.5" cy="210.0" r="0.35" fill="#000" fill-opacity="0.3"/>
<circle cx="306.7" cy="213.0" r="0.35" fill="#000" fill-opacity="0.3"/>
<circle cx="301.4" cy="211.3" r="0.35" fill="#000" fill-opacity="0.3"/>
<circle cx="303.2" cy="212.3" r="0.35" fill="#000" fill-opacity="0.3"/>
<circle cx="309.2" cy="210.6" r="0.35" fill="#000" fill-opacity="0.3"/>
<circle cx="305.0" cy="211.0" r="0.35" fill="#000" fill-opacity="0.3"/>
<circle cx="296.8" cy="212.7" r="0.35" fill="#000" fill-opacity="0.3"/>
<circle cx="306.9" cy="211.0" r="0.35" fill="#000" fill-opacity="0.3"/>
<circle cx="304.2" cy="208.4" r="0.35" fill="#000" fill-opacity="0.3"/>
<circle cx="304.8" cy="214.0" r="0.35" fill="#000" fill-opacity="0.3"/>
<circle cx="305.0" cy="214.4" r="0.35" fill="#000" fill-opacity="0.3"/>
<circle cx="297.9" cy="209.2" r="0.35" fill="#000" fill-opacity="0.3"/>
<circle cx="306.1" cy="210.5" r="0.35" fill="#000" fill-opacity="0.3"/>
<circle cx="300.5" cy="208.6" r="0.35" fill="#000" fill-opacity="0.3"/>
<circle cx="308.9" cy="206.8" r="0.35" fill="#000" fill-opacity="0.3"/>
<circle cx="302.4" cy="207.3" r="0.35" fill="#000" fill-opacity="0.3"/>
<circle cx="303.7" cy="212.4" r="0.35" fill="#000" fill-opacity="0.3"/>
<circle cx="307.0" cy="204.7" r="0.35" fill="#000" fill-opacity="0.3"/>
<circle cx="309.5" cy="208.8" r="0.35" fill="#000" fill-opacity="0.3"/>
<circle cx="303.6" cy="215.3" r="0.35" fill="#000" fill-opacity="0.3"/>
<circle cx="305.1" cy="206.9" r="0.35" fill="#000" fill-opacity="0.3"/>
<circle cx="303.5" cy="208.4" r="0.35" fill="#000" fill-opacity="0.3"/>
<circle cx="302.4" cy="209.5" r="0.35" fill="#000" fill-opacity="0.3"/>
<circle cx="307.8" cy="211.5" r="0.35" fill="#000" fill-opacity="0.3"/>
<circle cx="301.3" cy="218.5" r="0.35" fill="#000" fill-opacity="0.3"/>
<circle cx="302.4" cy="210.8" r="0.35" fill="#000" fill-opacity="0.3"/>
<circle cx="305.4" cy="212.7" r="0.35" fill="#000" fill-opacity="0.3"/>
<circle cx="304.4" cy="211.8" r="0.35" fill="#000" fill-opacity="0.3"/>
<circle cx="311.4" cy="210.8" r="0.35" fill="#000" fill-opacity="0.3"/>
<circle cx="302.2" cy="211.4" r="0.35" fill="#000" fill-opacity="0.3"/>
<circle cx="303.0" cy="209.4" r="0.35" fill="#000" fill-opacity="0.3"/>
<circle cx="305.8" cy="211.5" r="0.35" fill="#000" fill-opacity="0.3"/>
<circle cx="304.5" cy="212.9" r="0.35" fill="#000" fill-opacity="0.3"/>
<circle cx="304.7" cy="206.7" r="0.35" fill="#000" fill-opacity="0.3"/>
<circle cx="307.8" cy="209.5" r="0.35" fill="#000" fill-opacity="0.3"/>
<circle cx="332.4" cy="231.7" r="0.35" fill="#000" fill-opacity="0.3"/>
<circle cx="328.7" cy="235.9" r="0.35" fill="#000" fill-opacity="0.3"/>
<circle cx="309.9" cy="228.0" r="0.35" fill="#000" fill-opacity="0.3"/>
<circle cx="319.0" cy="240.6" r="0.35" fill="#000" fill-opacity="0.3"/>
<circle cx="314.5" cy="238.4" r="0.35" fill="#000" fill-opacity="0.3"/>
<circle cx="331.7" cy="236.6" r="0.35" fill="#000" fill-opacity="0.3"/>
<circle cx="329.3" cy="232.4" r="0.35" fill="#000" fill-opacity="0.3"/>
<circle cx="325.3" cy="235.5" r="0.35" fill="#000" fill-opacity="0.3"/>
<circle cx="327.8" cy="237.6" r="0.35" fill="#000" fill-opacity="0.3"/>
<circle cx="324.2" cy="231.5" r="0.35" fill="#000" fill-opacity="0.3"/>
<circle cx="322.2" cy="236.3" r="0.35" fill="#000" fill-opacity="0.3"/>
<circle cx="315.8" cy="229.1" r="0.35" fill="#000" fill-opacity="0.3"/>
<circle cx="323.0" cy="232.1" r="0.35" fill="#000" fill-opacity="0.3"/>
<circle cx="323.8" cy="223.0" r="0.35" fill="#000" fill-opacity="0.3"/>
<circle cx="323.4" cy="233.4" r="0.35" fill="#000" fill-opacity="0.3"/>
<circle cx="329.9" cy="225.9" r="0.35" fill="#000" fill-opacity="0.3"/>
<circle cx="323.6" cy="236.6" r="0.35" fill="#000" fill-opacity="0.3"/>
<circle cx="328.2" cy="239.7" r="0.35" fill="#000" fill-opacity="0.3"/>
<circle cx="331.5" cy="230.0" r="0.35" fill="#000" fill-opacity="0.3"/>
<circle cx="329.1" cy="233.1" r="0.35" fill="#000" fill-opacity="0.3"/>
<circle cx="320.8" cy="241.1" r="0.35" fill="#000" fill-opacity="0.3"/>
<circle cx="321.8" cy="230.8" r="0.35" fill="#000" fill-opacity="0.3"/>
<circle cx="323.0" cy="230.8" r="0.35" fill="#000" fill-opacity="0.3"/>
<circle cx="331.2" cy="236.1" r="0.35" fill="#000" fill-opacity="0.3"/>
<circle cx="333.5" cy="236.3" r="0.35" fill="#000" fill-opacity="0.3"/>
<circle cx="321.9" cy="239.0" r="0.35" fill="#000" fill-opacity="0.3"/>
<circle cx="321.6" cy="232.5" r="0.35" fill="#000" fill-opacity="0.3"/>
<circle cx="324.4" cy="234.7" r="0.35" fill="#000" fill-opacity="0.3"/>
<circle cx="332.3" cy="231.9" r="0.35" fill="#000" fill-opacity="0.3"/>
<circle cx="327.4" cy="234.4" r="0.35" fill="#000" fill-opacity="0.3"/>
<circle cx="318.1" cy="229.8" r="0.35" fill="#000" fill-opacity="0.3"/>
<circle cx="324.1" cy="236.3" r="0.35" fill="#000" fill-opacity="0.3"/>
<circle cx="327.3" cy="236.6" r="0.35" fill="#000" fill-opacity="0.3"/>
<circle cx="325.7" cy="232.6" r="0.35" fill="#000" fill-opacity="0.3"/>
<circle cx="327.9" cy="230.2" r="0.35" fill="#000" fill-opacity="0.3"/>
<circle cx="317.6" cy="233.1" r="0.35" fill="#000" fill-opacity="0.3"/>
<circle cx="317.1" cy="232.3" r="0.35" fill="#000" fill-opacity="0.3"/>
<circle cx="321.1" cy="232.1" r="0.35" fill="#000" fill-opacity="0.3"/>
<circle cx="325.1" cy="231.0" r="0.35" fill="#000" fill-opacity="0.3"/>
<circle cx="323.0" cy="227.1" r="0.35" fill="#000" fill-opacity="0.3"/>
<circle cx="326.2" cy="230.7" r="0.35" fill="#000" fill-opacity="0.3"/>
<circle cx="327.7" cy="222.2" r="0.35" fill="#000" fill-opacity="0.3"/>
<circle cx="320.8" cy="235.6" r="0.35" fill="#000" fill-opacity="0.3"/>
<circle cx="311.3" cy="232.9" r="0.35" fill="#000" fill-opacity="0.3"/>
<circle cx="325.9" cy="234.9" r="0.35" fill="#000" fill-opacity="0.3"/>
<circle cx="316.7" cy="235.5" r="0.35" fill="#000" fill-opacity="0.3"/>
<circle cx="326.3" cy="230.3" r="0.35" fill="#000" fill-opacity="0.3"/>
<circle cx="329.7" cy="234.3" r="0.35" fill="#000" fill-opacity="0.3"/>
<circle cx="325.5" cy="232.5" r="0.35" fill="#000" fill-opacity="0.3"/>
<circle cx="328.6" cy="234.9" r="0.35" fill="#000" fill-opacity="0.3"/>
<circle cx="332.0" cy="236.5" r="0.35" fill="#000" fill-opacity="0.3"/>
<circle cx="321.8" cy="233.5" r="0.35" fill="#000" fill-opacity="0.3"/>
<circle cx="330.7" cy="232.9" r="0.35" fill="#000" fill-opacity="0.3"/>
<circle cx="327.6" cy="236.8" r="0.35" fill="#000" fill-opacity="0.3"/>
<circle cx="324.4" cy="224.4" r="0.35" fill="#000" fill-opacity="0.3"/>
<circle cx="326.2" cy="235.4" r="0.35" fill="#000" fill-opacity="0.3"/>
<circle cx="326.2" cy="231.2" r="0.35" fill="#000" fill-opacity="0.3"/>
<circle cx="332.4" cy="233.9" r="0.35" fill="#000" fill-opacity="0.3"/>
<circle cx="321.8" cy="231.4" r="0.35" fill="#000" fill-opacity="0.3"/>
<circle cx="327.5" cy="229.8" r="0.35" fill="#000" fill-opacity="0.3"/>
<circle cx="319.6" cy="243.2" r="0.35" fill="#000" fill-opacity="0.3"/>
<circle cx="333.0" cy="239.1" r="0.35" fill="#000" fill-opacity="0.3"/>
<circle cx="333.3" cy="237.1" r="0.35" fill="#000" fill-opacity="0.3"/>
<circle cx="315.6" cy="239.7" r="0.35" fill="#000" fill-opacity="0.3"/>
<circle cx="332.6" cy="236.6" r="0.35" fill="#000" fill-opacity="0.3"/>
<circle cx="314.0" cy="239.9" r="0.35" fill="#000" fill-opacity="0.3"/>
<circle cx="333.3" cy="232.4" r="0.35" fill="#000" fill-opacity="0.3"/>
<circle cx="326.1" cy="237.9" r="0.35" fill="#000" fill-opacity="0.3"/>
<circle cx="324.9" cy="239.3" r="0.35" fill="#000" fill-opacity="0.3"/>
<circle cx="325.9" cy="237.5" r="0.35" fill="#000" fill-opacity="0.3"/>
<circle cx="325.9" cy="228.1" r="0.35" fill="#000" fill-opacity="0.3"/>
<circle cx="327.0" cy="240.2" r="0.35" fill="#000" fill-opacity="0.3"/>
<circle cx="332.0" cy="242.0" r="0.35" fill="#000" fill-opacity="0.3"/>
<circle cx="328.6" cy="231.9" r="0.35" fill="#000" fill-opacity="0.3"/>
<circle cx="325.5" cy="226.1" r="0.35" fill="#000" fill-opacity="0.3"/>
<circle cx="324.3" cy="238.5" r="0.35" fill="#000" fill-opacity="0.3"/>
<circle cx="312.8" cy="235.4" r="0.35" fill="#000" fill-opacity="0.3"/>
<circle cx="330.2" cy="240.3" r="0.35" fill="#000" fill-opacity="0.3"/>
<circle cx="320.0" cy="231.7" r="0.35" fill="#000" fill-opacity="0.3"/>
<circle cx="314.5" cy="230.1" r="0.35" fill="#000" fill-opacity="0.3"/>
<circle cx="328.5" cy="243.5" r="0.35" fill="#000" fill-opacity="0.3"/>
<circle cx="318.7" cy="240.5" r="0.35" fill="#000" fill-opacity="0.3"/>
<circle cx="327.9" cy="232.3" r="0.35" fill="#000" fill-opacity="0.3"/>
<circle cx="338.2" cy="223.5" r="0.35" fill="#000" fill-opacity="0.3"/>
<circle cx="325.0" cy="235.5" r="0.35" fill="#000" fill-opacity="0.3"/>
<circle cx="337.8" cy="242.4" r="0.35" fill="#000" fill-opacity="0.3"/>
<circle cx="338.6" cy="235.1" r="0.35" fill="#000" fill-opacity="0.3"/>
<circle cx="331.1" cy="240.5" r="0.35" fill="#000" fill-opacity="0.3"/>
<circle cx="328.4" cy="236.1" r="0.35" fill="#000" fill-opacity="0.3"/>
<circle cx="329.5" cy="208.0" r="0.35" fill="#000" fill-opacity="0.45"/>
<circle cx="327.0" cy="217.2" r="0.35" fill="#000" fill-opacity="0.45"/>
<circle cx="328.9" cy="201.5" r="0.35" fill="#000" fill-opacity="0.45"/>
<circle cx="330.5" cy="209.5" r="0.35" fill="#000" fill-opacity="0.45"/>
<circle cx="330.3" cy="216.7" r="0.35" fill="#000" fill-opacity="0.45"/>
<circle cx="329.7" cy="208.6" r="0.35" fill="#000" fill-opacity="0.45"/>
<circle cx="328.2" cy="209.5" r="0.35" fill="#000" fill-opacity="0.45"/>
<circle cx="328.9" cy="210.4" r="0.35" fill="#000" fill-opacity="0.45"/>
<circle cx="337.2" cy="211.1" r="0.35" fill="#000" fill-opacity="0.45"/>
<circle cx="327.9" cy="217.1" r="0.35" fill="#000" fill-opacity="0.45"/>
<circle cx="331.9" cy="212.8" r="0.35" fill="#000" fill-opacity="0.45"/>
<circle cx="331.6" cy="212.8" r="0.35" fill="#000" fill-opacity="0.45"/>
<circle cx="331.5" cy="215.1" r="0.35" fill="#000" fill-opacity="0.45"/>
<circle cx="332.3" cy="214.8" r="0.35" fill="#000" fill-opacity="0.45"/>
<circle cx="328.7" cy="209.6" r="0.35" fill="#000" fill-opacity="0.45"/>
<circle cx="328.2" cy="213.3" r="0.35" fill="#000" fill-opacity="0.45"/>
<circle cx="331.8" cy="207.8" r="0.35" fill="#000" fill-opacity="0.45"/>
<circle cx="331.3" cy="219.8" r="0.35" fill="#000" fill-opacity="0.45"/>
<circle cx="332.8" cy="205.3" r="0.35" fill="#000" fill-opacity="0.45"/>
<circle cx="329.7" cy="212.1" r="0.35" fill="#000" fill-opacity="0.45"/>
<circle cx="329.8" cy="211.1" r="0.35" fill="#000" fill-opacity="0.45"/>
<circle cx="332.7" cy="210.9" r="0.35" fill="#000" fill-opacity="0.45"/>
<circle cx="327.3" cy="212.4" r="0.35" fill="#000" fill-opacity="0.45"/>
<circle cx="329.7" cy="210.0" r="0.35" fill="#000" fill-opacity="0.45"/>
<circle cx="328.6" cy="204.2" r="0.35" fill="#000" fill-opacity="0.45"/>
<circle cx="327.0" cy="208.2" r="0.35" fill="#000" fill-opacity="0.45"/>
<circle cx="332.6" cy="205.1" r="0.35" fill="#000" fill-opacity="0.45"/>
<circle cx="328.2" cy="211.7" r="0.35" fill="#000" fill-opacity="0.45"/>
<circle cx="324.3" cy="214.8" r="0.35" fill="#000" fill-opacity="0.45"/>
<circle cx="328.1" cy="212.2" r="0.35" fill="#000" fill-opacity="0.45"/>
<circle cx="328.8" cy="210.8" r="0.35" fill="#000" fill-opacity="0.45"/>
<circle cx="330.1" cy="209.6" r="0.35" fill="#000" fill-opacity="0.45"/>
<circle cx="325.6" cy="203.9" r="0.35" fill="#000" fill-opacity="0.45"/>
<circle cx="329.8" cy="215.1" r="0.35" fill="#000" fill-opacity="0.45"/>
<circle cx="328.6" cy="211.7" r="0.35" fill="#000" fill-opacity="0.45"/>
<circle cx="330.3" cy="211.5" r="0.35" fill="#000" fill-opacity="0.45"/>
<circle cx="332.2" cy="203.8" r="0.35" fill="#000" fill-opacity="0.45"/>
<circle cx="330.5" cy="208.9" r="0.35" fill="#000" fill-opacity="0.45"/>
<circle cx="329.2" cy="206.3" r="0.35" fill="#000" fill-opacity="0.45"/>
<circle cx="328.1" cy="205.6" r="0.35" fill="#000" fill-opacity="0.45"/>
<circle cx="327.3" cy="219.4" r="0.35" fill="#000" fill-opacity="0.45"/>
<circle cx="333.9" cy="209.6" r="0.35" fill="#000" fill-opacity="0.45"/>
<circle cx="331.6" cy="205.8" r="0.35" fill="#000" fill-opacity="0.45"/>
<circle cx="323.4" cy="202.5" r="0.35" fill="#000" fill-opacity="0.45"/>
<circle cx="330.2" cy="215.2" r="0.35" fill="#000" fill-opacity="0.45"/>
<circle cx="329.8" cy="205.7" r="0.35" fill="#000" fill-opacity="0.45"/>
<circle cx="329.3" cy="205.7" r="0.35" fill="#000" fill-opacity="0.45"/>
<circle cx="326.6" cy="208.7" r="0.35" fill="#000" fill-opacity="0.45"/>
<circle cx="329.0" cy="206.4" r="0.35" fill="#000" fill-opacity="0.45"/>
<circle cx="327.8" cy="206.0" r="0.35" fill="#000" fill-opacity="0.45"/>
<circle cx="330.5" cy="215.0" r="0.35" fill="#000" fill-opacity="0.45"/>
<circle cx="329.4" cy="218.3" r="0.35" fill="#000" fill-opacity="0.45"/>
<circle cx="326.1" cy="210.7" r="0.35" fill="#000" fill-opacity="0.45"/>
<circle cx="327.2" cy="209.0" r="0.35" fill="#000" fill-opacity="0.45"/>
<circle cx="330.1" cy="211.8" r="0.35" fill="#000" fill-opacity="0.45"/>
<circle cx="332.5" cy="207.4" r="0.35" fill="#000" fill-opacity="0.45"/>
<circle cx="327.0" cy="208.9" r="0.35" fill="#000" fill-opacity="0.45"/>
<circle cx="330.6" cy="206.9" r="0.35" fill="#000" fill-opacity="0.45"/>
<circle cx="332.0" cy="216.2" r="0.35" fill="#000" fill-opacity="0.45"/>
<circle cx="326.6" cy="211.0" r="0.35" fill="#000" fill-opacity="0.45"/>
<circle cx="332.3" cy="202.1" r="0.35" fill="#000" fill-opacity="0.45"/>
<circle cx="330.4" cy="208.7" r="0.35" fill="#000" fill-opacity="0.45"/>
<circle cx="326.6" cy="214.7" r="0.35" fill="#000" fill-opacity="0.45"/>
<circle cx="330.4" cy="207.7" r="0.35" fill="#000" fill-opacity="0.45"/>
<circle cx="330.9" cy="212.1" r="0.35" fill="#000" fill-opacity="0.45"/>
<circle cx="331.7" cy="211.9" r="0.35" fill="#000" fill-opacity="0.45"/>
<circle cx="330.9" cy="205.0" r="0.35" fill="#000" fill-opacity="0.45"/>
<circle cx="328.9" cy="210.1" r="0.35" fill="#000" fill-opacity="0.45"/>
<circle cx="323.4" cy="217.9" r="0.35" fill="#000" fill-opacity="0.45"/>
<circle cx="329.0" cy="205.5" r="0.35" fill="#000" fill-opacity="0.45"/>
<circle cx="325.6" cy="210.6" r="0.35" fill="#000" fill-opacity="0.45"/>
<circle cx="330.0" cy="207.3" r="0.35" fill="#000" fill-opacity="0.45"/>
<circle cx="328.9" cy="206.1" r="0.35" fill="#000" fill-opacity="0.45"/>
<circle cx="328.1" cy="209.2" r="0.35" fill="#000" fill-opacity="0.45"/>
<circle cx="328.4" cy="212.2" r="0.35" fill="#000" fill-opacity="0.45"/>
<circle cx="329.6" cy="210.1" r="0.35" fill="#000" fill-opacity="0.45"/>
<circle cx="330.8" cy="214.6" r="0.35" fill="#000" fill-opacity="0.45"/>
<circle cx="331.3" cy="210.5" r="0.35" fill="#000" fill-opacity="0.45"/>
<circle cx="329.5" cy="206.5" r="0.35" fill="#000" fill-opacity="0.45"/>
<circle cx="329.1" cy="212.3" r="0.35" fill="#000" fill-opacity="0.45"/>
<circle cx="330.4" cy="208.1" r="0.35" fill="#000" fill-opacity="0.45"/>
<circle cx="326.8" cy="203.6" r="0.35" fill="#000" fill-opacity="0.45"/>
<circle cx="330.7" cy="213.6" r="0.35" fill="#000" fill-opacity="0.45"/>
<circle cx="330.8" cy="204.2" r="0.35" fill="#000" fill-opacity="0.45"/>
<circle cx="329.4" cy="210.5" r="0.35" fill="#000" fill-opacity="0.45"/>
<circle cx="327.8" cy="211.0" r="0.35" fill="#000" fill-opacity="0.45"/>
<circle cx="329.4" cy="206.3" r="0.35" fill="#000" fill-opacity="0.45"/>
<circle cx="327.0" cy="212.8" r="0.35" fill="#000" fill-opacity="0.45"/>
<circle cx="330.7" cy="206.1" r="0.35" fill="#000" fill-opacity="0.45"/>
<circle cx="327.5" cy="213.1" r="0.35" fill="#000" fill-opacity="0.45"/>
<circle cx="331.3" cy="208.4" r="0.35" fill="#000" fill-opacity="0.45"/>
<circle cx="333.6" cy="208.5" r="0.35" fill="#000" fill-opacity="0.45"/>
<circle cx="327.4" cy="213.9" r="0.35" fill="#000" fill-opacity="0.45"/>
<circle cx="329.5" cy="210.9" r="0.35" fill="#000" fill-opacity="0.45"/>
<circle cx="330.0" cy="205.7" r="0.35" fill="#000" fill-opacity="0.45"/>
<circle cx="327.1" cy="208.8" r="0.35" fill="#000" fill-opacity="0.45"/>
<circle cx="333.2" cy="205.7" r="0.35" fill="#000" fill-opacity="0.45"/>
<circle cx="333.1" cy="210.5" r="0.35" fill="#000" fill-opacity="0.45"/>
<circle cx="327.3" cy="210.6" r="0.35" fill="#000" fill-opacity="0.45"/>
<circle cx="331.2" cy="206.1" r="0.35" fill="#000" fill-opacity="0.45"/>
<circle cx="324.9" cy="211.0" r="0.35" fill="#000" fill-opacity="0.45"/>
<circle cx="327.3" cy="211.3" r="0.35" fill="#000" fill-opacity="0.45"/>
<circle cx="325.4" cy="209.0" r="0.35" fill="#000" fill-opacity="0.45"/>
<circle cx="328.0" cy="203.8" r="0.35" fill="#000" fill-opacity="0.45"/>
<circle cx="329.3" cy="210.3" r="0.35" fill="#000" fill-opacity="0.45"/>
<circle cx="328.6" cy="205.0" r="0.35" fill="#000" fill-opacity="0.45"/>
<circle cx="330.4" cy="202.8" r="0.35" fill="#000" fill-opacity="0.45"/>
<circle cx="331.1" cy="211.5" r="0.35" fill="#000" fill-opacity="0.45"/>
<circle cx="333.8" cy="213.0" r="0.35" fill="#000" fill-opacity="0.45"/>
<circle cx="330.7" cy="210.6" r="0.35" fill="#000" fill-opacity="0.45"/>
<circle cx="330.0" cy="204.4" r="0.35" fill="#000" fill-opacity="0.45"/>
<circle cx="333.3" cy="211.6" r="0.35" fill="#000" fill-opacity="0.45"/>
<circle cx="329.2" cy="205.1" r="0.35" fill="#000" fill-opacity="0.45"/>
<circle cx="333.4" cy="211.7" r="0.35" fill="#000" fill-opacity="0.45"/>
<circle cx="327.1" cy="212.2" r="0.35" fill="#000" fill-opacity="0.45"/>
<circle cx="334.3" cy="209.5" r="0.35" fill="#000" fill-opacity="0.45"/>
<circle cx="330.8" cy="208.0" r="0.35" fill="#000" fill-opacity="0.45"/>
<circle cx="328.4" cy="213.8" r="0.35" fill="#000" fill-opacity="0.45"/>
<circle cx="337.1" cy="210.1" r="0.35" fill="#000" fill-opacity="0.45"/>
<circle cx="329.6" cy="212.7" r="0.35" fill="#000" fill-opacity="0.45"/>
<circle cx="329.2" cy="212.4" r="0.35" fill="#000" fill-opacity="0.45"/>
<circle cx="331.8" cy="205.7" r="0.35" fill="#000" fill-opacity="0.45"/>
<circle cx="327.4" cy="209.3" r="0.35" fill="#000" fill-opacity="0.45"/>
<circle cx="331.8" cy="210.7" r="0.35" fill="#000" fill-opacity="0.45"/>
<circle cx="332.8" cy="204.3" r="0.35" fill="#000" fill-opacity="0.45"/>
<circle cx="331.0" cy="207.2" r="0.35" fill="#000" fill-opacity="0.45"/>
<circle cx="330.1" cy="210.8" r="0.35" fill="#000" fill-opacity="0.45"/>
<circle cx="327.6" cy="208.7" r="0.35" fill="#000" fill-opacity="0.45"/>
<circle cx="327.2" cy="210.6" r="0.35" fill="#000" fill-opacity="0.45"/>
<circle cx="327.9" cy="207.7" r="0.35" fill="#000" fill-opacity="0.45"/>
<circle cx="330.4" cy="207.1" r="0.35" fill="#000" fill-opacity="0.45"/>
<circle cx="332.6" cy="207.1" r="0.35" fill="#000" fill-opacity="0.45"/>
<circle cx="331.9" cy="210.7" r="0.35" fill="#000" fill-opacity="0.45"/>
<circle cx="327.5" cy="208.8" r="0.35" fill="#000" fill-opacity="0.45"/>
<circle cx="328.0" cy="208.2" r="0.35" fill="#000" fill-opacity="0.45"/>
<circle cx="329.3" cy="216.7" r="0.35" fill="#000" fill-opacity="0.45"/>
<circle cx="328.9" cy="215.7" r="0.35" fill="#000" fill-opacity="0.45"/>
<circle cx="330.9" cy="204.5" r="0.35" fill="#000" fill-opacity="0.45"/>
<circle cx="324.5" cy="212.2" r="0.35" fill="#000" fill-opacity="0.45"/>
<circle cx="325.3" cy="212.4" r="0.35" fill="#000" fill-opacity="0.45"/>
<circle cx="332.3" cy="211.1" r="0.35" fill="#000" fill-opacity="0.45"/>
<circle cx="329.4" cy="208.6" r="0.35" fill="#000" fill-opacity="0.45"/>
<circle cx="330.5" cy="208.4" r="0.35" fill="#000" fill-opacity="0.45"/>
<circle cx="328.7" cy="208.2" r="0.35" fill="#000" fill-opacity="0.45"/>
<circle cx="332.6" cy="207.2" r="0.35" fill="#000" fill-opacity="0.45"/>
<circle cx="330.8" cy="205.1" r="0.35" fill="#000" fill-opacity="0.45"/>
<circle cx="328.2" cy="204.3" r="0.35" fill="#000" fill-opacity="0.45"/>
<circle cx="329.4" cy="212.2" r="0.35" fill="#000" fill-opacity="0.45"/>
<circle cx="330.6" cy="207.7" r="0.35" fill="#000" fill-opacity="0.45"/>
<ellipse cx="329.9" cy="208.6" rx="5" ry="6.6" fill="url(#soft)" filter="url(#mo)"/>
</g>
<rect x="295.2" y="199.4" width="47.5" height="48.0" fill="none" stroke="#555" stroke-width="0.55"/>
<line x1="315.4" y1="199.4" x2="315.4" y2="247.4" stroke="#666" stroke-width="0.5"/>
<line x1="295.2" y1="223.3" x2="342.7" y2="223.3" stroke="#666" stroke-width="0.5"/>
<rect x="320.6" y="201.4" width="15.0" height="17.299999999999983" fill="none" stroke="#444" stroke-width="0.55"/>
<text x="321.3" y="178.6" font-size="7.8" text-anchor="middle" font-weight="normal" font-style="italic" fill="#111">Adam10/Mx1</text>
<line x1="321.25" y1="180.8" x2="321.25" y2="187.6" stroke="#333" stroke-width="0.5"/>
<polyline points="320.15,186.2 321.25,187.6 322.35,186.2" fill="none" stroke="#333" stroke-width="0.5"/>
<text x="321.3" y="195.9" font-size="7.8" text-anchor="middle" font-weight="normal" font-style="italic" fill="#111">Control</text>
<clipPath id="cp3"><rect x="347.4" y="199.4" width="47.80000000000001" height="48.0"/></clipPath>
<g clip-path="url(#cp3)">
<circle cx="358.9" cy="237.0" r="0.35" fill="#000" fill-opacity="0.5"/>
<circle cx="357.6" cy="239.9" r="0.35" fill="#000" fill-opacity="0.5"/>
<circle cx="358.5" cy="227.1" r="0.35" fill="#000" fill-opacity="0.5"/>
<circle cx="348.7" cy="242.2" r="0.35" fill="#000" fill-opacity="0.5"/>
<circle cx="354.3" cy="236.0" r="0.35" fill="#000" fill-opacity="0.5"/>
<circle cx="363.6" cy="241.2" r="0.35" fill="#000" fill-opacity="0.5"/>
<circle cx="365.7" cy="241.0" r="0.35" fill="#000" fill-opacity="0.5"/>
<circle cx="354.5" cy="242.0" r="0.35" fill="#000" fill-opacity="0.5"/>
<circle cx="351.4" cy="236.5" r="0.35" fill="#000" fill-opacity="0.5"/>
<circle cx="352.6" cy="237.6" r="0.35" fill="#000" fill-opacity="0.5"/>
<circle cx="359.7" cy="236.4" r="0.35" fill="#000" fill-opacity="0.5"/>
<circle cx="357.3" cy="236.3" r="0.35" fill="#000" fill-opacity="0.5"/>
<circle cx="360.3" cy="225.8" r="0.35" fill="#000" fill-opacity="0.5"/>
<circle cx="354.5" cy="239.4" r="0.35" fill="#000" fill-opacity="0.5"/>
<circle cx="349.9" cy="243.3" r="0.35" fill="#000" fill-opacity="0.5"/>
<circle cx="356.8" cy="244.5" r="0.35" fill="#000" fill-opacity="0.5"/>
<circle cx="360.7" cy="241.6" r="0.35" fill="#000" fill-opacity="0.5"/>
<circle cx="354.8" cy="233.6" r="0.35" fill="#000" fill-opacity="0.5"/>
<circle cx="354.4" cy="236.5" r="0.35" fill="#000" fill-opacity="0.5"/>
<circle cx="356.9" cy="236.4" r="0.35" fill="#000" fill-opacity="0.5"/>
<circle cx="371.8" cy="231.2" r="0.35" fill="#000" fill-opacity="0.5"/>
<circle cx="361.8" cy="236.4" r="0.35" fill="#000" fill-opacity="0.5"/>
<circle cx="354.3" cy="242.9" r="0.35" fill="#000" fill-opacity="0.5"/>
<circle cx="355.6" cy="233.0" r="0.35" fill="#000" fill-opacity="0.5"/>
<circle cx="357.8" cy="237.7" r="0.35" fill="#000" fill-opacity="0.5"/>
<circle cx="350.0" cy="235.1" r="0.35" fill="#000" fill-opacity="0.5"/>
<circle cx="358.2" cy="240.0" r="0.35" fill="#000" fill-opacity="0.5"/>
<circle cx="357.8" cy="235.8" r="0.35" fill="#000" fill-opacity="0.5"/>
<circle cx="356.9" cy="238.0" r="0.35" fill="#000" fill-opacity="0.5"/>
<circle cx="354.6" cy="237.3" r="0.35" fill="#000" fill-opacity="0.5"/>
<circle cx="352.6" cy="243.1" r="0.35" fill="#000" fill-opacity="0.5"/>
<circle cx="355.7" cy="246.5" r="0.35" fill="#000" fill-opacity="0.5"/>
<circle cx="359.8" cy="246.2" r="0.35" fill="#000" fill-opacity="0.5"/>
<circle cx="355.0" cy="240.3" r="0.35" fill="#000" fill-opacity="0.5"/>
<circle cx="353.3" cy="237.8" r="0.35" fill="#000" fill-opacity="0.5"/>
<circle cx="350.6" cy="235.6" r="0.35" fill="#000" fill-opacity="0.5"/>
<circle cx="362.1" cy="239.8" r="0.35" fill="#000" fill-opacity="0.5"/>
<circle cx="362.1" cy="242.6" r="0.35" fill="#000" fill-opacity="0.5"/>
<circle cx="360.5" cy="243.2" r="0.35" fill="#000" fill-opacity="0.5"/>
<circle cx="352.4" cy="242.3" r="0.35" fill="#000" fill-opacity="0.5"/>
<circle cx="353.9" cy="236.1" r="0.35" fill="#000" fill-opacity="0.5"/>
<circle cx="350.4" cy="246.6" r="0.35" fill="#000" fill-opacity="0.5"/>
<circle cx="360.0" cy="234.7" r="0.35" fill="#000" fill-opacity="0.5"/>
<circle cx="357.0" cy="240.3" r="0.35" fill="#000" fill-opacity="0.5"/>
<circle cx="357.6" cy="237.0" r="0.35" fill="#000" fill-opacity="0.5"/>
<circle cx="348.8" cy="238.7" r="0.35" fill="#000" fill-opacity="0.5"/>
<circle cx="360.2" cy="242.2" r="0.35" fill="#000" fill-opacity="0.5"/>
<circle cx="359.1" cy="243.7" r="0.35" fill="#000" fill-opacity="0.5"/>
<circle cx="350.3" cy="238.4" r="0.35" fill="#000" fill-opacity="0.5"/>
<circle cx="357.4" cy="243.2" r="0.35" fill="#000" fill-opacity="0.5"/>
<circle cx="356.4" cy="241.0" r="0.35" fill="#000" fill-opacity="0.5"/>
<circle cx="368.7" cy="239.7" r="0.35" fill="#000" fill-opacity="0.5"/>
<circle cx="348.0" cy="235.5" r="0.35" fill="#000" fill-opacity="0.5"/>
<circle cx="356.8" cy="246.5" r="0.35" fill="#000" fill-opacity="0.5"/>
<circle cx="358.1" cy="241.7" r="0.35" fill="#000" fill-opacity="0.5"/>
<circle cx="361.0" cy="239.5" r="0.35" fill="#000" fill-opacity="0.5"/>
<circle cx="351.1" cy="238.1" r="0.35" fill="#000" fill-opacity="0.5"/>
<circle cx="357.4" cy="237.3" r="0.35" fill="#000" fill-opacity="0.5"/>
<circle cx="352.1" cy="236.9" r="0.35" fill="#000" fill-opacity="0.5"/>
<circle cx="355.1" cy="236.9" r="0.35" fill="#000" fill-opacity="0.5"/>
<circle cx="355.8" cy="245.1" r="0.35" fill="#000" fill-opacity="0.5"/>
<circle cx="357.2" cy="238.5" r="0.35" fill="#000" fill-opacity="0.5"/>
<circle cx="349.4" cy="233.6" r="0.35" fill="#000" fill-opacity="0.5"/>
<circle cx="357.6" cy="234.6" r="0.35" fill="#000" fill-opacity="0.5"/>
<circle cx="357.9" cy="233.6" r="0.35" fill="#000" fill-opacity="0.5"/>
<circle cx="356.3" cy="238.3" r="0.35" fill="#000" fill-opacity="0.5"/>
<circle cx="360.9" cy="236.8" r="0.35" fill="#000" fill-opacity="0.5"/>
<circle cx="353.6" cy="239.7" r="0.35" fill="#000" fill-opacity="0.5"/>
<circle cx="355.9" cy="246.4" r="0.35" fill="#000" fill-opacity="0.5"/>
<circle cx="354.2" cy="236.1" r="0.35" fill="#000" fill-opacity="0.5"/>
<circle cx="353.9" cy="240.8" r="0.35" fill="#000" fill-opacity="0.5"/>
<circle cx="356.8" cy="241.8" r="0.35" fill="#000" fill-opacity="0.5"/>
<circle cx="365.3" cy="238.5" r="0.35" fill="#000" fill-opacity="0.5"/>
<circle cx="349.2" cy="239.3" r="0.35" fill="#000" fill-opacity="0.5"/>
<circle cx="357.8" cy="228.3" r="0.35" fill="#000" fill-opacity="0.5"/>
<circle cx="355.7" cy="231.8" r="0.35" fill="#000" fill-opacity="0.5"/>
<circle cx="358.0" cy="245.0" r="0.35" fill="#000" fill-opacity="0.5"/>
<circle cx="361.1" cy="231.6" r="0.35" fill="#000" fill-opacity="0.5"/>
<circle cx="362.9" cy="242.8" r="0.35" fill="#000" fill-opacity="0.5"/>
<circle cx="353.7" cy="240.9" r="0.35" fill="#000" fill-opacity="0.5"/>
<circle cx="363.6" cy="237.1" r="0.35" fill="#000" fill-opacity="0.5"/>
<circle cx="355.5" cy="236.0" r="0.35" fill="#000" fill-opacity="0.5"/>
<circle cx="361.7" cy="228.7" r="0.35" fill="#000" fill-opacity="0.5"/>
<circle cx="363.1" cy="234.1" r="0.35" fill="#000" fill-opacity="0.5"/>
<circle cx="360.5" cy="231.1" r="0.35" fill="#000" fill-opacity="0.5"/>
<circle cx="350.6" cy="235.8" r="0.35" fill="#000" fill-opacity="0.5"/>
<circle cx="360.0" cy="231.1" r="0.35" fill="#000" fill-opacity="0.5"/>
<circle cx="358.8" cy="235.7" r="0.35" fill="#000" fill-opacity="0.5"/>
<circle cx="362.2" cy="237.2" r="0.35" fill="#000" fill-opacity="0.5"/>
<circle cx="358.2" cy="237.8" r="0.35" fill="#000" fill-opacity="0.5"/>
<circle cx="365.1" cy="236.9" r="0.35" fill="#000" fill-opacity="0.5"/>
<circle cx="356.0" cy="241.8" r="0.35" fill="#000" fill-opacity="0.5"/>
<circle cx="351.7" cy="239.5" r="0.35" fill="#000" fill-opacity="0.5"/>
<circle cx="352.2" cy="231.7" r="0.35" fill="#000" fill-opacity="0.5"/>
<circle cx="348.1" cy="243.9" r="0.35" fill="#000" fill-opacity="0.5"/>
<circle cx="357.9" cy="231.6" r="0.35" fill="#000" fill-opacity="0.5"/>
<circle cx="365.2" cy="235.4" r="0.35" fill="#000" fill-opacity="0.5"/>
<circle cx="353.6" cy="239.7" r="0.35" fill="#000" fill-opacity="0.5"/>
<circle cx="349.6" cy="231.1" r="0.35" fill="#000" fill-opacity="0.5"/>
<circle cx="351.7" cy="244.1" r="0.35" fill="#000" fill-opacity="0.5"/>
<circle cx="360.6" cy="231.3" r="0.35" fill="#000" fill-opacity="0.5"/>
<circle cx="362.0" cy="238.8" r="0.35" fill="#000" fill-opacity="0.5"/>
<circle cx="358.2" cy="238.8" r="0.35" fill="#000" fill-opacity="0.5"/>
<circle cx="357.8" cy="234.0" r="0.35" fill="#000" fill-opacity="0.5"/>
<circle cx="350.8" cy="235.4" r="0.35" fill="#000" fill-opacity="0.5"/>
<circle cx="353.7" cy="241.5" r="0.35" fill="#000" fill-opacity="0.5"/>
<circle cx="349.2" cy="246.0" r="0.35" fill="#000" fill-opacity="0.5"/>
<circle cx="352.3" cy="235.9" r="0.35" fill="#000" fill-opacity="0.5"/>
<circle cx="359.3" cy="240.6" r="0.35" fill="#000" fill-opacity="0.5"/>
<circle cx="353.8" cy="233.7" r="0.35" fill="#000" fill-opacity="0.5"/>
<circle cx="350.3" cy="231.2" r="0.35" fill="#000" fill-opacity="0.5"/>
<circle cx="361.7" cy="243.6" r="0.35" fill="#000" fill-opacity="0.5"/>
<circle cx="365.5" cy="240.9" r="0.35" fill="#000" fill-opacity="0.5"/>
<circle cx="357.4" cy="242.1" r="0.35" fill="#000" fill-opacity="0.5"/>
<circle cx="360.6" cy="237.4" r="0.35" fill="#000" fill-opacity="0.5"/>
<circle cx="350.5" cy="242.1" r="0.35" fill="#000" fill-opacity="0.5"/>
<circle cx="361.9" cy="237.0" r="0.35" fill="#000" fill-opacity="0.5"/>
<circle cx="359.2" cy="238.4" r="0.35" fill="#000" fill-opacity="0.5"/>
<circle cx="357.2" cy="236.1" r="0.35" fill="#000" fill-opacity="0.5"/>
<circle cx="355.5" cy="238.6" r="0.35" fill="#000" fill-opacity="0.5"/>
<circle cx="355.6" cy="243.1" r="0.35" fill="#000" fill-opacity="0.5"/>
<circle cx="361.2" cy="242.2" r="0.35" fill="#000" fill-opacity="0.5"/>
<circle cx="359.9" cy="234.2" r="0.35" fill="#000" fill-opacity="0.5"/>
<circle cx="362.0" cy="234.2" r="0.35" fill="#000" fill-opacity="0.5"/>
<circle cx="362.4" cy="241.7" r="0.35" fill="#000" fill-opacity="0.5"/>
<circle cx="350.4" cy="244.0" r="0.35" fill="#000" fill-opacity="0.5"/>
<circle cx="352.0" cy="235.2" r="0.35" fill="#000" fill-opacity="0.5"/>
<circle cx="361.0" cy="235.5" r="0.35" fill="#000" fill-opacity="0.5"/>
<circle cx="365.4" cy="241.8" r="0.35" fill="#000" fill-opacity="0.5"/>
<circle cx="352.8" cy="233.0" r="0.35" fill="#000" fill-opacity="0.5"/>
<circle cx="362.5" cy="233.7" r="0.35" fill="#000" fill-opacity="0.5"/>
<circle cx="355.6" cy="237.3" r="0.35" fill="#000" fill-opacity="0.5"/>
<circle cx="354.2" cy="240.9" r="0.35" fill="#000" fill-opacity="0.5"/>
<circle cx="366.7" cy="235.7" r="0.35" fill="#000" fill-opacity="0.5"/>
<circle cx="360.1" cy="243.6" r="0.35" fill="#000" fill-opacity="0.5"/>
<circle cx="354.1" cy="237.9" r="0.35" fill="#000" fill-opacity="0.5"/>
<circle cx="348.5" cy="243.6" r="0.35" fill="#000" fill-opacity="0.5"/>
<circle cx="352.8" cy="235.6" r="0.35" fill="#000" fill-opacity="0.5"/>
<circle cx="356.0" cy="234.6" r="0.35" fill="#000" fill-opacity="0.5"/>
<circle cx="350.1" cy="237.2" r="0.35" fill="#000" fill-opacity="0.5"/>
<circle cx="363.5" cy="237.6" r="0.35" fill="#000" fill-opacity="0.5"/>
<circle cx="358.4" cy="231.8" r="0.35" fill="#000" fill-opacity="0.5"/>
<circle cx="353.5" cy="231.5" r="0.35" fill="#000" fill-opacity="0.5"/>
<circle cx="355.0" cy="241.4" r="0.35" fill="#000" fill-opacity="0.5"/>
<circle cx="357.0" cy="234.3" r="0.35" fill="#000" fill-opacity="0.5"/>
<circle cx="359.8" cy="243.1" r="0.35" fill="#000" fill-opacity="0.5"/>
<circle cx="357.9" cy="236.6" r="0.35" fill="#000" fill-opacity="0.5"/>
<circle cx="355.4" cy="235.7" r="0.35" fill="#000" fill-opacity="0.5"/>
<circle cx="354.9" cy="240.1" r="0.35" fill="#000" fill-opacity="0.5"/>
<circle cx="354.0" cy="243.1" r="0.35" fill="#000" fill-opacity="0.5"/>
<circle cx="369.4" cy="236.1" r="0.35" fill="#000" fill-opacity="0.5"/>
<circle cx="357.4" cy="242.4" r="0.35" fill="#000" fill-opacity="0.5"/>
<circle cx="359.0" cy="237.5" r="0.35" fill="#000" fill-opacity="0.5"/>
<circle cx="353.1" cy="243.3" r="0.35" fill="#000" fill-opacity="0.5"/>
<circle cx="358.9" cy="240.9" r="0.35" fill="#000" fill-opacity="0.5"/>
<circle cx="351.3" cy="241.5" r="0.35" fill="#000" fill-opacity="0.5"/>
<circle cx="359.8" cy="237.7" r="0.35" fill="#000" fill-opacity="0.5"/>
<circle cx="349.4" cy="232.3" r="0.35" fill="#000" fill-opacity="0.5"/>
<circle cx="354.3" cy="241.1" r="0.35" fill="#000" fill-opacity="0.5"/>
<circle cx="355.9" cy="233.2" r="0.35" fill="#000" fill-opacity="0.5"/>
<circle cx="348.0" cy="236.0" r="0.35" fill="#000" fill-opacity="0.5"/>
<circle cx="355.7" cy="234.7" r="0.35" fill="#000" fill-opacity="0.5"/>
<circle cx="351.1" cy="237.9" r="0.35" fill="#000" fill-opacity="0.5"/>
<circle cx="352.7" cy="235.9" r="0.35" fill="#000" fill-opacity="0.5"/>
<circle cx="355.8" cy="237.2" r="0.35" fill="#000" fill-opacity="0.5"/>
<circle cx="358.9" cy="233.1" r="0.35" fill="#000" fill-opacity="0.5"/>
<circle cx="355.2" cy="242.2" r="0.35" fill="#000" fill-opacity="0.5"/>
<circle cx="361.9" cy="241.2" r="0.35" fill="#000" fill-opacity="0.5"/>
<circle cx="355.8" cy="231.4" r="0.35" fill="#000" fill-opacity="0.5"/>
<circle cx="359.2" cy="241.2" r="0.35" fill="#000" fill-opacity="0.5"/>
<circle cx="350.0" cy="233.1" r="0.35" fill="#000" fill-opacity="0.5"/>
<circle cx="356.4" cy="233.8" r="0.35" fill="#000" fill-opacity="0.5"/>
<circle cx="364.0" cy="235.7" r="0.35" fill="#000" fill-opacity="0.5"/>
<circle cx="352.6" cy="242.6" r="0.35" fill="#000" fill-opacity="0.5"/>
<circle cx="357.4" cy="234.4" r="0.35" fill="#000" fill-opacity="0.5"/>
<circle cx="349.1" cy="237.4" r="0.35" fill="#000" fill-opacity="0.5"/>
<circle cx="349.9" cy="229.6" r="0.35" fill="#000" fill-opacity="0.5"/>
<circle cx="358.9" cy="241.8" r="0.35" fill="#000" fill-opacity="0.5"/>
<circle cx="360.8" cy="240.6" r="0.35" fill="#000" fill-opacity="0.5"/>
<circle cx="352.0" cy="233.1" r="0.35" fill="#000" fill-opacity="0.5"/>
<circle cx="349.7" cy="242.2" r="0.35" fill="#000" fill-opacity="0.5"/>
<circle cx="358.1" cy="229.7" r="0.35" fill="#000" fill-opacity="0.5"/>
<circle cx="360.4" cy="244.4" r="0.35" fill="#000" fill-opacity="0.5"/>
<circle cx="355.8" cy="232.9" r="0.35" fill="#000" fill-opacity="0.5"/>
<circle cx="365.1" cy="232.5" r="0.35" fill="#000" fill-opacity="0.5"/>
<circle cx="355.2" cy="229.7" r="0.35" fill="#000" fill-opacity="0.5"/>
<circle cx="348.9" cy="230.7" r="0.35" fill="#000" fill-opacity="0.5"/>
<circle cx="361.4" cy="244.1" r="0.35" fill="#000" fill-opacity="0.5"/>
<circle cx="353.4" cy="232.3" r="0.35" fill="#000" fill-opacity="0.5"/>
<circle cx="355.3" cy="240.4" r="0.35" fill="#000" fill-opacity="0.5"/>
<circle cx="355.1" cy="241.9" r="0.35" fill="#000" fill-opacity="0.5"/>
<circle cx="356.0" cy="240.7" r="0.35" fill="#000" fill-opacity="0.5"/>
<circle cx="348.9" cy="227.0" r="0.35" fill="#000" fill-opacity="0.5"/>
<circle cx="357.3" cy="234.3" r="0.35" fill="#000" fill-opacity="0.5"/>
<circle cx="354.9" cy="236.8" r="0.35" fill="#000" fill-opacity="0.5"/>
<circle cx="358.2" cy="235.0" r="0.35" fill="#000" fill-opacity="0.5"/>
<circle cx="363.3" cy="238.7" r="0.35" fill="#000" fill-opacity="0.5"/>
<circle cx="358.4" cy="241.5" r="0.35" fill="#000" fill-opacity="0.5"/>
<circle cx="361.2" cy="240.5" r="0.35" fill="#000" fill-opacity="0.5"/>
<circle cx="365.6" cy="240.8" r="0.35" fill="#000" fill-opacity="0.5"/>
<circle cx="358.6" cy="240.8" r="0.35" fill="#000" fill-opacity="0.5"/>
<circle cx="352.2" cy="235.4" r="0.35" fill="#000" fill-opacity="0.5"/>
<circle cx="352.1" cy="244.0" r="0.35" fill="#000" fill-opacity="0.5"/>
<circle cx="358.1" cy="233.0" r="0.35" fill="#000" fill-opacity="0.5"/>
<circle cx="365.0" cy="240.2" r="0.35" fill="#000" fill-opacity="0.5"/>
<circle cx="362.0" cy="239.6" r="0.35" fill="#000" fill-opacity="0.5"/>
<circle cx="353.8" cy="239.4" r="0.35" fill="#000" fill-opacity="0.5"/>
<circle cx="349.6" cy="233.0" r="0.35" fill="#000" fill-opacity="0.5"/>
<circle cx="350.8" cy="236.1" r="0.35" fill="#000" fill-opacity="0.5"/>
<circle cx="348.3" cy="238.1" r="0.35" fill="#000" fill-opacity="0.5"/>
<circle cx="365.5" cy="238.4" r="0.35" fill="#000" fill-opacity="0.5"/>
<circle cx="360.4" cy="237.6" r="0.35" fill="#000" fill-opacity="0.5"/>
<circle cx="357.7" cy="238.4" r="0.35" fill="#000" fill-opacity="0.5"/>
<circle cx="352.7" cy="239.0" r="0.35" fill="#000" fill-opacity="0.5"/>
<circle cx="354.0" cy="233.5" r="0.35" fill="#000" fill-opacity="0.5"/>
<circle cx="353.7" cy="241.2" r="0.35" fill="#000" fill-opacity="0.5"/>
<circle cx="351.9" cy="240.8" r="0.35" fill="#000" fill-opacity="0.5"/>
<circle cx="358.7" cy="246.0" r="0.35" fill="#000" fill-opacity="0.5"/>
<circle cx="349.7" cy="238.1" r="0.35" fill="#000" fill-opacity="0.5"/>
<circle cx="358.4" cy="245.7" r="0.35" fill="#000" fill-opacity="0.5"/>
<circle cx="357.0" cy="242.2" r="0.35" fill="#000" fill-opacity="0.5"/>
<circle cx="364.6" cy="237.3" r="0.35" fill="#000" fill-opacity="0.5"/>
<circle cx="367.3" cy="235.2" r="0.35" fill="#000" fill-opacity="0.5"/>
<circle cx="354.1" cy="231.1" r="0.35" fill="#000" fill-opacity="0.5"/>
<circle cx="359.0" cy="239.9" r="0.35" fill="#000" fill-opacity="0.5"/>
<circle cx="366.5" cy="239.4" r="0.35" fill="#000" fill-opacity="0.5"/>
<circle cx="354.2" cy="231.9" r="0.35" fill="#000" fill-opacity="0.5"/>
<circle cx="355.2" cy="243.1" r="0.35" fill="#000" fill-opacity="0.5"/>
<circle cx="359.6" cy="244.4" r="0.35" fill="#000" fill-opacity="0.5"/>
<circle cx="360.3" cy="238.4" r="0.35" fill="#000" fill-opacity="0.5"/>
<circle cx="358.9" cy="239.4" r="0.35" fill="#000" fill-opacity="0.5"/>
<circle cx="348.4" cy="246.7" r="0.35" fill="#000" fill-opacity="0.5"/>
<circle cx="357.6" cy="233.6" r="0.35" fill="#000" fill-opacity="0.5"/>
<circle cx="357.7" cy="240.0" r="0.35" fill="#000" fill-opacity="0.5"/>
<circle cx="361.0" cy="245.4" r="0.35" fill="#000" fill-opacity="0.5"/>
<circle cx="363.9" cy="234.1" r="0.35" fill="#000" fill-opacity="0.5"/>
<circle cx="357.4" cy="240.3" r="0.35" fill="#000" fill-opacity="0.5"/>
<circle cx="349.6" cy="236.4" r="0.35" fill="#000" fill-opacity="0.5"/>
<circle cx="356.7" cy="242.1" r="0.35" fill="#000" fill-opacity="0.5"/>
<circle cx="367.5" cy="240.0" r="0.35" fill="#000" fill-opacity="0.5"/>
<circle cx="352.3" cy="227.4" r="0.35" fill="#000" fill-opacity="0.5"/>
<circle cx="361.4" cy="238.0" r="0.35" fill="#000" fill-opacity="0.5"/>
<circle cx="355.0" cy="233.9" r="0.35" fill="#000" fill-opacity="0.5"/>
<circle cx="359.6" cy="230.1" r="0.35" fill="#000" fill-opacity="0.5"/>
<circle cx="356.2" cy="239.2" r="0.35" fill="#000" fill-opacity="0.5"/>
<circle cx="357.2" cy="244.8" r="0.35" fill="#000" fill-opacity="0.5"/>
<circle cx="355.1" cy="239.0" r="0.35" fill="#000" fill-opacity="0.5"/>
<circle cx="360.3" cy="231.2" r="0.35" fill="#000" fill-opacity="0.5"/>
<circle cx="354.0" cy="238.9" r="0.35" fill="#000" fill-opacity="0.5"/>
<circle cx="360.8" cy="234.8" r="0.35" fill="#000" fill-opacity="0.5"/>
<circle cx="360.0" cy="240.4" r="0.35" fill="#000" fill-opacity="0.5"/>
<circle cx="356.7" cy="242.0" r="0.35" fill="#000" fill-opacity="0.5"/>
<circle cx="360.1" cy="236.0" r="0.35" fill="#000" fill-opacity="0.5"/>
<circle cx="361.4" cy="242.5" r="0.35" fill="#000" fill-opacity="0.5"/>
<circle cx="358.2" cy="240.9" r="0.35" fill="#000" fill-opacity="0.5"/>
<circle cx="348.6" cy="240.3" r="0.35" fill="#000" fill-opacity="0.5"/>
<circle cx="350.0" cy="232.9" r="0.35" fill="#000" fill-opacity="0.5"/>
<circle cx="353.7" cy="239.3" r="0.35" fill="#000" fill-opacity="0.5"/>
<circle cx="355.3" cy="237.0" r="0.35" fill="#000" fill-opacity="0.5"/>
<circle cx="350.1" cy="239.5" r="0.35" fill="#000" fill-opacity="0.5"/>
<circle cx="351.5" cy="231.9" r="0.35" fill="#000" fill-opacity="0.5"/>
<circle cx="356.1" cy="245.5" r="0.35" fill="#000" fill-opacity="0.5"/>
<circle cx="353.4" cy="233.5" r="0.35" fill="#000" fill-opacity="0.5"/>
<circle cx="363.2" cy="246.8" r="0.35" fill="#000" fill-opacity="0.5"/>
<circle cx="354.0" cy="237.6" r="0.35" fill="#000" fill-opacity="0.5"/>
<circle cx="356.3" cy="243.3" r="0.35" fill="#000" fill-opacity="0.5"/>
<circle cx="358.0" cy="229.9" r="0.35" fill="#000" fill-opacity="0.5"/>
<circle cx="349.6" cy="232.7" r="0.35" fill="#000" fill-opacity="0.5"/>
<circle cx="358.0" cy="239.1" r="0.35" fill="#000" fill-opacity="0.5"/>
<circle cx="365.4" cy="237.3" r="0.35" fill="#000" fill-opacity="0.5"/>
<circle cx="357.3" cy="239.0" r="0.35" fill="#000" fill-opacity="0.5"/>
<circle cx="357.2" cy="245.6" r="0.35" fill="#000" fill-opacity="0.5"/>
<circle cx="362.7" cy="235.7" r="0.35" fill="#000" fill-opacity="0.5"/>
<circle cx="359.4" cy="236.8" r="0.35" fill="#000" fill-opacity="0.5"/>
<circle cx="356.2" cy="239.4" r="0.35" fill="#000" fill-opacity="0.5"/>
<circle cx="355.7" cy="236.4" r="0.35" fill="#000" fill-opacity="0.5"/>
<circle cx="364.1" cy="237.3" r="0.35" fill="#000" fill-opacity="0.5"/>
<circle cx="359.5" cy="246.6" r="0.35" fill="#000" fill-opacity="0.5"/>
<circle cx="359.0" cy="243.5" r="0.35" fill="#000" fill-opacity="0.5"/>
<circle cx="363.2" cy="243.8" r="0.35" fill="#000" fill-opacity="0.5"/>
<circle cx="365.0" cy="231.8" r="0.35" fill="#000" fill-opacity="0.5"/>
<circle cx="366.3" cy="238.7" r="0.35" fill="#000" fill-opacity="0.5"/>
<circle cx="348.0" cy="238.5" r="0.35" fill="#000" fill-opacity="0.5"/>
<circle cx="357.2" cy="239.4" r="0.35" fill="#000" fill-opacity="0.5"/>
<circle cx="351.2" cy="237.5" r="0.35" fill="#000" fill-opacity="0.5"/>
<circle cx="355.1" cy="239.0" r="0.35" fill="#000" fill-opacity="0.5"/>
<circle cx="355.6" cy="237.5" r="0.35" fill="#000" fill-opacity="0.5"/>
<circle cx="360.4" cy="230.9" r="0.35" fill="#000" fill-opacity="0.5"/>
<circle cx="352.9" cy="239.2" r="0.35" fill="#000" fill-opacity="0.5"/>
<circle cx="353.4" cy="236.0" r="0.35" fill="#000" fill-opacity="0.5"/>
<circle cx="353.2" cy="239.6" r="0.35" fill="#000" fill-opacity="0.5"/>
<circle cx="362.4" cy="237.7" r="0.35" fill="#000" fill-opacity="0.5"/>
<circle cx="354.1" cy="240.3" r="0.35" fill="#000" fill-opacity="0.5"/>
<circle cx="354.3" cy="229.3" r="0.35" fill="#000" fill-opacity="0.5"/>
<circle cx="357.1" cy="236.8" r="0.35" fill="#000" fill-opacity="0.5"/>
<circle cx="352.5" cy="241.6" r="0.35" fill="#000" fill-opacity="0.5"/>
<circle cx="355.8" cy="235.9" r="0.35" fill="#000" fill-opacity="0.5"/>
<circle cx="355.7" cy="238.0" r="0.35" fill="#000" fill-opacity="0.5"/>
<circle cx="358.0" cy="239.7" r="0.35" fill="#000" fill-opacity="0.5"/>
<circle cx="353.0" cy="232.5" r="0.35" fill="#000" fill-opacity="0.5"/>
<circle cx="349.6" cy="237.9" r="0.35" fill="#000" fill-opacity="0.5"/>
<circle cx="349.3" cy="242.2" r="0.35" fill="#000" fill-opacity="0.5"/>
<circle cx="348.3" cy="230.0" r="0.35" fill="#000" fill-opacity="0.5"/>
<circle cx="354.5" cy="230.1" r="0.35" fill="#000" fill-opacity="0.5"/>
<circle cx="364.5" cy="233.8" r="0.35" fill="#000" fill-opacity="0.5"/>
<circle cx="355.3" cy="237.4" r="0.35" fill="#000" fill-opacity="0.5"/>
<circle cx="351.1" cy="230.1" r="0.35" fill="#000" fill-opacity="0.5"/>
<circle cx="355.5" cy="242.7" r="0.35" fill="#000" fill-opacity="0.5"/>
<circle cx="352.8" cy="242.1" r="0.35" fill="#000" fill-opacity="0.5"/>
<circle cx="360.5" cy="241.5" r="0.35" fill="#000" fill-opacity="0.5"/>
<circle cx="363.6" cy="237.8" r="0.35" fill="#000" fill-opacity="0.5"/>
<circle cx="364.1" cy="235.2" r="0.35" fill="#000" fill-opacity="0.5"/>
<circle cx="364.8" cy="225.4" r="0.35" fill="#000" fill-opacity="0.5"/>
<circle cx="355.7" cy="234.8" r="0.35" fill="#000" fill-opacity="0.5"/>
<circle cx="355.6" cy="243.5" r="0.35" fill="#000" fill-opacity="0.5"/>
<circle cx="359.5" cy="239.1" r="0.35" fill="#000" fill-opacity="0.5"/>
<circle cx="365.0" cy="231.5" r="0.35" fill="#000" fill-opacity="0.5"/>
<circle cx="351.1" cy="245.8" r="0.35" fill="#000" fill-opacity="0.5"/>
<circle cx="357.4" cy="228.6" r="0.35" fill="#000" fill-opacity="0.5"/>
<circle cx="357.5" cy="232.9" r="0.35" fill="#000" fill-opacity="0.5"/>
<circle cx="363.7" cy="244.1" r="0.35" fill="#000" fill-opacity="0.5"/>
<circle cx="352.6" cy="244.8" r="0.35" fill="#000" fill-opacity="0.5"/>
<circle cx="351.0" cy="243.0" r="0.35" fill="#000" fill-opacity="0.5"/>
<circle cx="358.8" cy="238.0" r="0.35" fill="#000" fill-opacity="0.5"/>
<circle cx="350.3" cy="226.9" r="0.35" fill="#000" fill-opacity="0.5"/>
<circle cx="358.8" cy="240.4" r="0.35" fill="#000" fill-opacity="0.5"/>
<circle cx="359.9" cy="238.9" r="0.35" fill="#000" fill-opacity="0.5"/>
<circle cx="352.1" cy="224.4" r="0.35" fill="#000" fill-opacity="0.5"/>
<circle cx="358.2" cy="243.2" r="0.35" fill="#000" fill-opacity="0.5"/>
<circle cx="352.3" cy="231.8" r="0.35" fill="#000" fill-opacity="0.5"/>
<circle cx="355.4" cy="230.6" r="0.35" fill="#000" fill-opacity="0.5"/>
<circle cx="355.6" cy="242.3" r="0.35" fill="#000" fill-opacity="0.5"/>
<circle cx="363.9" cy="239.9" r="0.35" fill="#000" fill-opacity="0.5"/>
<circle cx="356.7" cy="242.2" r="0.35" fill="#000" fill-opacity="0.5"/>
<circle cx="363.3" cy="237.1" r="0.35" fill="#000" fill-opacity="0.5"/>
<circle cx="348.8" cy="234.8" r="0.35" fill="#000" fill-opacity="0.5"/>
<circle cx="348.7" cy="234.3" r="0.35" fill="#000" fill-opacity="0.5"/>
<circle cx="354.9" cy="240.2" r="0.35" fill="#000" fill-opacity="0.5"/>
<circle cx="356.5" cy="238.9" r="0.35" fill="#000" fill-opacity="0.5"/>
<circle cx="353.6" cy="240.6" r="0.35" fill="#000" fill-opacity="0.5"/>
<circle cx="360.5" cy="242.2" r="0.35" fill="#000" fill-opacity="0.5"/>
<circle cx="363.8" cy="237.2" r="0.35" fill="#000" fill-opacity="0.5"/>
<circle cx="354.2" cy="246.7" r="0.35" fill="#000" fill-opacity="0.5"/>
<circle cx="356.7" cy="240.6" r="0.35" fill="#000" fill-opacity="0.5"/>
<circle cx="353.8" cy="243.3" r="0.35" fill="#000" fill-opacity="0.5"/>
<circle cx="353.4" cy="233.8" r="0.35" fill="#000" fill-opacity="0.5"/>
<circle cx="355.3" cy="236.5" r="0.35" fill="#000" fill-opacity="0.5"/>
<circle cx="360.2" cy="236.8" r="0.35" fill="#000" fill-opacity="0.5"/>
<circle cx="356.3" cy="237.6" r="0.35" fill="#000" fill-opacity="0.5"/>
<circle cx="357.5" cy="235.6" r="0.35" fill="#000" fill-opacity="0.5"/>
<circle cx="361.7" cy="231.8" r="0.35" fill="#000" fill-opacity="0.5"/>
<circle cx="353.5" cy="235.2" r="0.35" fill="#000" fill-opacity="0.5"/>
<circle cx="359.2" cy="238.8" r="0.35" fill="#000" fill-opacity="0.5"/>
<circle cx="358.3" cy="237.0" r="0.35" fill="#000" fill-opacity="0.5"/>
<circle cx="351.7" cy="233.2" r="0.35" fill="#000" fill-opacity="0.5"/>
<circle cx="353.8" cy="236.0" r="0.35" fill="#000" fill-opacity="0.5"/>
<circle cx="357.1" cy="240.3" r="0.35" fill="#000" fill-opacity="0.5"/>
<circle cx="361.0" cy="238.1" r="0.35" fill="#000" fill-opacity="0.5"/>
<circle cx="351.5" cy="233.5" r="0.35" fill="#000" fill-opacity="0.5"/>
<circle cx="355.9" cy="240.3" r="0.35" fill="#000" fill-opacity="0.5"/>
<circle cx="366.3" cy="239.5" r="0.35" fill="#000" fill-opacity="0.5"/>
<circle cx="349.8" cy="244.4" r="0.35" fill="#000" fill-opacity="0.5"/>
<circle cx="361.9" cy="245.1" r="0.35" fill="#000" fill-opacity="0.5"/>
<circle cx="355.5" cy="243.2" r="0.35" fill="#000" fill-opacity="0.5"/>
<circle cx="353.0" cy="238.3" r="0.35" fill="#000" fill-opacity="0.5"/>
<circle cx="354.4" cy="243.2" r="0.35" fill="#000" fill-opacity="0.5"/>
<circle cx="356.0" cy="235.2" r="0.35" fill="#000" fill-opacity="0.5"/>
<circle cx="356.9" cy="241.8" r="0.35" fill="#000" fill-opacity="0.5"/>
<circle cx="351.7" cy="241.6" r="0.35" fill="#000" fill-opacity="0.5"/>
<circle cx="351.7" cy="234.4" r="0.35" fill="#000" fill-opacity="0.5"/>
<circle cx="356.8" cy="237.5" r="0.35" fill="#000" fill-opacity="0.5"/>
<circle cx="350.2" cy="230.8" r="0.35" fill="#000" fill-opacity="0.5"/>
<circle cx="355.7" cy="239.8" r="0.35" fill="#000" fill-opacity="0.5"/>
<circle cx="353.1" cy="239.5" r="0.35" fill="#000" fill-opacity="0.5"/>
<circle cx="357.9" cy="239.9" r="0.35" fill="#000" fill-opacity="0.5"/>
<circle cx="352.2" cy="239.0" r="0.35" fill="#000" fill-opacity="0.5"/>
<circle cx="356.3" cy="243.7" r="0.35" fill="#000" fill-opacity="0.5"/>
<circle cx="357.1" cy="239.8" r="0.35" fill="#000" fill-opacity="0.5"/>
<circle cx="351.6" cy="242.7" r="0.35" fill="#000" fill-opacity="0.5"/>
<circle cx="362.0" cy="236.2" r="0.35" fill="#000" fill-opacity="0.5"/>
<circle cx="359.1" cy="240.1" r="0.35" fill="#000" fill-opacity="0.5"/>
<circle cx="355.3" cy="232.4" r="0.35" fill="#000" fill-opacity="0.5"/>
<circle cx="365.3" cy="229.6" r="0.35" fill="#000" fill-opacity="0.5"/>
<circle cx="357.3" cy="236.8" r="0.35" fill="#000" fill-opacity="0.5"/>
<circle cx="361.9" cy="236.6" r="0.35" fill="#000" fill-opacity="0.5"/>
<circle cx="355.8" cy="241.5" r="0.35" fill="#000" fill-opacity="0.5"/>
<circle cx="358.1" cy="236.1" r="0.35" fill="#000" fill-opacity="0.5"/>
<circle cx="359.3" cy="240.5" r="0.35" fill="#000" fill-opacity="0.5"/>
<circle cx="361.0" cy="236.2" r="0.35" fill="#000" fill-opacity="0.5"/>
<circle cx="355.3" cy="236.7" r="0.35" fill="#000" fill-opacity="0.5"/>
<circle cx="351.0" cy="239.8" r="0.35" fill="#000" fill-opacity="0.5"/>
<circle cx="357.8" cy="245.4" r="0.35" fill="#000" fill-opacity="0.5"/>
<circle cx="353.8" cy="240.5" r="0.35" fill="#000" fill-opacity="0.5"/>
<circle cx="361.9" cy="238.1" r="0.35" fill="#000" fill-opacity="0.5"/>
<circle cx="355.9" cy="239.2" r="0.35" fill="#000" fill-opacity="0.5"/>
<circle cx="351.8" cy="233.9" r="0.35" fill="#000" fill-opacity="0.5"/>
<circle cx="361.7" cy="239.4" r="0.35" fill="#000" fill-opacity="0.5"/>
<circle cx="355.2" cy="232.7" r="0.35" fill="#000" fill-opacity="0.5"/>
<circle cx="356.2" cy="244.2" r="0.35" fill="#000" fill-opacity="0.5"/>
<circle cx="349.3" cy="234.3" r="0.35" fill="#000" fill-opacity="0.5"/>
<circle cx="361.7" cy="245.4" r="0.35" fill="#000" fill-opacity="0.5"/>
<circle cx="364.1" cy="236.0" r="0.35" fill="#000" fill-opacity="0.5"/>
<circle cx="358.9" cy="235.0" r="0.35" fill="#000" fill-opacity="0.5"/>
<circle cx="358.5" cy="236.9" r="0.35" fill="#000" fill-opacity="0.5"/>
<circle cx="356.7" cy="245.0" r="0.35" fill="#000" fill-opacity="0.5"/>
<circle cx="357.5" cy="237.4" r="0.35" fill="#000" fill-opacity="0.5"/>
<circle cx="355.9" cy="239.9" r="0.35" fill="#000" fill-opacity="0.5"/>
<circle cx="352.8" cy="239.6" r="0.35" fill="#000" fill-opacity="0.5"/>
<circle cx="358.9" cy="246.0" r="0.35" fill="#000" fill-opacity="0.5"/>
<circle cx="348.8" cy="242.8" r="0.35" fill="#000" fill-opacity="0.5"/>
<circle cx="368.9" cy="239.5" r="0.35" fill="#000" fill-opacity="0.5"/>
<circle cx="356.3" cy="244.0" r="0.35" fill="#000" fill-opacity="0.5"/>
<circle cx="352.8" cy="236.3" r="0.35" fill="#000" fill-opacity="0.5"/>
<circle cx="357.5" cy="235.8" r="0.35" fill="#000" fill-opacity="0.5"/>
<circle cx="361.7" cy="238.6" r="0.35" fill="#000" fill-opacity="0.5"/>
<circle cx="353.1" cy="243.0" r="0.35" fill="#000" fill-opacity="0.5"/>
<circle cx="348.8" cy="246.3" r="0.35" fill="#000" fill-opacity="0.35"/>
<circle cx="363.5" cy="236.8" r="0.35" fill="#000" fill-opacity="0.35"/>
<circle cx="366.9" cy="235.6" r="0.35" fill="#000" fill-opacity="0.35"/>
<circle cx="355.2" cy="245.1" r="0.35" fill="#000" fill-opacity="0.35"/>
<circle cx="359.6" cy="240.5" r="0.35" fill="#000" fill-opacity="0.35"/>
<circle cx="358.3" cy="239.4" r="0.35" fill="#000" fill-opacity="0.35"/>
<circle cx="357.7" cy="233.7" r="0.35" fill="#000" fill-opacity="0.35"/>
<circle cx="356.1" cy="240.8" r="0.35" fill="#000" fill-opacity="0.35"/>
<circle cx="361.9" cy="233.8" r="0.35" fill="#000" fill-opacity="0.35"/>
<circle cx="363.5" cy="232.4" r="0.35" fill="#000" fill-opacity="0.35"/>
<circle cx="373.0" cy="241.7" r="0.35" fill="#000" fill-opacity="0.35"/>
<circle cx="356.8" cy="236.6" r="0.35" fill="#000" fill-opacity="0.35"/>
<circle cx="353.9" cy="242.5" r="0.35" fill="#000" fill-opacity="0.35"/>
<circle cx="371.9" cy="232.0" r="0.35" fill="#000" fill-opacity="0.35"/>
<circle cx="364.3" cy="222.9" r="0.35" fill="#000" fill-opacity="0.35"/>
<circle cx="350.0" cy="227.1" r="0.35" fill="#000" fill-opacity="0.35"/>
<circle cx="360.2" cy="239.9" r="0.35" fill="#000" fill-opacity="0.35"/>
<circle cx="349.6" cy="226.0" r="0.35" fill="#000" fill-opacity="0.35"/>
<circle cx="361.2" cy="218.1" r="0.35" fill="#000" fill-opacity="0.35"/>
<circle cx="360.8" cy="234.3" r="0.35" fill="#000" fill-opacity="0.35"/>
<circle cx="371.2" cy="244.1" r="0.35" fill="#000" fill-opacity="0.35"/>
<circle cx="350.9" cy="233.3" r="0.35" fill="#000" fill-opacity="0.35"/>
<circle cx="353.3" cy="229.4" r="0.35" fill="#000" fill-opacity="0.35"/>
<circle cx="356.3" cy="243.8" r="0.35" fill="#000" fill-opacity="0.35"/>
<circle cx="367.7" cy="241.9" r="0.35" fill="#000" fill-opacity="0.35"/>
<circle cx="349.0" cy="228.7" r="0.35" fill="#000" fill-opacity="0.35"/>
<circle cx="348.6" cy="221.9" r="0.35" fill="#000" fill-opacity="0.35"/>
<circle cx="365.0" cy="236.2" r="0.35" fill="#000" fill-opacity="0.35"/>
<circle cx="349.9" cy="223.4" r="0.35" fill="#000" fill-opacity="0.35"/>
<circle cx="352.5" cy="231.2" r="0.35" fill="#000" fill-opacity="0.35"/>
<circle cx="369.6" cy="231.7" r="0.35" fill="#000" fill-opacity="0.35"/>
<circle cx="356.5" cy="244.7" r="0.35" fill="#000" fill-opacity="0.35"/>
<circle cx="361.0" cy="234.1" r="0.35" fill="#000" fill-opacity="0.35"/>
<circle cx="360.5" cy="231.9" r="0.35" fill="#000" fill-opacity="0.35"/>
<circle cx="354.9" cy="227.5" r="0.35" fill="#000" fill-opacity="0.35"/>
<circle cx="348.3" cy="223.0" r="0.35" fill="#000" fill-opacity="0.35"/>
<circle cx="359.7" cy="240.0" r="0.35" fill="#000" fill-opacity="0.35"/>
<circle cx="357.0" cy="242.2" r="0.35" fill="#000" fill-opacity="0.35"/>
<circle cx="359.9" cy="236.6" r="0.35" fill="#000" fill-opacity="0.35"/>
<circle cx="348.4" cy="240.6" r="0.35" fill="#000" fill-opacity="0.35"/>
<circle cx="365.2" cy="241.0" r="0.35" fill="#000" fill-opacity="0.35"/>
<circle cx="365.7" cy="231.6" r="0.35" fill="#000" fill-opacity="0.35"/>
<circle cx="350.9" cy="237.7" r="0.35" fill="#000" fill-opacity="0.35"/>
<circle cx="354.1" cy="235.8" r="0.35" fill="#000" fill-opacity="0.35"/>
<circle cx="353.4" cy="231.0" r="0.35" fill="#000" fill-opacity="0.35"/>
<circle cx="357.2" cy="219.3" r="0.35" fill="#000" fill-opacity="0.35"/>
<circle cx="348.3" cy="226.1" r="0.35" fill="#000" fill-opacity="0.35"/>
<circle cx="349.6" cy="214.0" r="0.35" fill="#000" fill-opacity="0.35"/>
<circle cx="353.6" cy="241.9" r="0.35" fill="#000" fill-opacity="0.35"/>
<circle cx="360.5" cy="225.1" r="0.35" fill="#000" fill-opacity="0.35"/>
<circle cx="365.5" cy="221.3" r="0.35" fill="#000" fill-opacity="0.35"/>
<circle cx="350.9" cy="232.6" r="0.35" fill="#000" fill-opacity="0.35"/>
<circle cx="365.8" cy="236.6" r="0.35" fill="#000" fill-opacity="0.35"/>
<circle cx="354.6" cy="228.8" r="0.35" fill="#000" fill-opacity="0.35"/>
<circle cx="356.3" cy="236.0" r="0.35" fill="#000" fill-opacity="0.35"/>
<circle cx="361.6" cy="235.8" r="0.35" fill="#000" fill-opacity="0.35"/>
<circle cx="357.2" cy="235.5" r="0.35" fill="#000" fill-opacity="0.35"/>
<circle cx="360.2" cy="234.7" r="0.35" fill="#000" fill-opacity="0.35"/>
<circle cx="350.5" cy="244.6" r="0.35" fill="#000" fill-opacity="0.35"/>
<circle cx="351.9" cy="243.7" r="0.35" fill="#000" fill-opacity="0.35"/>
<circle cx="349.3" cy="236.5" r="0.35" fill="#000" fill-opacity="0.35"/>
<circle cx="358.9" cy="236.8" r="0.35" fill="#000" fill-opacity="0.35"/>
<circle cx="357.5" cy="238.8" r="0.35" fill="#000" fill-opacity="0.35"/>
<circle cx="354.6" cy="227.8" r="0.35" fill="#000" fill-opacity="0.35"/>
<circle cx="350.3" cy="235.9" r="0.35" fill="#000" fill-opacity="0.35"/>
<circle cx="365.1" cy="230.8" r="0.35" fill="#000" fill-opacity="0.35"/>
<circle cx="360.1" cy="237.2" r="0.35" fill="#000" fill-opacity="0.35"/>
<circle cx="352.7" cy="227.6" r="0.35" fill="#000" fill-opacity="0.35"/>
<circle cx="354.4" cy="229.5" r="0.35" fill="#000" fill-opacity="0.35"/>
<circle cx="359.9" cy="220.7" r="0.35" fill="#000" fill-opacity="0.35"/>
<circle cx="364.7" cy="242.0" r="0.35" fill="#000" fill-opacity="0.35"/>
<circle cx="360.5" cy="221.2" r="0.35" fill="#000" fill-opacity="0.35"/>
<circle cx="356.0" cy="239.4" r="0.35" fill="#000" fill-opacity="0.35"/>
<circle cx="350.1" cy="226.1" r="0.35" fill="#000" fill-opacity="0.35"/>
<circle cx="359.1" cy="239.9" r="0.35" fill="#000" fill-opacity="0.35"/>
<circle cx="352.2" cy="233.6" r="0.35" fill="#000" fill-opacity="0.35"/>
<circle cx="351.5" cy="230.8" r="0.35" fill="#000" fill-opacity="0.35"/>
<circle cx="355.1" cy="244.7" r="0.35" fill="#000" fill-opacity="0.35"/>
<circle cx="368.6" cy="238.3" r="0.35" fill="#000" fill-opacity="0.35"/>
<circle cx="356.8" cy="242.6" r="0.35" fill="#000" fill-opacity="0.35"/>
<circle cx="357.6" cy="242.8" r="0.35" fill="#000" fill-opacity="0.35"/>
<circle cx="352.2" cy="229.9" r="0.35" fill="#000" fill-opacity="0.35"/>
<circle cx="358.8" cy="240.8" r="0.35" fill="#000" fill-opacity="0.35"/>
<circle cx="357.7" cy="219.6" r="0.35" fill="#000" fill-opacity="0.35"/>
<circle cx="351.2" cy="214.3" r="0.35" fill="#000" fill-opacity="0.35"/>
<circle cx="357.6" cy="228.4" r="0.35" fill="#000" fill-opacity="0.35"/>
<circle cx="366.2" cy="239.7" r="0.35" fill="#000" fill-opacity="0.35"/>
<circle cx="357.8" cy="237.1" r="0.35" fill="#000" fill-opacity="0.35"/>
<circle cx="350.9" cy="235.2" r="0.35" fill="#000" fill-opacity="0.35"/>
<circle cx="371.0" cy="228.2" r="0.35" fill="#000" fill-opacity="0.35"/>
<circle cx="350.3" cy="237.0" r="0.35" fill="#000" fill-opacity="0.35"/>
<circle cx="362.8" cy="242.6" r="0.35" fill="#000" fill-opacity="0.35"/>
<circle cx="353.5" cy="225.2" r="0.35" fill="#000" fill-opacity="0.35"/>
<circle cx="356.2" cy="231.6" r="0.35" fill="#000" fill-opacity="0.35"/>
<circle cx="363.0" cy="239.2" r="0.35" fill="#000" fill-opacity="0.35"/>
<circle cx="349.3" cy="236.3" r="0.35" fill="#000" fill-opacity="0.35"/>
<circle cx="352.7" cy="230.3" r="0.35" fill="#000" fill-opacity="0.35"/>
<circle cx="351.7" cy="244.5" r="0.35" fill="#000" fill-opacity="0.35"/>
<circle cx="352.3" cy="221.2" r="0.35" fill="#000" fill-opacity="0.35"/>
<circle cx="349.4" cy="242.4" r="0.35" fill="#000" fill-opacity="0.35"/>
<circle cx="372.9" cy="226.7" r="0.35" fill="#000" fill-opacity="0.35"/>
<circle cx="352.7" cy="232.8" r="0.35" fill="#000" fill-opacity="0.35"/>
<circle cx="355.2" cy="237.9" r="0.35" fill="#000" fill-opacity="0.35"/>
<circle cx="373.6" cy="233.4" r="0.35" fill="#000" fill-opacity="0.35"/>
<circle cx="362.0" cy="242.6" r="0.35" fill="#000" fill-opacity="0.35"/>
<circle cx="350.5" cy="230.6" r="0.35" fill="#000" fill-opacity="0.35"/>
<circle cx="368.1" cy="241.6" r="0.35" fill="#000" fill-opacity="0.35"/>
<circle cx="356.8" cy="226.4" r="0.35" fill="#000" fill-opacity="0.35"/>
<circle cx="362.7" cy="240.0" r="0.35" fill="#000" fill-opacity="0.35"/>
<circle cx="362.1" cy="237.9" r="0.35" fill="#000" fill-opacity="0.35"/>
<circle cx="356.1" cy="231.0" r="0.35" fill="#000" fill-opacity="0.35"/>
<circle cx="358.1" cy="237.7" r="0.35" fill="#000" fill-opacity="0.35"/>
<circle cx="360.8" cy="244.7" r="0.35" fill="#000" fill-opacity="0.35"/>
<circle cx="358.1" cy="231.0" r="0.35" fill="#000" fill-opacity="0.35"/>
<circle cx="348.9" cy="239.1" r="0.35" fill="#000" fill-opacity="0.35"/>
<circle cx="360.0" cy="240.1" r="0.35" fill="#000" fill-opacity="0.35"/>
<circle cx="359.7" cy="234.8" r="0.35" fill="#000" fill-opacity="0.35"/>
<circle cx="369.5" cy="223.8" r="0.35" fill="#000" fill-opacity="0.35"/>
<circle cx="350.2" cy="231.3" r="0.35" fill="#000" fill-opacity="0.35"/>
<circle cx="355.2" cy="231.1" r="0.35" fill="#000" fill-opacity="0.35"/>
<circle cx="367.4" cy="245.5" r="0.35" fill="#000" fill-opacity="0.35"/>
<circle cx="352.3" cy="241.1" r="0.35" fill="#000" fill-opacity="0.35"/>
<circle cx="355.3" cy="245.3" r="0.35" fill="#000" fill-opacity="0.35"/>
<circle cx="360.3" cy="235.3" r="0.35" fill="#000" fill-opacity="0.35"/>
<circle cx="360.0" cy="229.6" r="0.35" fill="#000" fill-opacity="0.35"/>
<circle cx="352.7" cy="240.3" r="0.35" fill="#000" fill-opacity="0.35"/>
<circle cx="362.6" cy="227.0" r="0.35" fill="#000" fill-opacity="0.35"/>
<rect x="348.6" y="233.0" width="14.0" height="11.2" rx="4.5" fill="#000" filter="url(#bb)"/>
<circle cx="365.5" cy="213.6" r="0.35" fill="#000" fill-opacity="0.3"/>
<circle cx="348.6" cy="206.4" r="0.35" fill="#000" fill-opacity="0.3"/>
<circle cx="361.2" cy="211.7" r="0.35" fill="#000" fill-opacity="0.3"/>
<circle cx="362.4" cy="205.5" r="0.35" fill="#000" fill-opacity="0.3"/>
<circle cx="356.5" cy="217.7" r="0.35" fill="#000" fill-opacity="0.3"/>
<circle cx="353.7" cy="216.3" r="0.35" fill="#000" fill-opacity="0.3"/>
<circle cx="355.3" cy="214.7" r="0.35" fill="#000" fill-opacity="0.3"/>
<circle cx="358.6" cy="223.8" r="0.35" fill="#000" fill-opacity="0.3"/>
<circle cx="351.0" cy="216.8" r="0.35" fill="#000" fill-opacity="0.3"/>
<circle cx="363.4" cy="207.5" r="0.35" fill="#000" fill-opacity="0.3"/>
<circle cx="357.4" cy="224.2" r="0.35" fill="#000" fill-opacity="0.3"/>
<circle cx="355.8" cy="204.7" r="0.35" fill="#000" fill-opacity="0.3"/>
<circle cx="358.5" cy="209.5" r="0.35" fill="#000" fill-opacity="0.3"/>
<circle cx="354.3" cy="208.9" r="0.35" fill="#000" fill-opacity="0.3"/>
<circle cx="358.4" cy="210.7" r="0.35" fill="#000" fill-opacity="0.3"/>
<circle cx="352.6" cy="211.9" r="0.35" fill="#000" fill-opacity="0.3"/>
<circle cx="359.0" cy="208.8" r="0.35" fill="#000" fill-opacity="0.3"/>
<circle cx="362.4" cy="204.9" r="0.35" fill="#000" fill-opacity="0.3"/>
<circle cx="359.0" cy="211.1" r="0.35" fill="#000" fill-opacity="0.3"/>
<circle cx="364.6" cy="209.9" r="0.35" fill="#000" fill-opacity="0.3"/>
<circle cx="353.8" cy="206.5" r="0.35" fill="#000" fill-opacity="0.3"/>
<circle cx="366.6" cy="216.0" r="0.35" fill="#000" fill-opacity="0.3"/>
<circle cx="351.7" cy="211.4" r="0.35" fill="#000" fill-opacity="0.3"/>
<circle cx="352.3" cy="220.4" r="0.35" fill="#000" fill-opacity="0.3"/>
<circle cx="359.0" cy="203.1" r="0.35" fill="#000" fill-opacity="0.3"/>
<circle cx="358.0" cy="217.4" r="0.35" fill="#000" fill-opacity="0.3"/>
<circle cx="357.0" cy="215.3" r="0.35" fill="#000" fill-opacity="0.3"/>
<circle cx="356.5" cy="214.0" r="0.35" fill="#000" fill-opacity="0.3"/>
<circle cx="358.0" cy="209.6" r="0.35" fill="#000" fill-opacity="0.3"/>
<circle cx="358.7" cy="213.8" r="0.35" fill="#000" fill-opacity="0.3"/>
<circle cx="356.8" cy="209.7" r="0.35" fill="#000" fill-opacity="0.3"/>
<circle cx="352.1" cy="214.2" r="0.35" fill="#000" fill-opacity="0.3"/>
<circle cx="361.0" cy="201.3" r="0.35" fill="#000" fill-opacity="0.3"/>
<circle cx="354.4" cy="219.6" r="0.35" fill="#000" fill-opacity="0.3"/>
<circle cx="361.4" cy="209.5" r="0.35" fill="#000" fill-opacity="0.3"/>
<circle cx="363.6" cy="208.2" r="0.35" fill="#000" fill-opacity="0.3"/>
<circle cx="353.2" cy="222.4" r="0.35" fill="#000" fill-opacity="0.3"/>
<circle cx="354.9" cy="211.9" r="0.35" fill="#000" fill-opacity="0.3"/>
<circle cx="349.0" cy="208.1" r="0.35" fill="#000" fill-opacity="0.3"/>
<circle cx="351.3" cy="212.3" r="0.35" fill="#000" fill-opacity="0.3"/>
<circle cx="348.1" cy="218.2" r="0.35" fill="#000" fill-opacity="0.3"/>
<circle cx="355.3" cy="210.1" r="0.35" fill="#000" fill-opacity="0.3"/>
<circle cx="353.9" cy="216.6" r="0.35" fill="#000" fill-opacity="0.3"/>
<circle cx="364.5" cy="211.0" r="0.35" fill="#000" fill-opacity="0.3"/>
<circle cx="364.8" cy="220.8" r="0.35" fill="#000" fill-opacity="0.3"/>
<circle cx="363.5" cy="214.5" r="0.35" fill="#000" fill-opacity="0.3"/>
<circle cx="349.8" cy="216.3" r="0.35" fill="#000" fill-opacity="0.3"/>
<circle cx="355.0" cy="213.9" r="0.35" fill="#000" fill-opacity="0.3"/>
<circle cx="358.1" cy="208.4" r="0.35" fill="#000" fill-opacity="0.3"/>
<circle cx="358.4" cy="221.1" r="0.35" fill="#000" fill-opacity="0.3"/>
<circle cx="358.1" cy="209.7" r="0.35" fill="#000" fill-opacity="0.3"/>
<circle cx="368.6" cy="202.5" r="0.35" fill="#000" fill-opacity="0.3"/>
<circle cx="352.5" cy="215.0" r="0.35" fill="#000" fill-opacity="0.3"/>
<circle cx="370.9" cy="214.3" r="0.35" fill="#000" fill-opacity="0.3"/>
<circle cx="374.6" cy="237.1" r="0.35" fill="#000" fill-opacity="0.3"/>
<circle cx="370.0" cy="241.7" r="0.35" fill="#000" fill-opacity="0.3"/>
<circle cx="375.7" cy="239.7" r="0.35" fill="#000" fill-opacity="0.3"/>
<circle cx="366.8" cy="231.0" r="0.35" fill="#000" fill-opacity="0.3"/>
<circle cx="380.5" cy="245.7" r="0.35" fill="#000" fill-opacity="0.3"/>
<circle cx="379.3" cy="231.0" r="0.35" fill="#000" fill-opacity="0.3"/>
<circle cx="374.3" cy="226.4" r="0.35" fill="#000" fill-opacity="0.3"/>
<circle cx="378.3" cy="225.9" r="0.35" fill="#000" fill-opacity="0.3"/>
<circle cx="374.0" cy="215.9" r="0.35" fill="#000" fill-opacity="0.3"/>
<circle cx="366.9" cy="244.0" r="0.35" fill="#000" fill-opacity="0.3"/>
<circle cx="373.8" cy="232.6" r="0.35" fill="#000" fill-opacity="0.3"/>
<circle cx="363.9" cy="230.8" r="0.35" fill="#000" fill-opacity="0.3"/>
<circle cx="382.6" cy="220.1" r="0.35" fill="#000" fill-opacity="0.3"/>
<circle cx="363.1" cy="229.8" r="0.35" fill="#000" fill-opacity="0.3"/>
<circle cx="371.2" cy="229.5" r="0.35" fill="#000" fill-opacity="0.3"/>
<circle cx="368.0" cy="221.1" r="0.35" fill="#000" fill-opacity="0.3"/>
<circle cx="368.1" cy="235.7" r="0.35" fill="#000" fill-opacity="0.3"/>
<circle cx="373.3" cy="237.0" r="0.35" fill="#000" fill-opacity="0.3"/>
<circle cx="368.8" cy="235.3" r="0.35" fill="#000" fill-opacity="0.3"/>
<circle cx="371.6" cy="231.7" r="0.35" fill="#000" fill-opacity="0.3"/>
<circle cx="377.6" cy="231.2" r="0.35" fill="#000" fill-opacity="0.3"/>
<circle cx="372.0" cy="218.8" r="0.35" fill="#000" fill-opacity="0.3"/>
<circle cx="373.8" cy="236.7" r="0.35" fill="#000" fill-opacity="0.3"/>
<circle cx="370.7" cy="230.5" r="0.35" fill="#000" fill-opacity="0.3"/>
<circle cx="365.7" cy="221.2" r="0.35" fill="#000" fill-opacity="0.3"/>
<circle cx="375.3" cy="240.5" r="0.35" fill="#000" fill-opacity="0.3"/>
<circle cx="372.1" cy="218.7" r="0.35" fill="#000" fill-opacity="0.3"/>
<circle cx="371.8" cy="219.5" r="0.35" fill="#000" fill-opacity="0.3"/>
<circle cx="372.3" cy="245.2" r="0.35" fill="#000" fill-opacity="0.3"/>
<circle cx="374.8" cy="229.9" r="0.35" fill="#000" fill-opacity="0.3"/>
<circle cx="378.1" cy="228.2" r="0.35" fill="#000" fill-opacity="0.3"/>
<circle cx="375.0" cy="232.5" r="0.35" fill="#000" fill-opacity="0.3"/>
<circle cx="375.5" cy="220.2" r="0.35" fill="#000" fill-opacity="0.3"/>
<circle cx="376.6" cy="237.5" r="0.35" fill="#000" fill-opacity="0.3"/>
<circle cx="363.4" cy="211.1" r="0.35" fill="#000" fill-opacity="0.3"/>
<circle cx="369.5" cy="242.0" r="0.35" fill="#000" fill-opacity="0.3"/>
<circle cx="373.6" cy="236.0" r="0.35" fill="#000" fill-opacity="0.3"/>
<circle cx="375.9" cy="237.5" r="0.35" fill="#000" fill-opacity="0.3"/>
<circle cx="370.7" cy="226.7" r="0.35" fill="#000" fill-opacity="0.3"/>
<circle cx="375.2" cy="235.5" r="0.35" fill="#000" fill-opacity="0.3"/>
<circle cx="376.0" cy="233.5" r="0.35" fill="#000" fill-opacity="0.3"/>
<circle cx="371.4" cy="239.1" r="0.35" fill="#000" fill-opacity="0.3"/>
<circle cx="375.6" cy="238.8" r="0.35" fill="#000" fill-opacity="0.3"/>
<circle cx="362.3" cy="238.4" r="0.35" fill="#000" fill-opacity="0.3"/>
<circle cx="362.7" cy="232.6" r="0.35" fill="#000" fill-opacity="0.3"/>
<circle cx="370.6" cy="231.9" r="0.35" fill="#000" fill-opacity="0.3"/>
<circle cx="371.4" cy="228.7" r="0.35" fill="#000" fill-opacity="0.3"/>
<circle cx="374.4" cy="233.6" r="0.35" fill="#000" fill-opacity="0.3"/>
<circle cx="370.0" cy="212.3" r="0.35" fill="#000" fill-opacity="0.3"/>
<circle cx="370.0" cy="235.0" r="0.35" fill="#000" fill-opacity="0.3"/>
<circle cx="369.8" cy="234.2" r="0.35" fill="#000" fill-opacity="0.3"/>
<circle cx="371.9" cy="224.0" r="0.35" fill="#000" fill-opacity="0.3"/>
<circle cx="378.7" cy="243.3" r="0.35" fill="#000" fill-opacity="0.3"/>
<circle cx="373.0" cy="230.6" r="0.35" fill="#000" fill-opacity="0.3"/>
<circle cx="377.8" cy="221.2" r="0.35" fill="#000" fill-opacity="0.3"/>
<circle cx="369.6" cy="239.4" r="0.35" fill="#000" fill-opacity="0.3"/>
<circle cx="377.5" cy="227.3" r="0.35" fill="#000" fill-opacity="0.3"/>
<circle cx="370.0" cy="233.6" r="0.35" fill="#000" fill-opacity="0.3"/>
<circle cx="367.2" cy="227.3" r="0.35" fill="#000" fill-opacity="0.3"/>
<circle cx="372.5" cy="212.8" r="0.35" fill="#000" fill-opacity="0.3"/>
<circle cx="376.1" cy="236.7" r="0.35" fill="#000" fill-opacity="0.3"/>
<circle cx="378.2" cy="220.3" r="0.35" fill="#000" fill-opacity="0.3"/>
<circle cx="367.8" cy="225.0" r="0.35" fill="#000" fill-opacity="0.3"/>
<circle cx="367.7" cy="246.2" r="0.35" fill="#000" fill-opacity="0.3"/>
<circle cx="369.2" cy="228.7" r="0.35" fill="#000" fill-opacity="0.3"/>
<circle cx="374.4" cy="234.4" r="0.35" fill="#000" fill-opacity="0.3"/>
<circle cx="380.0" cy="222.9" r="0.35" fill="#000" fill-opacity="0.3"/>
<circle cx="377.4" cy="232.1" r="0.35" fill="#000" fill-opacity="0.3"/>
<circle cx="368.3" cy="232.1" r="0.35" fill="#000" fill-opacity="0.3"/>
<circle cx="367.3" cy="243.1" r="0.35" fill="#000" fill-opacity="0.3"/>
<circle cx="370.2" cy="238.5" r="0.35" fill="#000" fill-opacity="0.3"/>
<circle cx="379.3" cy="226.4" r="0.35" fill="#000" fill-opacity="0.3"/>
<circle cx="369.5" cy="232.0" r="0.35" fill="#000" fill-opacity="0.3"/>
<circle cx="368.8" cy="237.7" r="0.35" fill="#000" fill-opacity="0.3"/>
<circle cx="374.3" cy="225.3" r="0.35" fill="#000" fill-opacity="0.3"/>
<circle cx="370.4" cy="236.4" r="0.35" fill="#000" fill-opacity="0.3"/>
<circle cx="367.0" cy="243.6" r="0.35" fill="#000" fill-opacity="0.3"/>
<circle cx="370.0" cy="229.5" r="0.35" fill="#000" fill-opacity="0.3"/>
<circle cx="369.4" cy="243.1" r="0.35" fill="#000" fill-opacity="0.3"/>
<circle cx="377.2" cy="240.7" r="0.35" fill="#000" fill-opacity="0.3"/>
<circle cx="376.4" cy="231.7" r="0.35" fill="#000" fill-opacity="0.3"/>
<circle cx="381.1" cy="236.0" r="0.35" fill="#000" fill-opacity="0.3"/>
<circle cx="375.5" cy="235.3" r="0.35" fill="#000" fill-opacity="0.3"/>
<circle cx="376.8" cy="233.1" r="0.35" fill="#000" fill-opacity="0.3"/>
<circle cx="372.8" cy="219.1" r="0.35" fill="#000" fill-opacity="0.3"/>
<circle cx="382.7" cy="221.3" r="0.35" fill="#000" fill-opacity="0.3"/>
<circle cx="363.9" cy="225.7" r="0.35" fill="#000" fill-opacity="0.3"/>
<circle cx="382.2" cy="240.1" r="0.35" fill="#000" fill-opacity="0.3"/>
<circle cx="370.8" cy="233.0" r="0.35" fill="#000" fill-opacity="0.3"/>
<circle cx="373.4" cy="216.2" r="0.35" fill="#000" fill-opacity="0.3"/>
<circle cx="372.0" cy="233.2" r="0.35" fill="#000" fill-opacity="0.3"/>
<circle cx="378.8" cy="222.0" r="0.35" fill="#000" fill-opacity="0.3"/>
<circle cx="363.4" cy="219.2" r="0.35" fill="#000" fill-opacity="0.3"/>
<circle cx="375.0" cy="231.6" r="0.35" fill="#000" fill-opacity="0.3"/>
<circle cx="374.2" cy="232.1" r="0.35" fill="#000" fill-opacity="0.3"/>
<circle cx="371.9" cy="220.8" r="0.35" fill="#000" fill-opacity="0.3"/>
<circle cx="375.5" cy="233.9" r="0.35" fill="#000" fill-opacity="0.3"/>
<circle cx="376.1" cy="240.3" r="0.35" fill="#000" fill-opacity="0.3"/>
<circle cx="367.9" cy="213.5" r="0.35" fill="#000" fill-opacity="0.3"/>
<circle cx="369.4" cy="234.0" r="0.35" fill="#000" fill-opacity="0.3"/>
<circle cx="373.4" cy="236.5" r="0.35" fill="#000" fill-opacity="0.3"/>
<circle cx="387.9" cy="227.1" r="0.35" fill="#000" fill-opacity="0.3"/>
<circle cx="372.7" cy="226.5" r="0.35" fill="#000" fill-opacity="0.3"/>
<circle cx="374.6" cy="234.9" r="0.35" fill="#000" fill-opacity="0.3"/>
<circle cx="369.1" cy="240.9" r="0.35" fill="#000" fill-opacity="0.3"/>
<circle cx="378.7" cy="234.3" r="0.35" fill="#000" fill-opacity="0.3"/>
<circle cx="373.0" cy="229.2" r="0.35" fill="#000" fill-opacity="0.3"/>
<circle cx="366.1" cy="235.9" r="0.35" fill="#000" fill-opacity="0.3"/>
<circle cx="369.1" cy="227.2" r="0.35" fill="#000" fill-opacity="0.3"/>
<circle cx="378.0" cy="224.1" r="0.35" fill="#000" fill-opacity="0.3"/>
<circle cx="371.2" cy="237.4" r="0.35" fill="#000" fill-opacity="0.3"/>
<circle cx="381.9" cy="225.8" r="0.35" fill="#000" fill-opacity="0.3"/>
<circle cx="378.5" cy="226.1" r="0.35" fill="#000" fill-opacity="0.3"/>
<circle cx="375.2" cy="234.6" r="0.35" fill="#000" fill-opacity="0.3"/>
<circle cx="368.4" cy="238.7" r="0.35" fill="#000" fill-opacity="0.3"/>
<circle cx="381.6" cy="231.4" r="0.35" fill="#000" fill-opacity="0.3"/>
<circle cx="374.7" cy="222.2" r="0.35" fill="#000" fill-opacity="0.3"/>
<circle cx="381.5" cy="231.5" r="0.35" fill="#000" fill-opacity="0.3"/>
<circle cx="367.8" cy="236.7" r="0.35" fill="#000" fill-opacity="0.3"/>
<circle cx="366.9" cy="225.9" r="0.35" fill="#000" fill-opacity="0.3"/>
<circle cx="363.9" cy="241.3" r="0.35" fill="#000" fill-opacity="0.3"/>
<circle cx="383.4" cy="226.2" r="0.35" fill="#000" fill-opacity="0.3"/>
<circle cx="370.6" cy="226.7" r="0.35" fill="#000" fill-opacity="0.3"/>
<circle cx="371.0" cy="235.2" r="0.35" fill="#000" fill-opacity="0.3"/>
<circle cx="380.1" cy="223.4" r="0.35" fill="#000" fill-opacity="0.3"/>
<circle cx="375.5" cy="217.5" r="0.35" fill="#000" fill-opacity="0.3"/>
<circle cx="380.4" cy="230.3" r="0.35" fill="#000" fill-opacity="0.3"/>
<circle cx="370.3" cy="242.5" r="0.35" fill="#000" fill-opacity="0.3"/>
<circle cx="373.0" cy="241.3" r="0.35" fill="#000" fill-opacity="0.3"/>
<circle cx="378.3" cy="243.4" r="0.35" fill="#000" fill-opacity="0.3"/>
<circle cx="369.9" cy="231.4" r="0.35" fill="#000" fill-opacity="0.3"/>
<circle cx="375.2" cy="229.5" r="0.35" fill="#000" fill-opacity="0.3"/>
<circle cx="380.4" cy="225.6" r="0.35" fill="#000" fill-opacity="0.3"/>
<circle cx="378.0" cy="241.2" r="0.35" fill="#000" fill-opacity="0.3"/>
<circle cx="364.7" cy="223.7" r="0.35" fill="#000" fill-opacity="0.3"/>
<circle cx="369.4" cy="226.9" r="0.35" fill="#000" fill-opacity="0.3"/>
<circle cx="375.3" cy="229.7" r="0.35" fill="#000" fill-opacity="0.3"/>
<circle cx="373.9" cy="227.6" r="0.35" fill="#000" fill-opacity="0.3"/>
<circle cx="373.1" cy="234.6" r="0.35" fill="#000" fill-opacity="0.3"/>
<circle cx="376.9" cy="225.1" r="0.35" fill="#000" fill-opacity="0.3"/>
<circle cx="373.0" cy="225.3" r="0.35" fill="#000" fill-opacity="0.3"/>
<circle cx="372.7" cy="220.2" r="0.35" fill="#000" fill-opacity="0.3"/>
<circle cx="377.8" cy="236.0" r="0.35" fill="#000" fill-opacity="0.3"/>
<circle cx="372.9" cy="225.9" r="0.35" fill="#000" fill-opacity="0.3"/>
<circle cx="371.4" cy="226.0" r="0.35" fill="#000" fill-opacity="0.3"/>
<circle cx="366.6" cy="243.2" r="0.35" fill="#000" fill-opacity="0.3"/>
<circle cx="388.3" cy="221.8" r="0.35" fill="#000" fill-opacity="0.3"/>
<circle cx="368.2" cy="235.3" r="0.35" fill="#000" fill-opacity="0.3"/>
<circle cx="376.2" cy="219.2" r="0.35" fill="#000" fill-opacity="0.3"/>
<circle cx="364.9" cy="235.1" r="0.35" fill="#000" fill-opacity="0.3"/>
<circle cx="364.5" cy="241.7" r="0.35" fill="#000" fill-opacity="0.3"/>
<circle cx="371.3" cy="231.6" r="0.35" fill="#000" fill-opacity="0.3"/>
<circle cx="373.5" cy="226.8" r="0.35" fill="#000" fill-opacity="0.3"/>
<circle cx="372.9" cy="228.8" r="0.35" fill="#000" fill-opacity="0.3"/>
<circle cx="379.1" cy="230.3" r="0.35" fill="#000" fill-opacity="0.3"/>
<circle cx="373.4" cy="227.0" r="0.35" fill="#000" fill-opacity="0.3"/>
<circle cx="370.6" cy="225.5" r="0.35" fill="#000" fill-opacity="0.3"/>
<circle cx="373.5" cy="244.8" r="0.35" fill="#000" fill-opacity="0.3"/>
<circle cx="378.5" cy="232.8" r="0.35" fill="#000" fill-opacity="0.3"/>
<circle cx="381.0" cy="238.6" r="0.35" fill="#000" fill-opacity="0.3"/>
<circle cx="374.4" cy="229.8" r="0.35" fill="#000" fill-opacity="0.3"/>
<circle cx="368.6" cy="232.9" r="0.35" fill="#000" fill-opacity="0.3"/>
<circle cx="372.1" cy="219.1" r="0.35" fill="#000" fill-opacity="0.3"/>
<circle cx="367.7" cy="245.5" r="0.35" fill="#000" fill-opacity="0.3"/>
<circle cx="374.5" cy="234.7" r="0.35" fill="#000" fill-opacity="0.3"/>
<circle cx="374.4" cy="227.5" r="0.35" fill="#000" fill-opacity="0.3"/>
<circle cx="375.6" cy="239.1" r="0.35" fill="#000" fill-opacity="0.3"/>
<circle cx="372.1" cy="234.8" r="0.35" fill="#000" fill-opacity="0.3"/>
<circle cx="378.1" cy="227.4" r="0.35" fill="#000" fill-opacity="0.3"/>
<circle cx="374.3" cy="225.5" r="0.35" fill="#000" fill-opacity="0.3"/>
<circle cx="376.2" cy="228.2" r="0.35" fill="#000" fill-opacity="0.3"/>
<circle cx="378.7" cy="225.3" r="0.35" fill="#000" fill-opacity="0.3"/>
<circle cx="381.1" cy="228.7" r="0.35" fill="#000" fill-opacity="0.3"/>
<circle cx="369.7" cy="224.2" r="0.35" fill="#000" fill-opacity="0.3"/>
<circle cx="376.5" cy="224.6" r="0.35" fill="#000" fill-opacity="0.3"/>
<circle cx="381.6" cy="240.6" r="0.35" fill="#000" fill-opacity="0.3"/>
<circle cx="375.8" cy="220.3" r="0.35" fill="#000" fill-opacity="0.3"/>
<circle cx="373.4" cy="225.6" r="0.35" fill="#000" fill-opacity="0.3"/>
<circle cx="365.3" cy="234.2" r="0.35" fill="#000" fill-opacity="0.3"/>
<circle cx="383.4" cy="227.0" r="0.35" fill="#000" fill-opacity="0.3"/>
<circle cx="377.1" cy="240.6" r="0.35" fill="#000" fill-opacity="0.3"/>
<circle cx="369.2" cy="228.5" r="0.35" fill="#000" fill-opacity="0.3"/>
<circle cx="374.7" cy="234.5" r="0.35" fill="#000" fill-opacity="0.3"/>
<circle cx="368.3" cy="232.6" r="0.35" fill="#000" fill-opacity="0.3"/>
<circle cx="373.0" cy="238.1" r="0.35" fill="#000" fill-opacity="0.3"/>
<circle cx="366.3" cy="226.8" r="0.35" fill="#000" fill-opacity="0.3"/>
<circle cx="371.2" cy="228.6" r="0.35" fill="#000" fill-opacity="0.3"/>
<circle cx="376.8" cy="226.3" r="0.35" fill="#000" fill-opacity="0.3"/>
<circle cx="385.8" cy="225.7" r="0.35" fill="#000" fill-opacity="0.3"/>
<circle cx="377.3" cy="238.6" r="0.35" fill="#000" fill-opacity="0.3"/>
<circle cx="377.8" cy="229.5" r="0.35" fill="#000" fill-opacity="0.3"/>
<circle cx="369.8" cy="229.1" r="0.35" fill="#000" fill-opacity="0.3"/>
<circle cx="376.5" cy="231.9" r="0.35" fill="#000" fill-opacity="0.3"/>
<circle cx="376.1" cy="235.3" r="0.35" fill="#000" fill-opacity="0.3"/>
<circle cx="369.5" cy="224.0" r="0.35" fill="#000" fill-opacity="0.3"/>
<circle cx="380.0" cy="227.4" r="0.35" fill="#000" fill-opacity="0.3"/>
<circle cx="366.4" cy="244.9" r="0.35" fill="#000" fill-opacity="0.3"/>
<circle cx="369.7" cy="224.0" r="0.35" fill="#000" fill-opacity="0.3"/>
<circle cx="377.9" cy="222.5" r="0.35" fill="#000" fill-opacity="0.3"/>
<circle cx="369.6" cy="238.9" r="0.35" fill="#000" fill-opacity="0.3"/>
<circle cx="374.1" cy="231.4" r="0.35" fill="#000" fill-opacity="0.3"/>
<circle cx="370.6" cy="229.3" r="0.35" fill="#000" fill-opacity="0.3"/>
<circle cx="371.2" cy="230.8" r="0.35" fill="#000" fill-opacity="0.3"/>
<circle cx="377.0" cy="221.5" r="0.35" fill="#000" fill-opacity="0.3"/>
<circle cx="369.4" cy="215.3" r="0.35" fill="#000" fill-opacity="0.3"/>
<circle cx="380.3" cy="230.4" r="0.35" fill="#000" fill-opacity="0.3"/>
<circle cx="373.4" cy="230.6" r="0.35" fill="#000" fill-opacity="0.3"/>
<circle cx="378.0" cy="233.4" r="0.35" fill="#000" fill-opacity="0.3"/>
<circle cx="377.3" cy="229.7" r="0.35" fill="#000" fill-opacity="0.3"/>
<circle cx="373.0" cy="230.6" r="0.35" fill="#000" fill-opacity="0.3"/>
<circle cx="365.1" cy="239.2" r="0.35" fill="#000" fill-opacity="0.3"/>
<circle cx="366.4" cy="223.5" r="0.35" fill="#000" fill-opacity="0.3"/>
<circle cx="376.5" cy="231.4" r="0.35" fill="#000" fill-opacity="0.3"/>
<circle cx="377.2" cy="243.8" r="0.35" fill="#000" fill-opacity="0.3"/>
<circle cx="381.9" cy="241.4" r="0.35" fill="#000" fill-opacity="0.3"/>
<circle cx="372.5" cy="246.4" r="0.35" fill="#000" fill-opacity="0.3"/>
<circle cx="369.5" cy="230.4" r="0.35" fill="#000" fill-opacity="0.3"/>
<circle cx="378.0" cy="229.4" r="0.35" fill="#000" fill-opacity="0.3"/>
<circle cx="373.0" cy="228.4" r="0.35" fill="#000" fill-opacity="0.3"/>
<circle cx="379.6" cy="212.5" r="0.35" fill="#000" fill-opacity="0.3"/>
<circle cx="379.2" cy="238.9" r="0.35" fill="#000" fill-opacity="0.3"/>
<circle cx="373.2" cy="235.2" r="0.35" fill="#000" fill-opacity="0.3"/>
<circle cx="369.1" cy="239.3" r="0.35" fill="#000" fill-opacity="0.3"/>
<circle cx="387.3" cy="224.1" r="0.35" fill="#000" fill-opacity="0.3"/>
<circle cx="379.8" cy="230.6" r="0.35" fill="#000" fill-opacity="0.3"/>
<circle cx="372.0" cy="227.3" r="0.35" fill="#000" fill-opacity="0.3"/>
<circle cx="372.6" cy="221.6" r="0.35" fill="#000" fill-opacity="0.3"/>
<circle cx="367.4" cy="243.5" r="0.35" fill="#000" fill-opacity="0.3"/>
<circle cx="373.4" cy="235.1" r="0.35" fill="#000" fill-opacity="0.3"/>
<circle cx="374.9" cy="234.6" r="0.35" fill="#000" fill-opacity="0.3"/>
<circle cx="366.6" cy="223.9" r="0.35" fill="#000" fill-opacity="0.3"/>
<circle cx="376.3" cy="238.5" r="0.35" fill="#000" fill-opacity="0.3"/>
<circle cx="368.3" cy="226.7" r="0.35" fill="#000" fill-opacity="0.3"/>
<circle cx="368.7" cy="235.9" r="0.35" fill="#000" fill-opacity="0.3"/>
<circle cx="375.0" cy="231.2" r="0.35" fill="#000" fill-opacity="0.3"/>
<circle cx="370.6" cy="233.6" r="0.35" fill="#000" fill-opacity="0.3"/>
<circle cx="373.6" cy="225.4" r="0.35" fill="#000" fill-opacity="0.3"/>
<circle cx="375.0" cy="226.0" r="0.35" fill="#000" fill-opacity="0.3"/>
<circle cx="377.8" cy="235.7" r="0.35" fill="#000" fill-opacity="0.3"/>
<circle cx="370.4" cy="235.4" r="0.35" fill="#000" fill-opacity="0.3"/>
<circle cx="373.8" cy="225.7" r="0.35" fill="#000" fill-opacity="0.3"/>
<circle cx="369.4" cy="218.5" r="0.35" fill="#000" fill-opacity="0.3"/>
<circle cx="368.4" cy="233.6" r="0.35" fill="#000" fill-opacity="0.3"/>
<circle cx="378.9" cy="226.3" r="0.35" fill="#000" fill-opacity="0.3"/>
<circle cx="374.2" cy="233.6" r="0.35" fill="#000" fill-opacity="0.3"/>
<circle cx="377.0" cy="234.3" r="0.35" fill="#000" fill-opacity="0.3"/>
<circle cx="379.0" cy="236.7" r="0.35" fill="#000" fill-opacity="0.3"/>
<circle cx="370.1" cy="234.0" r="0.35" fill="#000" fill-opacity="0.3"/>
<circle cx="363.0" cy="229.7" r="0.35" fill="#000" fill-opacity="0.3"/>
<circle cx="373.6" cy="235.3" r="0.35" fill="#000" fill-opacity="0.3"/>
<circle cx="372.1" cy="237.2" r="0.35" fill="#000" fill-opacity="0.3"/>
<circle cx="379.4" cy="224.7" r="0.35" fill="#000" fill-opacity="0.3"/>
<circle cx="371.1" cy="233.0" r="0.35" fill="#000" fill-opacity="0.3"/>
<circle cx="375.7" cy="232.1" r="0.35" fill="#000" fill-opacity="0.3"/>
<circle cx="377.2" cy="222.1" r="0.35" fill="#000" fill-opacity="0.3"/>
<circle cx="377.0" cy="239.7" r="0.35" fill="#000" fill-opacity="0.3"/>
<circle cx="383.0" cy="212.1" r="0.35" fill="#000" fill-opacity="0.45"/>
<circle cx="378.4" cy="212.0" r="0.35" fill="#000" fill-opacity="0.45"/>
<circle cx="378.9" cy="203.6" r="0.35" fill="#000" fill-opacity="0.45"/>
<circle cx="377.1" cy="210.1" r="0.35" fill="#000" fill-opacity="0.45"/>
<circle cx="377.4" cy="206.4" r="0.35" fill="#000" fill-opacity="0.45"/>
<circle cx="378.4" cy="208.7" r="0.35" fill="#000" fill-opacity="0.45"/>
<circle cx="379.4" cy="210.1" r="0.35" fill="#000" fill-opacity="0.45"/>
<circle cx="379.8" cy="214.5" r="0.35" fill="#000" fill-opacity="0.45"/>
<circle cx="379.7" cy="212.0" r="0.35" fill="#000" fill-opacity="0.45"/>
<circle cx="377.8" cy="213.1" r="0.35" fill="#000" fill-opacity="0.45"/>
<circle cx="378.0" cy="207.7" r="0.35" fill="#000" fill-opacity="0.45"/>
<circle cx="375.0" cy="214.0" r="0.35" fill="#000" fill-opacity="0.45"/>
<circle cx="377.4" cy="211.3" r="0.35" fill="#000" fill-opacity="0.45"/>
<circle cx="383.0" cy="212.6" r="0.35" fill="#000" fill-opacity="0.45"/>
<circle cx="386.8" cy="209.7" r="0.35" fill="#000" fill-opacity="0.45"/>
<circle cx="382.5" cy="213.2" r="0.35" fill="#000" fill-opacity="0.45"/>
<circle cx="377.0" cy="210.5" r="0.35" fill="#000" fill-opacity="0.45"/>
<circle cx="377.3" cy="206.0" r="0.35" fill="#000" fill-opacity="0.45"/>
<circle cx="380.2" cy="207.0" r="0.35" fill="#000" fill-opacity="0.45"/>
<circle cx="384.9" cy="207.2" r="0.35" fill="#000" fill-opacity="0.45"/>
<circle cx="377.3" cy="210.7" r="0.35" fill="#000" fill-opacity="0.45"/>
<circle cx="377.4" cy="210.5" r="0.35" fill="#000" fill-opacity="0.45"/>
<circle cx="377.1" cy="204.3" r="0.35" fill="#000" fill-opacity="0.45"/>
<circle cx="371.0" cy="204.9" r="0.35" fill="#000" fill-opacity="0.45"/>
<circle cx="384.4" cy="212.2" r="0.35" fill="#000" fill-opacity="0.45"/>
<circle cx="379.7" cy="208.3" r="0.35" fill="#000" fill-opacity="0.45"/>
<circle cx="378.7" cy="211.6" r="0.35" fill="#000" fill-opacity="0.45"/>
<circle cx="374.5" cy="206.9" r="0.35" fill="#000" fill-opacity="0.45"/>
<circle cx="376.2" cy="215.6" r="0.35" fill="#000" fill-opacity="0.45"/>
<circle cx="375.6" cy="215.2" r="0.35" fill="#000" fill-opacity="0.45"/>
<circle cx="377.6" cy="221.7" r="0.35" fill="#000" fill-opacity="0.45"/>
<circle cx="378.9" cy="210.4" r="0.35" fill="#000" fill-opacity="0.45"/>
<circle cx="383.8" cy="214.0" r="0.35" fill="#000" fill-opacity="0.45"/>
<circle cx="382.4" cy="205.8" r="0.35" fill="#000" fill-opacity="0.45"/>
<circle cx="383.1" cy="217.4" r="0.35" fill="#000" fill-opacity="0.45"/>
<circle cx="378.9" cy="208.3" r="0.35" fill="#000" fill-opacity="0.45"/>
<circle cx="375.5" cy="214.6" r="0.35" fill="#000" fill-opacity="0.45"/>
<circle cx="380.2" cy="210.3" r="0.35" fill="#000" fill-opacity="0.45"/>
<circle cx="375.0" cy="217.1" r="0.35" fill="#000" fill-opacity="0.45"/>
<circle cx="382.2" cy="210.2" r="0.35" fill="#000" fill-opacity="0.45"/>
<circle cx="384.2" cy="206.3" r="0.35" fill="#000" fill-opacity="0.45"/>
<circle cx="382.2" cy="206.1" r="0.35" fill="#000" fill-opacity="0.45"/>
<circle cx="384.0" cy="209.1" r="0.35" fill="#000" fill-opacity="0.45"/>
<circle cx="383.4" cy="208.6" r="0.35" fill="#000" fill-opacity="0.45"/>
<circle cx="380.6" cy="215.1" r="0.35" fill="#000" fill-opacity="0.45"/>
<circle cx="376.1" cy="210.7" r="0.35" fill="#000" fill-opacity="0.45"/>
<circle cx="376.3" cy="213.9" r="0.35" fill="#000" fill-opacity="0.45"/>
<circle cx="377.1" cy="208.7" r="0.35" fill="#000" fill-opacity="0.45"/>
<circle cx="378.5" cy="215.2" r="0.35" fill="#000" fill-opacity="0.45"/>
<circle cx="375.7" cy="210.2" r="0.35" fill="#000" fill-opacity="0.45"/>
<circle cx="378.1" cy="208.0" r="0.35" fill="#000" fill-opacity="0.45"/>
<circle cx="376.5" cy="209.6" r="0.35" fill="#000" fill-opacity="0.45"/>
<circle cx="379.9" cy="203.8" r="0.35" fill="#000" fill-opacity="0.45"/>
<circle cx="380.0" cy="205.3" r="0.35" fill="#000" fill-opacity="0.45"/>
<circle cx="379.3" cy="219.9" r="0.35" fill="#000" fill-opacity="0.45"/>
<circle cx="375.9" cy="210.0" r="0.35" fill="#000" fill-opacity="0.45"/>
<circle cx="378.3" cy="214.4" r="0.35" fill="#000" fill-opacity="0.45"/>
<circle cx="377.6" cy="202.8" r="0.35" fill="#000" fill-opacity="0.45"/>
<circle cx="373.7" cy="211.0" r="0.35" fill="#000" fill-opacity="0.45"/>
<circle cx="380.1" cy="214.8" r="0.35" fill="#000" fill-opacity="0.45"/>
<circle cx="377.4" cy="213.1" r="0.35" fill="#000" fill-opacity="0.45"/>
<circle cx="375.6" cy="215.7" r="0.35" fill="#000" fill-opacity="0.45"/>
<circle cx="379.0" cy="207.5" r="0.35" fill="#000" fill-opacity="0.45"/>
<circle cx="379.8" cy="217.6" r="0.35" fill="#000" fill-opacity="0.45"/>
<circle cx="376.3" cy="205.1" r="0.35" fill="#000" fill-opacity="0.45"/>
<circle cx="375.7" cy="205.4" r="0.35" fill="#000" fill-opacity="0.45"/>
<circle cx="379.0" cy="211.8" r="0.35" fill="#000" fill-opacity="0.45"/>
<circle cx="378.6" cy="211.1" r="0.35" fill="#000" fill-opacity="0.45"/>
<circle cx="383.2" cy="209.1" r="0.35" fill="#000" fill-opacity="0.45"/>
<circle cx="374.9" cy="200.7" r="0.35" fill="#000" fill-opacity="0.45"/>
<circle cx="380.0" cy="207.4" r="0.35" fill="#000" fill-opacity="0.45"/>
<circle cx="378.4" cy="212.0" r="0.35" fill="#000" fill-opacity="0.45"/>
<circle cx="380.8" cy="203.7" r="0.35" fill="#000" fill-opacity="0.45"/>
<circle cx="375.9" cy="210.6" r="0.35" fill="#000" fill-opacity="0.45"/>
<circle cx="378.7" cy="215.1" r="0.35" fill="#000" fill-opacity="0.45"/>
<circle cx="377.5" cy="201.6" r="0.35" fill="#000" fill-opacity="0.45"/>
<circle cx="383.2" cy="203.4" r="0.35" fill="#000" fill-opacity="0.45"/>
<circle cx="375.9" cy="211.9" r="0.35" fill="#000" fill-opacity="0.45"/>
<circle cx="375.6" cy="220.8" r="0.35" fill="#000" fill-opacity="0.45"/>
<circle cx="380.0" cy="212.5" r="0.35" fill="#000" fill-opacity="0.45"/>
<circle cx="377.7" cy="219.6" r="0.35" fill="#000" fill-opacity="0.45"/>
<circle cx="381.0" cy="207.3" r="0.35" fill="#000" fill-opacity="0.45"/>
<circle cx="383.5" cy="203.2" r="0.35" fill="#000" fill-opacity="0.45"/>
<circle cx="377.2" cy="211.5" r="0.35" fill="#000" fill-opacity="0.45"/>
<circle cx="379.7" cy="206.3" r="0.35" fill="#000" fill-opacity="0.45"/>
<circle cx="384.6" cy="216.5" r="0.35" fill="#000" fill-opacity="0.45"/>
<circle cx="376.0" cy="211.9" r="0.35" fill="#000" fill-opacity="0.45"/>
<circle cx="377.0" cy="208.5" r="0.35" fill="#000" fill-opacity="0.45"/>
<circle cx="382.6" cy="210.8" r="0.35" fill="#000" fill-opacity="0.45"/>
<circle cx="378.8" cy="210.7" r="0.35" fill="#000" fill-opacity="0.45"/>
<circle cx="375.2" cy="215.4" r="0.35" fill="#000" fill-opacity="0.45"/>
<circle cx="376.6" cy="215.8" r="0.35" fill="#000" fill-opacity="0.45"/>
<circle cx="377.6" cy="208.4" r="0.35" fill="#000" fill-opacity="0.45"/>
<circle cx="384.3" cy="211.1" r="0.35" fill="#000" fill-opacity="0.45"/>
<circle cx="377.0" cy="208.1" r="0.35" fill="#000" fill-opacity="0.45"/>
<circle cx="381.3" cy="218.2" r="0.35" fill="#000" fill-opacity="0.45"/>
<circle cx="381.3" cy="208.6" r="0.35" fill="#000" fill-opacity="0.45"/>
<circle cx="375.4" cy="207.5" r="0.35" fill="#000" fill-opacity="0.45"/>
<circle cx="378.8" cy="211.3" r="0.35" fill="#000" fill-opacity="0.45"/>
<circle cx="377.0" cy="215.7" r="0.35" fill="#000" fill-opacity="0.45"/>
<circle cx="375.9" cy="207.3" r="0.35" fill="#000" fill-opacity="0.45"/>
<circle cx="380.9" cy="212.3" r="0.35" fill="#000" fill-opacity="0.45"/>
<circle cx="377.9" cy="214.3" r="0.35" fill="#000" fill-opacity="0.45"/>
<circle cx="374.4" cy="217.2" r="0.35" fill="#000" fill-opacity="0.45"/>
<circle cx="386.6" cy="218.5" r="0.35" fill="#000" fill-opacity="0.45"/>
<circle cx="379.6" cy="218.6" r="0.35" fill="#000" fill-opacity="0.45"/>
<circle cx="379.4" cy="215.9" r="0.35" fill="#000" fill-opacity="0.45"/>
<circle cx="378.5" cy="211.1" r="0.35" fill="#000" fill-opacity="0.45"/>
<circle cx="381.0" cy="203.0" r="0.35" fill="#000" fill-opacity="0.45"/>
<circle cx="378.5" cy="217.5" r="0.35" fill="#000" fill-opacity="0.45"/>
<circle cx="369.3" cy="211.9" r="0.35" fill="#000" fill-opacity="0.45"/>
<circle cx="382.3" cy="211.7" r="0.35" fill="#000" fill-opacity="0.45"/>
<circle cx="379.9" cy="216.1" r="0.35" fill="#000" fill-opacity="0.45"/>
<circle cx="380.3" cy="202.4" r="0.35" fill="#000" fill-opacity="0.45"/>
<circle cx="376.0" cy="209.1" r="0.35" fill="#000" fill-opacity="0.45"/>
<circle cx="379.7" cy="208.4" r="0.35" fill="#000" fill-opacity="0.45"/>
<circle cx="378.8" cy="217.3" r="0.35" fill="#000" fill-opacity="0.45"/>
<circle cx="369.2" cy="215.1" r="0.35" fill="#000" fill-opacity="0.45"/>
<circle cx="382.4" cy="212.8" r="0.35" fill="#000" fill-opacity="0.45"/>
<circle cx="379.3" cy="210.6" r="0.35" fill="#000" fill-opacity="0.45"/>
<circle cx="380.4" cy="211.3" r="0.35" fill="#000" fill-opacity="0.45"/>
<circle cx="376.7" cy="213.6" r="0.35" fill="#000" fill-opacity="0.45"/>
<circle cx="376.4" cy="210.1" r="0.35" fill="#000" fill-opacity="0.45"/>
<circle cx="378.0" cy="205.5" r="0.35" fill="#000" fill-opacity="0.45"/>
<circle cx="381.3" cy="210.0" r="0.35" fill="#000" fill-opacity="0.45"/>
<circle cx="375.2" cy="210.0" r="0.35" fill="#000" fill-opacity="0.45"/>
<circle cx="374.5" cy="216.3" r="0.35" fill="#000" fill-opacity="0.45"/>
<circle cx="381.0" cy="218.6" r="0.35" fill="#000" fill-opacity="0.45"/>
<circle cx="377.3" cy="213.3" r="0.35" fill="#000" fill-opacity="0.45"/>
<circle cx="375.9" cy="206.7" r="0.35" fill="#000" fill-opacity="0.45"/>
<circle cx="378.9" cy="212.0" r="0.35" fill="#000" fill-opacity="0.45"/>
<circle cx="382.3" cy="209.2" r="0.35" fill="#000" fill-opacity="0.45"/>
<circle cx="382.9" cy="214.3" r="0.35" fill="#000" fill-opacity="0.45"/>
<circle cx="376.2" cy="209.6" r="0.35" fill="#000" fill-opacity="0.45"/>
<circle cx="376.1" cy="217.4" r="0.35" fill="#000" fill-opacity="0.45"/>
<circle cx="377.3" cy="214.0" r="0.35" fill="#000" fill-opacity="0.45"/>
<circle cx="382.3" cy="209.2" r="0.35" fill="#000" fill-opacity="0.45"/>
<circle cx="377.5" cy="211.7" r="0.35" fill="#000" fill-opacity="0.45"/>
<circle cx="376.6" cy="205.0" r="0.35" fill="#000" fill-opacity="0.45"/>
<circle cx="375.9" cy="211.7" r="0.35" fill="#000" fill-opacity="0.45"/>
<circle cx="379.9" cy="217.7" r="0.35" fill="#000" fill-opacity="0.45"/>
<circle cx="373.0" cy="212.4" r="0.35" fill="#000" fill-opacity="0.45"/>
<circle cx="375.3" cy="215.1" r="0.35" fill="#000" fill-opacity="0.45"/>
<circle cx="381.6" cy="210.8" r="0.35" fill="#000" fill-opacity="0.45"/>
<circle cx="384.2" cy="208.7" r="0.35" fill="#000" fill-opacity="0.45"/>
<circle cx="377.4" cy="205.9" r="0.35" fill="#000" fill-opacity="0.45"/>
<circle cx="377.0" cy="210.8" r="0.35" fill="#000" fill-opacity="0.45"/>
<circle cx="381.5" cy="215.7" r="0.35" fill="#000" fill-opacity="0.45"/>
<circle cx="378.3" cy="207.3" r="0.35" fill="#000" fill-opacity="0.45"/>
<circle cx="378.1" cy="208.5" r="0.35" fill="#000" fill-opacity="0.45"/>
<circle cx="377.6" cy="208.6" r="0.35" fill="#000" fill-opacity="0.45"/>
<circle cx="376.3" cy="210.1" r="0.35" fill="#000" fill-opacity="0.45"/>
<circle cx="377.5" cy="209.6" r="0.35" fill="#000" fill-opacity="0.45"/>
<circle cx="374.5" cy="210.9" r="0.35" fill="#000" fill-opacity="0.45"/>
<circle cx="381.1" cy="213.0" r="0.35" fill="#000" fill-opacity="0.45"/>
<circle cx="377.3" cy="205.5" r="0.35" fill="#000" fill-opacity="0.45"/>
<circle cx="374.8" cy="205.4" r="0.35" fill="#000" fill-opacity="0.45"/>
<circle cx="377.0" cy="209.0" r="0.35" fill="#000" fill-opacity="0.45"/>
<circle cx="373.2" cy="213.1" r="0.35" fill="#000" fill-opacity="0.45"/>
<circle cx="374.0" cy="207.4" r="0.35" fill="#000" fill-opacity="0.45"/>
<circle cx="376.8" cy="213.8" r="0.35" fill="#000" fill-opacity="0.45"/>
<circle cx="385.4" cy="208.8" r="0.35" fill="#000" fill-opacity="0.45"/>
<circle cx="378.3" cy="208.7" r="0.35" fill="#000" fill-opacity="0.45"/>
<circle cx="378.5" cy="209.6" r="0.35" fill="#000" fill-opacity="0.45"/>
<circle cx="387.5" cy="205.8" r="0.35" fill="#000" fill-opacity="0.45"/>
<circle cx="378.8" cy="207.0" r="0.35" fill="#000" fill-opacity="0.45"/>
<circle cx="380.4" cy="208.1" r="0.35" fill="#000" fill-opacity="0.45"/>
<circle cx="381.1" cy="205.8" r="0.35" fill="#000" fill-opacity="0.45"/>
<circle cx="386.3" cy="211.2" r="0.35" fill="#000" fill-opacity="0.45"/>
<circle cx="373.2" cy="213.2" r="0.35" fill="#000" fill-opacity="0.45"/>
<circle cx="377.6" cy="205.5" r="0.35" fill="#000" fill-opacity="0.45"/>
<circle cx="380.7" cy="208.1" r="0.35" fill="#000" fill-opacity="0.45"/>
<circle cx="381.7" cy="208.0" r="0.35" fill="#000" fill-opacity="0.45"/>
<circle cx="382.2" cy="210.9" r="0.35" fill="#000" fill-opacity="0.45"/>
<circle cx="380.4" cy="211.0" r="0.35" fill="#000" fill-opacity="0.45"/>
<circle cx="378.0" cy="208.8" r="0.35" fill="#000" fill-opacity="0.45"/>
<circle cx="380.7" cy="213.2" r="0.35" fill="#000" fill-opacity="0.45"/>
<circle cx="377.8" cy="219.6" r="0.35" fill="#000" fill-opacity="0.45"/>
<circle cx="384.9" cy="205.5" r="0.35" fill="#000" fill-opacity="0.45"/>
<circle cx="382.9" cy="210.0" r="0.35" fill="#000" fill-opacity="0.45"/>
<circle cx="380.0" cy="207.0" r="0.35" fill="#000" fill-opacity="0.45"/>
<circle cx="384.8" cy="206.9" r="0.35" fill="#000" fill-opacity="0.45"/>
<circle cx="378.9" cy="207.3" r="0.35" fill="#000" fill-opacity="0.45"/>
<circle cx="385.7" cy="215.5" r="0.35" fill="#000" fill-opacity="0.45"/>
<circle cx="374.8" cy="208.4" r="0.35" fill="#000" fill-opacity="0.45"/>
<circle cx="380.4" cy="208.5" r="0.35" fill="#000" fill-opacity="0.45"/>
<circle cx="378.0" cy="205.8" r="0.35" fill="#000" fill-opacity="0.45"/>
<circle cx="380.0" cy="205.8" r="0.35" fill="#000" fill-opacity="0.45"/>
<circle cx="382.0" cy="220.2" r="0.35" fill="#000" fill-opacity="0.45"/>
<circle cx="378.1" cy="217.1" r="0.35" fill="#000" fill-opacity="0.45"/>
<circle cx="380.5" cy="207.5" r="0.35" fill="#000" fill-opacity="0.45"/>
<circle cx="378.0" cy="206.3" r="0.35" fill="#000" fill-opacity="0.45"/>
<circle cx="379.6" cy="213.2" r="0.35" fill="#000" fill-opacity="0.45"/>
<circle cx="382.3" cy="209.2" r="0.35" fill="#000" fill-opacity="0.45"/>
<circle cx="375.2" cy="210.0" r="0.35" fill="#000" fill-opacity="0.45"/>
<circle cx="384.8" cy="211.5" r="0.35" fill="#000" fill-opacity="0.45"/>
<circle cx="379.0" cy="201.7" r="0.35" fill="#000" fill-opacity="0.45"/>
<circle cx="377.7" cy="212.6" r="0.35" fill="#000" fill-opacity="0.45"/>
<circle cx="376.0" cy="215.9" r="0.35" fill="#000" fill-opacity="0.45"/>
<circle cx="377.3" cy="206.7" r="0.35" fill="#000" fill-opacity="0.45"/>
<circle cx="377.3" cy="209.9" r="0.35" fill="#000" fill-opacity="0.45"/>
<circle cx="382.5" cy="208.0" r="0.35" fill="#000" fill-opacity="0.45"/>
<circle cx="373.2" cy="210.0" r="0.35" fill="#000" fill-opacity="0.45"/>
<circle cx="381.0" cy="216.7" r="0.35" fill="#000" fill-opacity="0.45"/>
<circle cx="375.4" cy="216.4" r="0.35" fill="#000" fill-opacity="0.45"/>
<circle cx="381.5" cy="212.2" r="0.35" fill="#000" fill-opacity="0.45"/>
<circle cx="376.6" cy="206.7" r="0.35" fill="#000" fill-opacity="0.45"/>
<circle cx="376.0" cy="214.2" r="0.35" fill="#000" fill-opacity="0.45"/>
<circle cx="379.9" cy="214.7" r="0.35" fill="#000" fill-opacity="0.45"/>
<circle cx="385.3" cy="210.4" r="0.35" fill="#000" fill-opacity="0.45"/>
<circle cx="379.0" cy="218.2" r="0.35" fill="#000" fill-opacity="0.45"/>
<circle cx="374.8" cy="208.5" r="0.35" fill="#000" fill-opacity="0.45"/>
<circle cx="378.0" cy="208.8" r="0.35" fill="#000" fill-opacity="0.45"/>
<circle cx="379.7" cy="206.9" r="0.35" fill="#000" fill-opacity="0.45"/>
<circle cx="383.1" cy="204.7" r="0.35" fill="#000" fill-opacity="0.45"/>
<circle cx="376.5" cy="203.4" r="0.35" fill="#000" fill-opacity="0.45"/>
<circle cx="374.5" cy="212.7" r="0.35" fill="#000" fill-opacity="0.45"/>
<circle cx="381.3" cy="209.5" r="0.35" fill="#000" fill-opacity="0.45"/>
<circle cx="382.0" cy="212.9" r="0.35" fill="#000" fill-opacity="0.45"/>
<circle cx="377.3" cy="210.2" r="0.35" fill="#000" fill-opacity="0.45"/>
<circle cx="380.4" cy="218.6" r="0.35" fill="#000" fill-opacity="0.45"/>
<circle cx="377.7" cy="211.8" r="0.35" fill="#000" fill-opacity="0.45"/>
<circle cx="381.0" cy="215.3" r="0.35" fill="#000" fill-opacity="0.45"/>
<circle cx="380.6" cy="214.7" r="0.35" fill="#000" fill-opacity="0.45"/>
<circle cx="375.6" cy="209.2" r="0.35" fill="#000" fill-opacity="0.45"/>
<circle cx="372.7" cy="210.1" r="0.35" fill="#000" fill-opacity="0.45"/>
<circle cx="387.0" cy="211.3" r="0.35" fill="#000" fill-opacity="0.45"/>
<circle cx="379.5" cy="211.4" r="0.35" fill="#000" fill-opacity="0.45"/>
<circle cx="379.7" cy="204.9" r="0.35" fill="#000" fill-opacity="0.45"/>
<circle cx="376.9" cy="209.6" r="0.35" fill="#000" fill-opacity="0.45"/>
<circle cx="379.8" cy="206.8" r="0.35" fill="#000" fill-opacity="0.45"/>
<circle cx="378.8" cy="207.3" r="0.35" fill="#000" fill-opacity="0.45"/>
<circle cx="374.8" cy="207.6" r="0.35" fill="#000" fill-opacity="0.45"/>
<circle cx="376.5" cy="213.8" r="0.35" fill="#000" fill-opacity="0.45"/>
<circle cx="383.7" cy="212.7" r="0.35" fill="#000" fill-opacity="0.45"/>
<circle cx="378.5" cy="208.0" r="0.35" fill="#000" fill-opacity="0.45"/>
<circle cx="374.0" cy="208.2" r="0.35" fill="#000" fill-opacity="0.45"/>
<circle cx="384.4" cy="215.1" r="0.35" fill="#000" fill-opacity="0.45"/>
<circle cx="380.0" cy="209.3" r="0.35" fill="#000" fill-opacity="0.45"/>
<circle cx="379.2" cy="212.1" r="0.35" fill="#000" fill-opacity="0.45"/>
<circle cx="379.2" cy="212.1" r="0.35" fill="#000" fill-opacity="0.45"/>
<circle cx="376.6" cy="210.5" r="0.35" fill="#000" fill-opacity="0.45"/>
<circle cx="378.0" cy="214.7" r="0.35" fill="#000" fill-opacity="0.45"/>
<circle cx="375.1" cy="215.6" r="0.35" fill="#000" fill-opacity="0.45"/>
<circle cx="378.9" cy="208.3" r="0.35" fill="#000" fill-opacity="0.45"/>
<circle cx="379.3" cy="210.8" r="0.35" fill="#000" fill-opacity="0.45"/>
<circle cx="378.4" cy="212.1" r="0.35" fill="#000" fill-opacity="0.45"/>
<circle cx="377.3" cy="203.4" r="0.35" fill="#000" fill-opacity="0.45"/>
<circle cx="381.5" cy="210.2" r="0.35" fill="#000" fill-opacity="0.45"/>
<circle cx="384.8" cy="211.9" r="0.35" fill="#000" fill-opacity="0.45"/>
<circle cx="372.5" cy="215.4" r="0.35" fill="#000" fill-opacity="0.45"/>
<circle cx="376.9" cy="212.6" r="0.35" fill="#000" fill-opacity="0.45"/>
<circle cx="386.6" cy="214.8" r="0.35" fill="#000" fill-opacity="0.45"/>
<circle cx="375.5" cy="210.0" r="0.35" fill="#000" fill-opacity="0.45"/>
<circle cx="373.8" cy="213.1" r="0.35" fill="#000" fill-opacity="0.45"/>
<circle cx="381.1" cy="206.1" r="0.35" fill="#000" fill-opacity="0.45"/>
<circle cx="380.7" cy="214.2" r="0.35" fill="#000" fill-opacity="0.45"/>
<circle cx="381.9" cy="207.6" r="0.35" fill="#000" fill-opacity="0.45"/>
<circle cx="376.9" cy="205.7" r="0.35" fill="#000" fill-opacity="0.45"/>
<circle cx="374.9" cy="211.6" r="0.35" fill="#000" fill-opacity="0.45"/>
<circle cx="379.3" cy="215.7" r="0.35" fill="#000" fill-opacity="0.45"/>
<circle cx="380.1" cy="209.0" r="0.35" fill="#000" fill-opacity="0.45"/>
<circle cx="374.4" cy="216.7" r="0.35" fill="#000" fill-opacity="0.45"/>
<circle cx="379.8" cy="210.2" r="0.35" fill="#000" fill-opacity="0.45"/>
<circle cx="375.8" cy="206.0" r="0.35" fill="#000" fill-opacity="0.45"/>
<circle cx="381.3" cy="206.4" r="0.35" fill="#000" fill-opacity="0.45"/>
<circle cx="381.2" cy="212.9" r="0.35" fill="#000" fill-opacity="0.45"/>
<circle cx="377.9" cy="203.7" r="0.35" fill="#000" fill-opacity="0.45"/>
<circle cx="380.6" cy="216.1" r="0.35" fill="#000" fill-opacity="0.45"/>
<circle cx="376.4" cy="205.2" r="0.35" fill="#000" fill-opacity="0.45"/>
<circle cx="382.8" cy="210.9" r="0.35" fill="#000" fill-opacity="0.45"/>
<circle cx="377.1" cy="215.3" r="0.35" fill="#000" fill-opacity="0.45"/>
<circle cx="378.3" cy="212.2" r="0.35" fill="#000" fill-opacity="0.45"/>
<circle cx="377.9" cy="207.3" r="0.35" fill="#000" fill-opacity="0.45"/>
<circle cx="379.9" cy="206.8" r="0.35" fill="#000" fill-opacity="0.45"/>
<circle cx="373.3" cy="208.1" r="0.35" fill="#000" fill-opacity="0.45"/>
<circle cx="383.3" cy="214.8" r="0.35" fill="#000" fill-opacity="0.45"/>
<circle cx="386.5" cy="214.4" r="0.35" fill="#000" fill-opacity="0.45"/>
<circle cx="384.6" cy="211.4" r="0.35" fill="#000" fill-opacity="0.45"/>
<circle cx="377.7" cy="212.2" r="0.35" fill="#000" fill-opacity="0.45"/>
<circle cx="376.0" cy="213.3" r="0.35" fill="#000" fill-opacity="0.45"/>
<circle cx="377.7" cy="211.4" r="0.35" fill="#000" fill-opacity="0.45"/>
<circle cx="376.4" cy="209.8" r="0.35" fill="#000" fill-opacity="0.45"/>
<circle cx="382.5" cy="209.5" r="0.35" fill="#000" fill-opacity="0.45"/>
<circle cx="377.0" cy="211.5" r="0.35" fill="#000" fill-opacity="0.45"/>
<circle cx="382.1" cy="209.6" r="0.35" fill="#000" fill-opacity="0.45"/>
<circle cx="375.3" cy="204.0" r="0.35" fill="#000" fill-opacity="0.45"/>
<circle cx="374.7" cy="214.7" r="0.35" fill="#000" fill-opacity="0.45"/>
<circle cx="378.9" cy="212.3" r="0.35" fill="#000" fill-opacity="0.45"/>
<circle cx="382.8" cy="211.5" r="0.35" fill="#000" fill-opacity="0.45"/>
<circle cx="380.8" cy="208.3" r="0.35" fill="#000" fill-opacity="0.45"/>
<circle cx="373.8" cy="212.9" r="0.35" fill="#000" fill-opacity="0.45"/>
<circle cx="378.9" cy="212.7" r="0.35" fill="#000" fill-opacity="0.45"/>
<circle cx="375.6" cy="209.8" r="0.35" fill="#000" fill-opacity="0.45"/>
<circle cx="385.9" cy="206.9" r="0.35" fill="#000" fill-opacity="0.45"/>
<circle cx="379.5" cy="215.7" r="0.35" fill="#000" fill-opacity="0.45"/>
<circle cx="378.4" cy="210.9" r="0.35" fill="#000" fill-opacity="0.45"/>
<circle cx="372.1" cy="213.5" r="0.35" fill="#000" fill-opacity="0.45"/>
<circle cx="377.7" cy="215.6" r="0.35" fill="#000" fill-opacity="0.45"/>
<circle cx="378.9" cy="208.8" r="0.35" fill="#000" fill-opacity="0.45"/>
<circle cx="380.7" cy="209.4" r="0.35" fill="#000" fill-opacity="0.45"/>
<circle cx="377.5" cy="216.6" r="0.35" fill="#000" fill-opacity="0.45"/>
<circle cx="382.5" cy="210.8" r="0.35" fill="#000" fill-opacity="0.45"/>
<circle cx="381.9" cy="213.7" r="0.35" fill="#000" fill-opacity="0.45"/>
<circle cx="381.1" cy="210.5" r="0.35" fill="#000" fill-opacity="0.45"/>
<circle cx="379.4" cy="212.0" r="0.35" fill="#000" fill-opacity="0.45"/>
<circle cx="381.1" cy="211.8" r="0.35" fill="#000" fill-opacity="0.45"/>
<circle cx="377.4" cy="210.0" r="0.35" fill="#000" fill-opacity="0.45"/>
<circle cx="380.7" cy="206.4" r="0.35" fill="#000" fill-opacity="0.45"/>
<circle cx="379.2" cy="213.4" r="0.35" fill="#000" fill-opacity="0.45"/>
<circle cx="379.8" cy="209.2" r="0.35" fill="#000" fill-opacity="0.45"/>
<circle cx="379.1" cy="208.4" r="0.35" fill="#000" fill-opacity="0.45"/>
<circle cx="382.5" cy="208.8" r="0.35" fill="#000" fill-opacity="0.45"/>
<circle cx="373.7" cy="205.5" r="0.35" fill="#000" fill-opacity="0.45"/>
<circle cx="380.2" cy="211.2" r="0.35" fill="#000" fill-opacity="0.45"/>
<circle cx="377.6" cy="205.1" r="0.35" fill="#000" fill-opacity="0.45"/>
<circle cx="378.7" cy="207.0" r="0.35" fill="#000" fill-opacity="0.45"/>
<circle cx="377.0" cy="210.4" r="0.35" fill="#000" fill-opacity="0.45"/>
<circle cx="376.6" cy="211.6" r="0.35" fill="#000" fill-opacity="0.45"/>
<circle cx="376.7" cy="208.5" r="0.35" fill="#000" fill-opacity="0.45"/>
<circle cx="378.4" cy="216.3" r="0.35" fill="#000" fill-opacity="0.45"/>
<circle cx="384.4" cy="214.2" r="0.35" fill="#000" fill-opacity="0.45"/>
<circle cx="376.7" cy="210.4" r="0.35" fill="#000" fill-opacity="0.45"/>
<circle cx="382.2" cy="213.6" r="0.35" fill="#000" fill-opacity="0.45"/>
<circle cx="373.8" cy="210.1" r="0.35" fill="#000" fill-opacity="0.45"/>
<circle cx="376.7" cy="213.4" r="0.35" fill="#000" fill-opacity="0.45"/>
<circle cx="381.3" cy="208.2" r="0.35" fill="#000" fill-opacity="0.45"/>
<circle cx="386.3" cy="209.2" r="0.35" fill="#000" fill-opacity="0.45"/>
<circle cx="387.3" cy="209.7" r="0.35" fill="#000" fill-opacity="0.45"/>
<circle cx="378.9" cy="218.0" r="0.35" fill="#000" fill-opacity="0.45"/>
<circle cx="377.4" cy="208.5" r="0.35" fill="#000" fill-opacity="0.45"/>
<circle cx="384.1" cy="210.2" r="0.35" fill="#000" fill-opacity="0.45"/>
<circle cx="380.8" cy="205.3" r="0.35" fill="#000" fill-opacity="0.45"/>
<circle cx="385.2" cy="214.3" r="0.35" fill="#000" fill-opacity="0.45"/>
<circle cx="380.4" cy="213.2" r="0.35" fill="#000" fill-opacity="0.45"/>
<circle cx="377.5" cy="208.5" r="0.35" fill="#000" fill-opacity="0.45"/>
<circle cx="374.0" cy="211.8" r="0.35" fill="#000" fill-opacity="0.45"/>
<circle cx="383.3" cy="213.8" r="0.35" fill="#000" fill-opacity="0.45"/>
<circle cx="382.3" cy="213.2" r="0.35" fill="#000" fill-opacity="0.45"/>
<ellipse cx="379.2" cy="209.3" rx="7.8" ry="8.4" fill="url(#mott)" filter="url(#mo)"/>
</g>
<rect x="347.4" y="199.4" width="47.80000000000001" height="48.0" fill="none" stroke="#555" stroke-width="0.55"/>
<line x1="367.8" y1="199.4" x2="367.8" y2="247.4" stroke="#666" stroke-width="0.5"/>
<line x1="347.4" y1="223.3" x2="395.2" y2="223.3" stroke="#666" stroke-width="0.5"/>
<rect x="371.5" y="201.4" width="15.899999999999977" height="17.5" fill="none" stroke="#444" stroke-width="0.55"/>
<text x="373.7" y="178.6" font-size="7.8" text-anchor="middle" font-weight="normal" font-style="italic" fill="#111">Control</text>
<line x1="373.75" y1="180.8" x2="373.75" y2="187.6" stroke="#333" stroke-width="0.5"/>
<polyline points="372.65,186.2 373.75,187.6 374.85,186.2" fill="none" stroke="#333" stroke-width="0.5"/>
<text x="374.3" y="195.9" font-size="7.8" text-anchor="middle" font-weight="normal" font-style="italic" fill="#111">Adam10/Mx1</text>
<text x="399.8" y="163.5" font-size="12.1" text-anchor="start" font-weight="bold" font-style="normal" fill="#000">H</text>
<rect x="428.6" y="163.6" width="4.5" height="4.5" fill="#fff" stroke="#111" stroke-width="0.5"/>
<rect x="428.6" y="171.2" width="4.5" height="4.5" fill="#888" stroke="#777" stroke-width="0.5"/>
<rect x="428.6" y="179.29999999999998" width="4.5" height="4.5" fill="#111" stroke="#111" stroke-width="0.5"/>
<text y="168" font-size="6.4" font-style="italic" fill="#111"><tspan x="436.2" y="168">Control</tspan><tspan x="458.1" dy="-1.1" stroke-width="0.25" fill="#444" stroke="#444" font-size="8.8" font-style="normal">→</tspan><tspan x="467.4" y="168">Control</tspan></text>
<text y="175.7" font-size="6.4" font-style="italic" fill="#111"><tspan x="436.2" y="175.7">Adam10/Mx1</tspan><tspan x="475.1" dy="-1.1" stroke-width="0.25" fill="#444" stroke="#444" font-size="8.8" font-style="normal">→</tspan><tspan x="482.7" y="175.7">Control</tspan></text>
<text y="183.7" font-size="6.4" font-style="italic" fill="#111"><tspan x="436.2" y="183.7">Control</tspan><tspan x="455.3" dy="-1.1" stroke-width="0.25" fill="#444" stroke="#444" font-size="8.8" font-style="normal">→</tspan><tspan x="465.0" y="183.7">Adam10/Mx1</tspan></text>
<text x="417" y="241.5" font-size="7.1" text-anchor="middle" fill="#111" transform="rotate(-90 417 241.5)">absolute number (×10<tspan font-size="3.9" dy="-2">7</tspan><tspan dy="2">)</tspan></text>
<line x1="428.8" y1="196.8" x2="428.8" y2="280.8" stroke="#111" stroke-width="0.9"/>
<line x1="427.1" y1="280.8" x2="428.8" y2="280.8" stroke="#111" stroke-width="0.7"/>
<text x="425.6" y="282.78" font-size="5.5" text-anchor="end" font-weight="normal" font-style="normal" fill="#111">0</text>
<line x1="427.1" y1="262.2" x2="428.8" y2="262.2" stroke="#111" stroke-width="0.7"/>
<text x="425.6" y="264.18" font-size="5.5" text-anchor="end" font-weight="normal" font-style="normal" fill="#111">2</text>
<line x1="427.1" y1="243.6" x2="428.8" y2="243.6" stroke="#111" stroke-width="0.7"/>
<text x="425.6" y="245.58" font-size="5.5" text-anchor="end" font-weight="normal" font-style="normal" fill="#111">4</text>
<line x1="427.1" y1="225" x2="428.8" y2="225" stroke="#111" stroke-width="0.7"/>
<text x="425.6" y="226.98" font-size="5.5" text-anchor="end" font-weight="normal" font-style="normal" fill="#111">6</text>
<line x1="427.1" y1="206.4" x2="428.8" y2="206.4" stroke="#111" stroke-width="0.7"/>
<text x="425.6" y="208.38" font-size="5.5" text-anchor="end" font-weight="normal" font-style="normal" fill="#111">8</text>
<line x1="427.5" y1="271.5" x2="428.8" y2="271.5" stroke="#111" stroke-width="0.5"/>
<line x1="427.5" y1="252.9" x2="428.8" y2="252.9" stroke="#111" stroke-width="0.5"/>
<line x1="427.5" y1="234.3" x2="428.8" y2="234.3" stroke="#111" stroke-width="0.5"/>
<line x1="427.5" y1="215.7" x2="428.8" y2="215.7" stroke="#111" stroke-width="0.5"/>
<line x1="427.5" y1="197.2" x2="428.8" y2="197.2" stroke="#111" stroke-width="0.5"/>
<rect x="435" y="266.75" width="9.5" height="14.050000000000011" fill="#fff" stroke="#111" stroke-width="0.75"/>
<line x1="440" y1="262.5" x2="440" y2="266.75" stroke="#666" stroke-width="0.7"/>
<line x1="439.0" y1="262.5" x2="441.0" y2="262.5" stroke="#666" stroke-width="0.7"/>
<rect x="444.5" y="272" width="9.25" height="8.800000000000011" fill="#888" stroke="#111" stroke-width="0.75"/>
<line x1="449.25" y1="268.25" x2="449.25" y2="272" stroke="#666" stroke-width="0.7"/>
<line x1="448.25" y1="268.25" x2="450.25" y2="268.25" stroke="#666" stroke-width="0.7"/>
<rect x="453.75" y="260" width="8.75" height="20.80000000000001" fill="#111" stroke="#111" stroke-width="0.75"/>
<line x1="458" y1="250.5" x2="458" y2="260" stroke="#666" stroke-width="0.7"/>
<line x1="457.0" y1="250.5" x2="459.0" y2="250.5" stroke="#666" stroke-width="0.7"/>
<polyline points="439.25,260 439.25,255.75 449.25,255.75 449.25,260.75" fill="none" stroke="#222" stroke-width="0.6"/>
<text x="443.75" y="256.65" font-size="10.5" text-anchor="middle" font-weight="bold" font-style="normal" fill="#111">*</text>
<rect x="476.25" y="279.7" width="9.25" height="1.1000000000000227" fill="#fff" stroke="#111" stroke-width="0.75"/>
<rect x="485.5" y="269.5" width="9.5" height="11.300000000000011" fill="#888" stroke="#111" stroke-width="0.75"/>
<line x1="490" y1="263" x2="490" y2="269.5" stroke="#666" stroke-width="0.7"/>
<line x1="489.0" y1="263" x2="491.0" y2="263" stroke="#666" stroke-width="0.7"/>
<rect x="495.1" y="228.3" width="8.399999999999977" height="52.5" fill="#111" stroke="#111" stroke-width="0.75"/>
<line x1="499.2" y1="202.5" x2="499.2" y2="228.25" stroke="#999" stroke-width="0.7"/>
<line x1="498.59999999999997" y1="202.5" x2="499.8" y2="202.5" stroke="#999" stroke-width="0.7"/>
<polyline points="479,236 479,195.7 499.2,195.7 499.2,199.5" fill="none" stroke="#222" stroke-width="0.6"/>
<line x1="479" y1="236" x2="479" y2="267.3" stroke="#999" stroke-width="0.8"/>
<text x="489.25" y="197.25" font-size="10.5" text-anchor="middle" font-weight="bold" font-style="normal" fill="#111">**</text>
<polyline points="481.75,261.25 481.75,254.5 490,254.5 490,258.75" fill="none" stroke="#222" stroke-width="0.6"/>
<text x="485.2" y="256.25" font-size="10.5" text-anchor="middle" font-weight="bold" font-style="normal" fill="#111">**</text>
<line x1="428.3" y1="280.7" x2="510.8" y2="280.7" stroke="#111" stroke-width="1.1"/>
<text x="437.6" y="289.8" font-size="7.9" text-anchor="start" font-weight="normal" font-style="normal" fill="#111">CD3e<tspan font-size="6.6" dy="-1.3">+</tspan></text>
<text x="469.4" y="289.8" font-size="7.9" text-anchor="start" font-weight="normal" font-style="normal" fill="#111">Gr-1<tspan font-size="6.6" dy="-1.3">+</tspan><tspan dy="1.3"> CD11b</tspan><tspan font-size="6.6" dy="-1.3">+</tspan></text>
</svg>
</body></html>
